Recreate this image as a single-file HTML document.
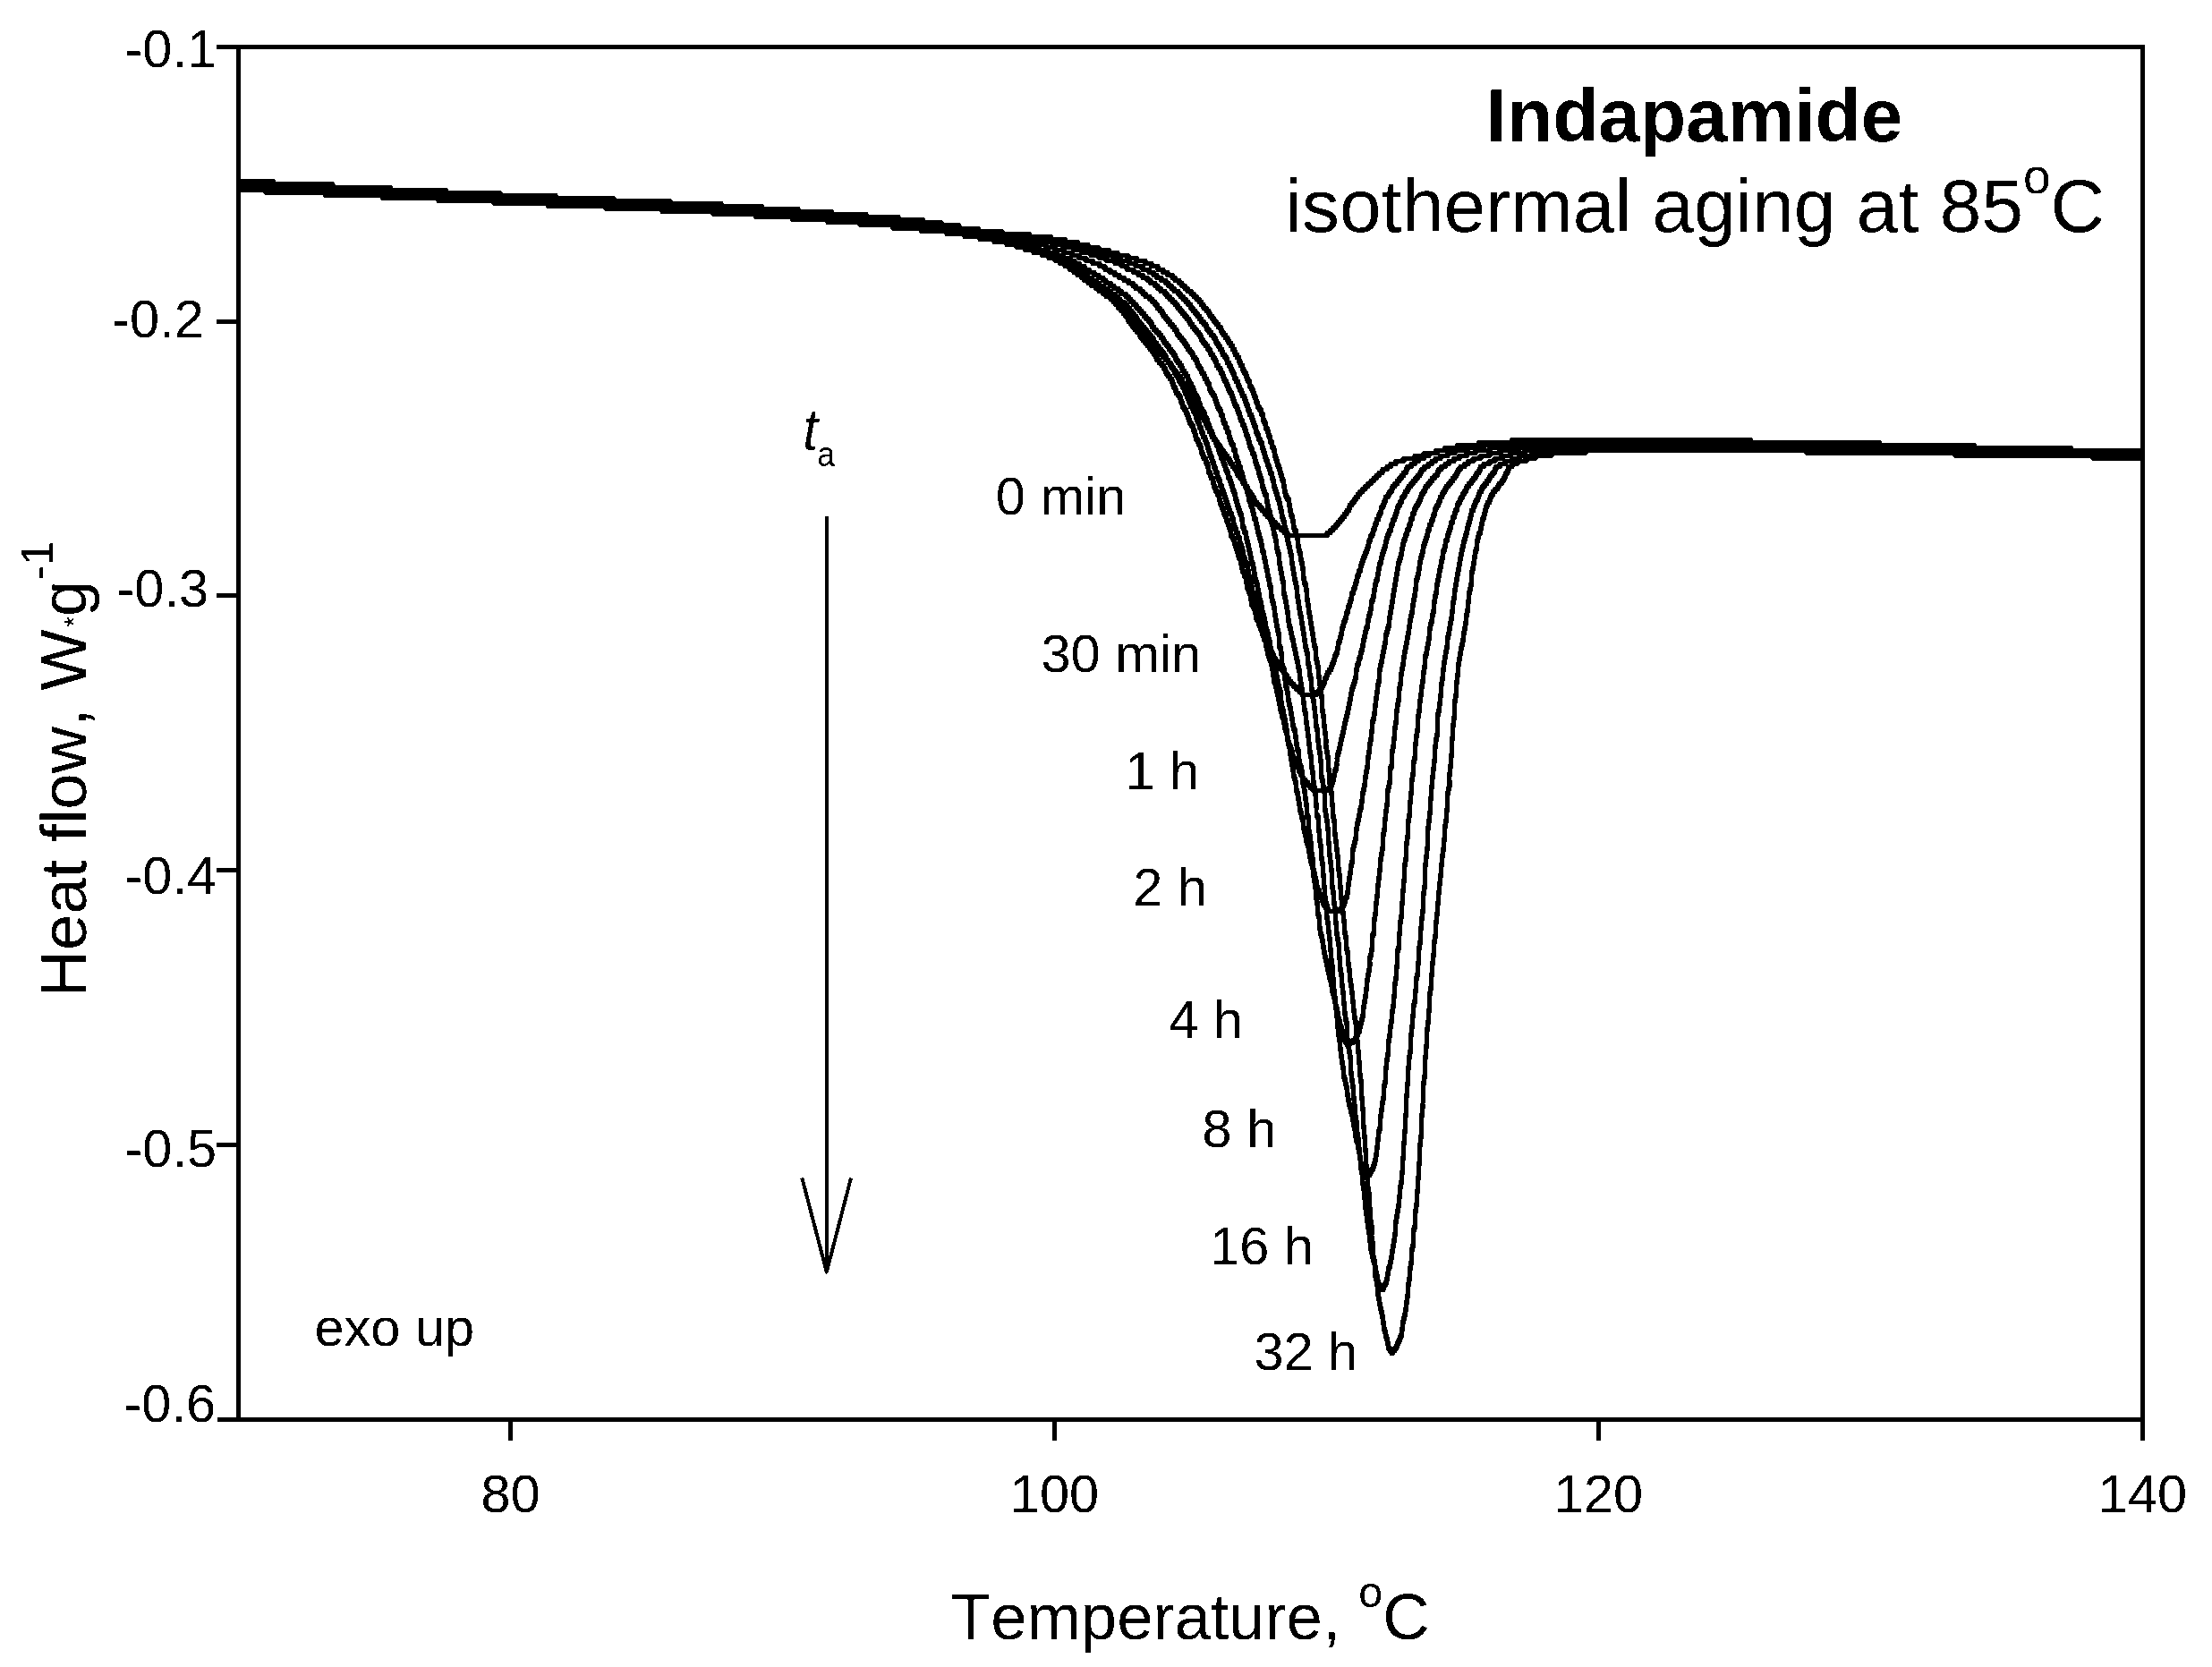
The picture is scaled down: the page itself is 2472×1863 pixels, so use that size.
<!DOCTYPE html>
<html lang="en"><head><meta charset="utf-8"><title>Indapamide isothermal aging at 85 C</title>
<style>
html,body{margin:0;padding:0;background:#fff;}
body{width:2472px;height:1863px;overflow:hidden;}
svg{display:block;}
text{font-family:"Liberation Sans",Arial,Helvetica,sans-serif;fill:#000;font-kerning:none;font-variant-ligatures:none;}
.ax{stroke:#000;stroke-width:5;fill:none;}
.cv{stroke:#000;stroke-width:5.0;fill:none;stroke-linejoin:round;stroke-linecap:butt;}
.ar{stroke:#000;stroke-width:4;fill:none;stroke-linejoin:round;}
</style></head><body>
<svg width="2472" height="1863" viewBox="0 0 2472 1863">
<defs><filter id="bw" x="0" y="0" width="2472" height="1863" filterUnits="userSpaceOnUse" color-interpolation-filters="sRGB"><feComponentTransfer><feFuncA type="discrete" tableValues="0 1"/></feComponentTransfer></filter></defs>
<rect width="2472" height="1863" fill="#fff"/>

<g fill="#000" stroke="none" shape-rendering="crispEdges">
<path d="M269 209.6L308.9 209.6L310.9 212.6L375 212.6L377 215.7L439.3 215.7L441.3 218.8L501.5 218.8L503.5 221.8L561.8 221.8L563.8 224.9L624.2 224.9L626.2 228L689 228L691.1 231L751.8 231L753.8 234.1L807.1 234.1L809.2 237.2L852.8 237.2L854.8 240.2L893.4 240.2L895.4 243.3L932.8 243.3L934.7 246.4L969.5 246.4L971.5 249.4L1005.5 249.4L1007.5 252.5L1035.1 252.5L1037.1 255.6L1059.5 255.6L1061.5 258.6L1079.4 258.6L1081.4 261.7L1096.8 261.7L1098.7 264.8L1112.6 264.8L1114.6 267.8L1126.5 267.8L1128.4 270.9L1138.1 270.9L1140 274L1147.5 274L1149.3 277L1156.9 277L1158.8 280.1L1166.5 280.1L1168.4 283.2L1174 283.2L1175.8 286.2L1181.3 286.2L1183.1 289.3L1186.6 289.3L1188.4 292.4L1191.9 292.4L1193.7 295.4L1197.2 295.4L1198.9 298.5L1202.3 298.5L1204 301.6L1205.7 301.6L1207.4 304.7L1210.8 304.7L1212.4 307.7L1214 307.7L1215.6 310.8L1219 310.8L1220.6 313.9L1222.3 313.9L1224 316.9L1227.4 316.9L1229.1 320L1230.8 320L1232.6 323.1L1236.1 323.1L1237.8 326.1L1239.5 326.1L1241.2 329.2L1244.3 329.2L1245.9 332.3L1247.4 332.3L1248.9 335.3L1250.4 335.3L1251.9 338.4L1253.4 338.4L1254.9 341.5L1256.4 341.5L1257.8 344.5L1259.2 344.5L1260.5 347.6L1261.9 347.6L1263.2 350.7L1264.6 350.7L1265.9 353.7L1267.2 353.7L1268.4 356.8L1269.6 356.8L1270.8 359.9L1272.1 359.9L1273.3 362.9L1274.6 362.9L1276 366L1277.4 366L1278.9 369.1L1280.3 369.1L1281.7 372.1L1283.1 372.1L1284.5 375.2L1285.8 375.2L1287.2 378.3L1288.5 378.3L1289.8 381.3L1291.2 381.3L1292.5 384.4L1293.8 384.4L1295.1 387.5L1296.4 387.5L1297.7 390.5L1299 390.5L1300.3 393.6L1301.7 393.6L1303.1 396.7L1304.5 396.7L1305.9 399.7L1307.3 399.7L1308.6 402.8L1309.9 402.8L1311.1 405.9L1312.4 408.9L1313.6 408.9L1314.9 412L1316.1 412L1317.3 415.1L1318.5 415.1L1319.7 418.1L1320.7 418.1L1321.8 421.2L1322.8 421.2L1323.9 424.3L1325 427.3L1326.2 427.3L1327.4 430.4L1328.5 430.4L1329.7 433.5L1330.8 433.5L1331.8 436.5L1332.8 439.6L1333.8 439.6L1334.7 442.7L1335.7 442.7L1336.7 445.7L1337.6 448.8L1338.6 448.8L1339.5 451.9L1340.4 451.9L1341.3 454.9L1342.2 454.9L1343.1 458L1344 461.1L1345 461.1L1346.2 464.1L1347.3 464.1L1348.3 467.2L1349.3 467.2L1350.2 470.3L1351 473.3L1351.9 473.3L1352.7 476.4L1353.6 476.4L1354.5 479.5L1355.5 479.5L1356.5 482.5L1357.5 485.6L1358.5 485.6L1359.5 488.7L1360.6 488.7L1361.7 491.7L1362.8 491.7L1364 494.8L1365.2 494.8L1366.4 497.9L1367.7 500.9L1368.9 500.9L1370.1 504L1371.2 504L1372.3 507.1L1373.4 507.1L1374.6 510.1L1375.8 510.1L1377.1 513.2L1378.3 516.3L1379.6 516.3L1380.7 519.3L1381.8 519.3L1382.9 522.4L1384 522.4L1385.1 525.5L1386.3 528.5L1387.5 528.5L1388.7 531.6L1389.9 531.6L1391.1 534.7L1392.2 537.7L1393.4 537.7L1394.5 540.8L1395.6 540.8L1396.8 543.9L1397.9 546.9L1399 546.9L1400.1 550L1401.2 550L1402.2 553.1L1403.3 553.1L1404.3 556.1L1405.5 559.2L1406.7 559.2L1408.1 562.3L1409.5 562.3L1410.9 565.3L1412.3 565.3L1413.7 568.4L1415.1 568.4L1416.5 571.5L1417.8 571.5L1419.4 574.5L1420.9 574.5L1422.4 577.6L1424 577.6L1425.5 580.7L1427 580.7L1428.5 583.7L1430 583.7L1431.6 586.8L1433.3 586.8L1434.9 589.9L1436.7 589.9L1438.5 592.9L1440.4 592.9L1442.3 596L1485 596L1485 601L1480 601L1437.3 601L1435.4 597.9L1433.5 597.9L1431.7 594.9L1429.9 594.9L1428.3 591.8L1426.6 591.8L1425 588.7L1423.5 588.7L1422 585.7L1420.5 585.7L1419 582.6L1417.4 582.6L1415.9 579.5L1414.4 579.5L1412.8 576.5L1411.5 576.5L1410.1 573.4L1408.7 573.4L1407.3 570.3L1405.9 570.3L1404.5 567.3L1403.1 567.3L1401.7 564.2L1400.5 564.2L1399.3 561.1L1398.3 558.1L1397.2 558.1L1396.2 555L1395.1 555L1394 551.9L1392.9 551.9L1391.8 548.9L1390.6 545.8L1389.5 545.8L1388.4 542.7L1387.2 542.7L1386.1 539.7L1384.9 536.6L1383.7 536.6L1382.5 533.5L1381.3 533.5L1380.1 530.5L1379 527.4L1377.9 527.4L1376.8 524.3L1375.7 524.3L1374.6 521.3L1373.3 521.3L1372.1 518.2L1370.8 515.1L1369.6 515.1L1368.4 512.1L1367.3 512.1L1366.2 509L1365.1 509L1363.9 505.9L1362.7 505.9L1361.4 502.9L1360.2 499.8L1359 499.8L1357.8 496.7L1356.7 496.7L1355.6 493.7L1354.5 493.7L1353.5 490.6L1352.5 490.6L1351.5 487.5L1350.5 484.5L1349.5 484.5L1348.6 481.4L1347.7 481.4L1346.9 478.3L1346 478.3L1345.2 475.3L1344.3 472.2L1343.3 472.2L1342.3 469.1L1341.2 469.1L1340 466.1L1339 466.1L1338.1 463L1337.2 459.9L1336.3 459.9L1335.4 456.9L1334.5 456.9L1333.6 453.8L1332.6 453.8L1331.7 450.7L1330.7 447.7L1329.7 447.7L1328.8 444.6L1327.8 444.6L1326.8 441.5L1325.8 438.5L1324.7 438.5L1323.5 435.4L1322.4 435.4L1321.2 432.3L1320 432.3L1318.9 429.3L1317.8 426.2L1316.8 426.2L1315.7 423.1L1314.7 423.1L1313.5 420.1L1312.3 420.1L1311.1 417L1309.9 417L1308.6 413.9L1307.4 413.9L1306.1 410.9L1304.9 407.8L1303.6 407.8L1302.3 404.7L1300.9 404.7L1299.5 401.7L1298.1 401.7L1296.7 398.6L1295.3 398.6L1294 395.5L1292.7 395.5L1291.4 392.5L1290.1 392.5L1288.8 389.4L1287.5 389.4L1286.2 386.3L1284.8 386.3L1283.5 383.3L1282.2 383.3L1280.8 380.2L1279.5 380.2L1278.1 377.1L1276.7 377.1L1275.3 374.1L1273.9 374.1L1272.4 371L1271 371L1269.6 367.9L1268.3 367.9L1267.1 364.9L1265.8 364.9L1264.6 361.8L1263.4 361.8L1262.2 358.7L1260.9 358.7L1259.6 355.7L1258.2 355.7L1256.9 352.6L1255.5 352.6L1254.2 349.5L1252.8 349.5L1251.4 346.5L1249.9 346.5L1248.4 343.4L1246.9 343.4L1245.4 340.3L1243.9 340.3L1242.4 337.3L1240.9 337.3L1239.3 334.2L1236.2 334.2L1234.5 331.1L1232.8 331.1L1231.1 328.1L1227.6 328.1L1225.8 325L1224.1 325L1222.4 321.9L1219 321.9L1217.3 318.9L1215.6 318.9L1214 315.8L1210.6 315.8L1209 312.7L1207.4 312.7L1205.8 309.7L1202.4 309.7L1200.7 306.6L1199 306.6L1197.3 303.5L1193.9 303.5L1192.2 300.4L1188.7 300.4L1186.9 297.4L1183.4 297.4L1181.6 294.3L1178.1 294.3L1176.3 291.2L1170.8 291.2L1169 288.2L1163.4 288.2L1161.5 285.1L1153.8 285.1L1151.9 282L1144.3 282L1142.5 279L1135 279L1133.1 275.9L1123.4 275.9L1121.5 272.8L1109.6 272.8L1107.6 269.8L1093.7 269.8L1091.8 266.7L1076.4 266.7L1074.4 263.6L1056.5 263.6L1054.5 260.6L1032.1 260.6L1030.1 257.5L1002.5 257.5L1000.5 254.4L966.5 254.4L964.5 251.4L929.7 251.4L927.8 248.3L890.4 248.3L888.4 245.2L849.8 245.2L847.8 242.2L804.2 242.2L802.1 239.1L748.8 239.1L746.8 236L686.1 236L684 233L621.2 233L619.2 229.9L558.8 229.9L556.8 226.8L498.5 226.8L496.5 223.8L436.3 223.8L434.3 220.7L372 220.7L370 217.6L305.9 217.6L303.9 214.6L264 214.6L264 209.6ZM1480 596L1481.7 592.9L1483.3 592.9L1484.9 589.9L1486.5 589.9L1488.1 586.8L1489.6 586.8L1491 583.7L1492.3 583.7L1493.6 580.7L1494.8 580.7L1496 577.6L1497.3 577.6L1498.4 574.5L1499.6 574.5L1500.8 571.5L1502 571.5L1503.1 568.4L1504.3 568.4L1505.4 565.3L1506.5 562.3L1507.7 562.3L1508.8 559.2L1509.9 559.2L1511.1 556.1L1512.2 556.1L1513.3 553.1L1514.4 553.1L1515.6 550L1516.7 550L1518 546.9L1519.4 546.9L1520.9 543.9L1522.5 543.9L1524.2 540.8L1525.8 540.8L1527.4 537.7L1528.9 537.7L1530.6 534.7L1532.1 534.7L1533.6 531.6L1535.1 531.6L1536.7 528.5L1538.4 528.5L1540 525.5L1541.7 525.5L1543.4 522.4L1546.9 522.4L1548.6 519.3L1550.4 519.3L1552.3 516.3L1556.1 516.3L1558 513.2L1564.6 513.2L1566.9 510.1L1577.5 510.1L1579.5 507.1L1588 507.1L1590.2 504L1602.5 504L1604.6 500.9L1617.1 500.9L1619.2 497.9L1633.7 497.9L1635.7 494.8L1653.9 494.8L1655.9 491.7L1686.6 491.7L1688.8 488.7L1952.5 488.7L1957.5 488.7L1957.5 493.7L1693.8 493.7L1691.6 496.7L1660.9 496.7L1658.9 499.8L1640.7 499.8L1638.7 502.9L1624.2 502.9L1622.1 505.9L1609.6 505.9L1607.5 509L1595.2 509L1593 512.1L1584.5 512.1L1582.5 515.1L1571.9 515.1L1569.6 518.2L1563 518.2L1561.1 521.3L1557.3 521.3L1555.4 524.3L1553.6 524.3L1551.9 527.4L1548.4 527.4L1546.7 530.5L1545 530.5L1543.4 533.5L1541.7 533.5L1540.1 536.6L1538.6 536.6L1537.1 539.7L1535.6 539.7L1533.9 542.7L1532.4 542.7L1530.8 545.8L1529.2 545.8L1527.5 548.9L1525.9 548.9L1524.4 551.9L1523 551.9L1521.7 555L1520.6 555L1519.4 558.1L1518.3 558.1L1517.2 561.1L1516.1 561.1L1514.9 564.2L1513.8 564.2L1512.7 567.3L1511.5 567.3L1510.4 570.3L1509.3 573.4L1508.1 573.4L1507 576.5L1505.8 576.5L1504.6 579.5L1503.4 579.5L1502.3 582.6L1501 582.6L1499.8 585.7L1498.6 585.7L1497.3 588.7L1496 588.7L1494.6 591.8L1493.1 591.8L1491.5 594.9L1489.9 594.9L1488.3 597.9L1486.7 597.9L1485 601L1480 601ZM1957.5 488.7L1959.5 491.7L2101.5 491.7L2103.5 494.8L2207.5 494.8L2209.5 497.9L2315.5 497.9L2317.5 500.9L2397 500.9L2397 505.9L2392 505.9L2312.5 505.9L2310.5 502.9L2204.5 502.9L2202.5 499.8L2098.5 499.8L2096.5 496.7L1954.5 496.7L1952.5 493.7L1952.5 488.7Z"/>
<path d="M269 209.6L298.9 209.6L300.9 212.6L365 212.6L367 215.7L429.2 215.7L431.2 218.8L491.4 218.8L493.4 221.8L553.8 221.8L555.8 224.9L614.1 224.9L616.2 228L678.9 228L680.9 231L741.7 231L743.7 234.1L799.2 234.1L801.1 237.2L846.6 237.2L848.7 240.2L887.4 240.2L889.4 243.3L927 243.3L928.9 246.4L963.4 246.4L965.4 249.4L999.6 249.4L1001.6 252.5L1031 252.5L1033 255.6L1059.4 255.6L1061.5 258.6L1083.3 258.6L1085.2 261.7L1102.5 261.7L1104.6 264.8L1119.1 264.8L1121.1 267.8L1131.2 267.8L1133.2 270.9L1143.1 270.9L1145 274L1152.6 274L1154.5 277L1160.6 277L1162.6 280.1L1168.6 280.1L1170.6 283.2L1176.4 283.2L1178.4 286.2L1182.1 286.2L1184 289.3L1189.4 289.3L1191.2 292.4L1193 292.4L1194.8 295.4L1198.2 295.4L1199.9 298.5L1201.6 298.5L1203.3 301.6L1206.8 301.6L1208.5 304.7L1210.2 304.7L1211.8 307.7L1213.4 307.7L1214.9 310.8L1218 310.8L1219.7 313.9L1221.3 313.9L1223.1 316.9L1226.6 316.9L1228.2 320L1229.9 320L1231.5 323.1L1234.7 323.1L1236.4 326.1L1238.1 326.1L1239.8 329.2L1243.1 329.2L1244.6 332.3L1246 332.3L1247.4 335.3L1248.7 335.3L1250.1 338.4L1251.5 338.4L1252.9 341.5L1254.4 341.5L1255.8 344.5L1257.1 344.5L1258.4 347.6L1259.6 347.6L1260.8 350.7L1261.9 350.7L1263.1 353.7L1264.3 356.8L1265.5 356.8L1266.7 359.9L1267.8 359.9L1269 362.9L1270.2 362.9L1271.4 366L1272.7 366L1274 369.1L1275.4 369.1L1276.7 372.1L1278 375.2L1279.2 375.2L1280.4 378.3L1281.6 378.3L1282.9 381.3L1284.2 381.3L1285.6 384.4L1287 384.4L1288.4 387.5L1289.7 387.5L1290.8 390.5L1291.8 390.5L1292.8 393.6L1293.7 393.6L1294.7 396.7L1295.9 399.7L1297.2 399.7L1298.6 402.8L1299.9 402.8L1301.3 405.9L1302.4 405.9L1303.4 408.9L1304.3 408.9L1305.2 412L1306.1 415.1L1307.2 415.1L1308.4 418.1L1309.6 418.1L1310.7 421.2L1311.7 421.2L1312.5 424.3L1313.2 427.3L1313.9 427.3L1314.5 430.4L1315.3 430.4L1316.3 433.5L1317.4 436.5L1318.6 436.5L1319.8 439.6L1320.8 439.6L1321.7 442.7L1322.3 445.7L1322.9 445.7L1323.6 448.8L1324.3 451.9L1325.2 451.9L1326.3 454.9L1327.3 454.9L1328.3 458L1329.1 461.1L1329.7 461.1L1330.3 464.1L1330.9 464.1L1331.6 467.2L1332.4 470.3L1333.4 470.3L1334.4 473.3L1335.4 473.3L1336.2 476.4L1336.9 479.5L1337.4 479.5L1337.8 482.5L1338.3 482.5L1338.9 485.6L1339.7 488.7L1340.7 488.7L1341.8 491.7L1342.8 494.8L1343.6 494.8L1344.2 497.9L1344.7 497.9L1345.1 500.9L1345.6 504L1346.3 504L1347.2 507.1L1348.3 510.1L1349.4 510.1L1350.4 513.2L1351.2 516.3L1351.7 516.3L1352.1 519.3L1352.5 519.3L1352.9 522.4L1353.6 525.5L1354.5 525.5L1355.5 528.5L1356.5 531.6L1357.4 531.6L1358.1 534.7L1358.6 537.7L1359 537.7L1359.5 540.8L1360.1 540.8L1360.8 543.9L1361.7 546.9L1362.6 546.9L1363.6 550L1364.3 550L1365 553.1L1365.5 556.1L1365.9 556.1L1366.4 559.2L1367 562.3L1367.7 562.3L1368.4 565.3L1369.2 565.3L1370 568.4L1370.7 571.5L1371.3 571.5L1371.9 574.5L1372.5 574.5L1373.2 577.6L1374 580.7L1374.8 580.7L1375.5 583.7L1376.2 586.8L1376.8 586.8L1377.2 589.9L1377.6 589.9L1378 592.9L1378.5 596L1379.2 596L1379.9 599.1L1380.8 599.1L1381.7 602.1L1382.5 605.2L1383.1 605.2L1383.6 608.3L1384 611.4L1384.5 611.4L1385 614.4L1385.6 614.4L1386.4 617.5L1387.3 620.6L1388.1 620.6L1388.8 623.6L1389.3 626.7L1389.6 626.7L1389.8 629.8L1390.1 629.8L1390.6 632.8L1391.3 635.9L1392.1 635.9L1393.1 639L1393.9 642L1394.6 642L1395.1 645.1L1395.4 648.2L1395.6 648.2L1396 651.2L1396.5 654.3L1397.2 654.3L1398 657.4L1398.8 660.4L1399.4 660.4L1399.9 663.5L1400.3 666.6L1400.6 666.6L1401 669.6L1401.5 672.7L1402.2 672.7L1403 675.8L1403.8 675.8L1404.6 678.8L1405.2 681.9L1405.7 681.9L1406.1 685L1406.5 688L1407 688L1407.7 691.1L1408.5 691.1L1409.3 694.2L1410.2 697.2L1410.9 697.2L1411.6 700.3L1412.2 700.3L1412.7 703.4L1413.2 706.4L1413.9 706.4L1414.8 709.5L1415.9 712.6L1417.1 712.6L1418.3 715.6L1419.3 715.6L1420.1 718.7L1420.8 721.8L1421.4 721.8L1422 724.8L1422.7 724.8L1423.6 727.9L1424.7 727.9L1425.8 731L1427 734L1428 734L1428.9 737.1L1429.7 737.1L1430.5 740.2L1431.4 740.2L1432.4 743.2L1433.6 743.2L1434.9 746.3L1436.4 746.3L1437.8 749.4L1439.1 752.4L1440.4 752.4L1441.4 755.5L1442.4 755.5L1443.5 758.6L1444.7 758.6L1445.9 761.6L1447.4 761.6L1448.9 764.7L1450.5 764.7L1452.1 767.8L1453.7 767.8L1455.2 770.8L1456.8 770.8L1458.5 773.9L1472.9 773.9L1472.9 778.9L1467.9 778.9L1453.5 778.9L1451.8 775.8L1450.2 775.8L1448.7 772.8L1447.1 772.8L1445.5 769.7L1443.9 769.7L1442.4 766.6L1440.9 766.6L1439.7 763.6L1438.5 763.6L1437.4 760.5L1436.4 760.5L1435.4 757.4L1434.1 757.4L1432.8 754.4L1431.4 751.3L1429.9 751.3L1428.6 748.2L1427.4 748.2L1426.4 745.2L1425.5 745.2L1424.7 742.1L1423.9 742.1L1423 739L1422 739L1420.8 736L1419.7 732.9L1418.6 732.9L1417.7 729.8L1417 729.8L1416.4 726.8L1415.8 726.8L1415.1 723.7L1414.3 720.6L1413.3 720.6L1412.1 717.6L1410.9 717.6L1409.8 714.5L1408.9 711.4L1408.2 711.4L1407.7 708.4L1407.2 705.3L1406.6 705.3L1405.9 702.2L1405.2 702.2L1404.3 699.2L1403.5 696.1L1402.7 696.1L1402 693L1401.5 693L1401.1 690L1400.7 686.9L1400.2 686.9L1399.6 683.8L1398.8 680.8L1398 680.8L1397.2 677.7L1396.5 677.7L1396 674.6L1395.6 671.6L1395.3 671.6L1394.9 668.5L1394.4 665.4L1393.8 665.4L1393 662.4L1392.2 659.3L1391.5 659.3L1391 656.2L1390.6 653.2L1390.4 653.2L1390.1 650.1L1389.6 647L1388.9 647L1388.1 644L1387.1 640.9L1386.3 640.9L1385.6 637.8L1385.1 634.8L1384.8 634.8L1384.6 631.7L1384.3 631.7L1383.8 628.6L1383.1 625.6L1382.3 625.6L1381.4 622.5L1380.6 619.4L1380 619.4L1379.5 616.4L1379 616.4L1378.6 613.3L1378.1 610.2L1377.5 610.2L1376.7 607.1L1375.8 604.1L1374.9 604.1L1374.2 601L1373.5 601L1373 597.9L1372.6 594.9L1372.2 594.9L1371.8 591.8L1371.2 591.8L1370.5 588.7L1369.8 585.7L1369 585.7L1368.2 582.6L1367.5 579.5L1366.9 579.5L1366.3 576.5L1365.7 576.5L1365 573.4L1364.2 570.3L1363.4 570.3L1362.7 567.3L1362 567.3L1361.4 564.2L1360.9 561.1L1360.5 561.1L1360 558.1L1359.3 555L1358.6 555L1357.6 551.9L1356.7 551.9L1355.8 548.9L1355.1 545.8L1354.5 545.8L1354 542.7L1353.6 542.7L1353.1 539.7L1352.4 536.6L1351.5 536.6L1350.5 533.5L1349.5 530.5L1348.6 530.5L1347.9 527.4L1347.5 524.3L1347.1 524.3L1346.7 521.3L1346.2 521.3L1345.4 518.2L1344.4 515.1L1343.3 515.1L1342.2 512.1L1341.3 509L1340.6 509L1340.1 505.9L1339.7 502.9L1339.2 502.9L1338.6 499.8L1337.8 499.8L1336.8 496.7L1335.7 493.7L1334.7 493.7L1333.9 490.6L1333.3 487.5L1332.8 487.5L1332.4 484.5L1331.9 484.5L1331.2 481.4L1330.4 478.3L1329.4 478.3L1328.4 475.3L1327.4 475.3L1326.6 472.2L1325.9 469.1L1325.3 469.1L1324.7 466.1L1324.1 466.1L1323.3 463L1322.3 459.9L1321.3 459.9L1320.2 456.9L1319.3 456.9L1318.6 453.8L1317.9 450.7L1317.3 450.7L1316.7 447.7L1315.8 444.6L1314.8 444.6L1313.6 441.5L1312.4 441.5L1311.3 438.5L1310.3 435.4L1309.5 435.4L1308.9 432.3L1308.2 432.3L1307.5 429.3L1306.7 426.2L1305.7 426.2L1304.6 423.1L1303.4 423.1L1302.2 420.1L1301.1 420.1L1300.2 417L1299.3 413.9L1298.4 413.9L1297.4 410.9L1296.3 410.9L1294.9 407.8L1293.6 407.8L1292.2 404.7L1290.9 404.7L1289.7 401.7L1288.7 398.6L1287.8 398.6L1286.8 395.5L1285.8 395.5L1284.7 392.5L1283.4 392.5L1282 389.4L1280.6 389.4L1279.2 386.3L1277.9 386.3L1276.6 383.3L1275.4 383.3L1274.2 380.2L1273 380.2L1271.7 377.1L1270.4 374.1L1269 374.1L1267.7 371L1266.4 371L1265.2 367.9L1264 367.9L1262.8 364.9L1261.7 364.9L1260.5 361.8L1259.3 361.8L1258.1 358.7L1256.9 355.7L1255.8 355.7L1254.6 352.6L1253.4 352.6L1252.1 349.5L1250.8 349.5L1249.4 346.5L1247.9 346.5L1246.5 343.4L1245.1 343.4L1243.7 340.3L1242.4 340.3L1241 337.3L1239.6 337.3L1238.1 334.2L1234.8 334.2L1233.1 331.1L1231.4 331.1L1229.7 328.1L1226.5 328.1L1224.9 325L1223.2 325L1221.6 321.9L1218.1 321.9L1216.3 318.9L1214.7 318.9L1213 315.8L1209.9 315.8L1208.4 312.7L1206.8 312.7L1205.2 309.7L1203.5 309.7L1201.8 306.6L1198.3 306.6L1196.6 303.5L1194.9 303.5L1193.2 300.4L1189.8 300.4L1188 297.4L1186.2 297.4L1184.4 294.3L1179 294.3L1177.1 291.2L1173.4 291.2L1171.4 288.2L1165.6 288.2L1163.6 285.1L1157.6 285.1L1155.6 282L1149.5 282L1147.6 279L1140 279L1138.1 275.9L1128.2 275.9L1126.2 272.8L1116.1 272.8L1114.1 269.8L1099.6 269.8L1097.5 266.7L1080.2 266.7L1078.3 263.6L1056.5 263.6L1054.4 260.6L1028 260.6L1026 257.5L996.6 257.5L994.6 254.4L960.4 254.4L958.4 251.4L923.9 251.4L922 248.3L884.4 248.3L882.4 245.2L843.7 245.2L841.6 242.2L796.1 242.2L794.2 239.1L738.7 239.1L736.7 236L675.9 236L673.9 233L611.2 233L609.1 229.9L550.8 229.9L548.8 226.8L488.4 226.8L486.4 223.8L426.2 223.8L424.2 220.7L362 220.7L360 217.6L295.9 217.6L293.9 214.6L264 214.6L264 209.6ZM1467.9 773.9L1469.6 770.8L1471.1 770.8L1472.5 767.8L1473.8 767.8L1475.1 764.7L1476.2 761.6L1477.1 761.6L1477.9 758.6L1478.6 755.5L1479.4 755.5L1480.4 752.4L1481.4 749.4L1482.4 749.4L1483.5 746.3L1484.5 746.3L1485.4 743.2L1486.2 740.2L1486.9 740.2L1487.6 737.1L1488.2 737.1L1488.8 734L1489.4 731L1490.1 731L1490.8 727.9L1491.3 727.9L1491.8 724.8L1492.3 721.8L1492.6 721.8L1493 718.7L1493.5 715.6L1494.1 715.6L1494.7 712.6L1495.4 709.5L1496 709.5L1496.5 706.4L1497 703.4L1497.4 700.3L1497.8 700.3L1498.2 697.2L1498.7 697.2L1499.3 694.2L1499.9 691.1L1500.5 691.1L1501.1 688L1501.6 688L1502.2 685L1502.7 681.9L1503.3 681.9L1503.9 678.8L1504.6 675.8L1505.2 675.8L1505.8 672.7L1506.3 669.6L1506.8 669.6L1507.2 666.6L1507.6 666.6L1508.1 663.5L1508.6 660.4L1509.3 660.4L1510.1 657.4L1510.9 654.3L1511.7 654.3L1512.4 651.2L1512.9 648.2L1513.4 648.2L1513.9 645.1L1514.5 642L1515.1 642L1515.8 639L1516.6 635.9L1517.3 635.9L1518 632.8L1518.6 629.8L1519.1 629.8L1519.5 626.7L1520 626.7L1520.6 623.6L1521.3 620.6L1522.1 620.6L1523 617.5L1523.9 614.4L1524.8 614.4L1525.5 611.4L1526.1 608.3L1526.6 608.3L1527.1 605.2L1527.6 602.1L1528.3 602.1L1529.1 599.1L1529.9 596L1530.8 596L1531.7 592.9L1532.4 589.9L1533.1 589.9L1533.7 586.8L1534.3 583.7L1535 583.7L1535.8 580.7L1536.6 577.6L1537.5 577.6L1538.4 574.5L1539.3 571.5L1540.1 571.5L1540.8 568.4L1541.5 565.3L1542.2 565.3L1542.8 562.3L1543.5 562.3L1544.2 559.2L1545 559.2L1545.8 556.1L1546.6 553.1L1548.3 553.1L1549.2 550L1550 550L1550.8 546.9L1552 546.9L1553.3 543.9L1554.5 540.8L1555.8 540.8L1557.2 537.7L1558.6 537.7L1559.7 534.7L1560.9 534.7L1562.1 531.6L1563.3 531.6L1564.5 528.5L1565.6 528.5L1566.9 525.5L1568.1 525.5L1569.5 522.4L1570.8 519.3L1573.5 519.3L1575.6 516.3L1577.6 516.3L1579.5 513.2L1581.6 513.2L1583.5 510.1L1587.5 510.1L1589.5 507.1L1593.4 507.1L1595.4 504L1601.5 504L1603.5 500.9L1611.5 500.9L1613.5 497.9L1625.5 497.9L1627.5 494.8L1649.5 494.8L1651.5 491.7L1739.5 491.7L1741.5 488.7L1809.5 488.7L1814.5 488.7L1814.5 493.7L1746.5 493.7L1744.5 496.7L1656.5 496.7L1654.5 499.8L1632.5 499.8L1630.5 502.9L1618.5 502.9L1616.5 505.9L1608.5 505.9L1606.5 509L1600.4 509L1598.4 512.1L1594.5 512.1L1592.5 515.1L1588.5 515.1L1586.6 518.2L1584.5 518.2L1582.6 521.3L1580.6 521.3L1578.5 524.3L1575.8 524.3L1574.5 527.4L1573.1 530.5L1571.9 530.5L1570.6 533.5L1569.5 533.5L1568.3 536.6L1567.1 536.6L1565.9 539.7L1564.7 539.7L1563.6 542.7L1562.2 542.7L1560.8 545.8L1559.5 545.8L1558.3 548.9L1557 551.9L1555.8 551.9L1555 555L1554.2 555L1553.3 558.1L1551.6 558.1L1550.8 561.1L1550 564.2L1549.2 564.2L1548.5 567.3L1547.8 567.3L1547.2 570.3L1546.5 570.3L1545.8 573.4L1545.1 576.5L1544.3 576.5L1543.4 579.5L1542.5 582.6L1541.6 582.6L1540.8 585.7L1540 588.7L1539.3 588.7L1538.7 591.8L1538.1 594.9L1537.4 594.9L1536.7 597.9L1535.8 601L1534.9 601L1534.1 604.1L1533.3 607.1L1532.6 607.1L1532.1 610.2L1531.6 613.3L1531.1 613.3L1530.5 616.4L1529.8 619.4L1528.9 619.4L1528 622.5L1527.1 625.6L1526.3 625.6L1525.6 628.6L1525 631.7L1524.5 631.7L1524.1 634.8L1523.6 634.8L1523 637.8L1522.3 640.9L1521.6 640.9L1520.8 644L1520.1 647L1519.5 647L1518.9 650.1L1518.4 653.2L1517.9 653.2L1517.4 656.2L1516.7 659.3L1515.9 659.3L1515.1 662.4L1514.3 665.4L1513.6 665.4L1513.1 668.5L1512.6 671.6L1512.2 671.6L1511.8 674.6L1511.3 674.6L1510.8 677.7L1510.2 680.8L1509.6 680.8L1508.9 683.8L1508.3 686.9L1507.7 686.9L1507.2 690L1506.6 693L1506.1 693L1505.5 696.1L1504.9 696.1L1504.3 699.2L1503.7 702.2L1503.2 702.2L1502.8 705.3L1502.4 705.3L1502 708.4L1501.5 711.4L1501 714.5L1500.4 714.5L1499.7 717.6L1499.1 720.6L1498.5 720.6L1498 723.7L1497.6 726.8L1497.3 726.8L1496.8 729.8L1496.3 732.9L1495.8 732.9L1495.1 736L1494.4 736L1493.8 739L1493.2 742.1L1492.6 742.1L1491.9 745.2L1491.2 745.2L1490.4 748.2L1489.5 751.3L1488.5 751.3L1487.4 754.4L1486.4 754.4L1485.4 757.4L1484.4 760.5L1483.6 760.5L1482.9 763.6L1482.1 766.6L1481.2 766.6L1480.1 769.7L1478.8 772.8L1477.5 772.8L1476.1 775.8L1474.6 775.8L1472.9 778.9L1467.9 778.9ZM1814.5 488.7L1816.5 491.7L2032.5 491.7L2034.5 494.8L2154.5 494.8L2156.5 497.9L2264.5 497.9L2266.5 500.9L2386.5 500.9L2388.6 504L2397 504L2397 509L2392 509L2383.6 509L2381.5 505.9L2261.5 505.9L2259.5 502.9L2151.5 502.9L2149.5 499.8L2029.5 499.8L2027.5 496.7L1811.5 496.7L1809.5 493.7L1809.5 488.7Z"/>
<path d="M269 206.5L304.9 206.5L306.9 209.6L371 209.6L373 212.6L435.3 212.6L437.3 215.7L497.4 215.7L499.5 218.8L557.8 218.8L559.8 221.8L620.2 221.8L622.2 224.9L685 224.9L687 228L747.8 228L749.8 231L805 231L807.1 234.1L850.7 234.1L852.8 237.2L891.4 237.2L893.4 240.2L930.9 240.2L932.8 243.3L969.5 243.3L971.5 246.4L1003.6 246.4L1005.6 249.4L1033 249.4L1035.1 252.5L1053.4 252.5L1055.4 255.6L1071.4 255.6L1073.4 258.6L1087.1 258.6L1089.1 261.7L1102.5 261.7L1104.5 264.8L1116.6 264.8L1118.6 267.8L1130.5 267.8L1132.4 270.9L1144 270.9L1145.9 274L1153.4 274L1155.2 277L1163.1 277L1165 280.1L1172.6 280.1L1174.5 283.2L1180.1 283.2L1181.9 286.2L1187.4 286.2L1189.2 289.3L1192.6 289.3L1194.4 292.4L1199.8 292.4L1201.6 295.4L1203.3 295.4L1204.9 298.5L1208 298.5L1209.7 301.6L1213.1 301.6L1214.9 304.7L1216.6 304.7L1218.3 307.7L1221.4 307.7L1222.9 310.8L1226.1 310.8L1227.8 313.9L1229.6 313.9L1231.3 316.9L1234.7 316.9L1236.3 320L1239.5 320L1241.2 323.1L1242.9 323.1L1244.6 326.1L1247.8 326.1L1249.3 329.2L1250.8 329.2L1252.2 332.3L1253.7 332.3L1255.2 335.3L1258.3 335.3L1260 338.4L1261.5 338.4L1262.9 341.5L1264.2 341.5L1265.4 344.5L1266.6 344.5L1267.7 347.6L1268.9 347.6L1270.2 350.7L1271.6 350.7L1272.9 353.7L1274.3 356.8L1275.6 356.8L1276.8 359.9L1278 359.9L1279.3 362.9L1280.5 362.9L1281.8 366L1283.1 366L1284.5 369.1L1285.8 369.1L1287 372.1L1288.2 372.1L1289.5 375.2L1290.7 375.2L1291.9 378.3L1293.2 381.3L1294.5 381.3L1295.7 384.4L1296.9 384.4L1298.2 387.5L1299.4 387.5L1300.6 390.5L1301.8 390.5L1303 393.6L1304.1 393.6L1305.3 396.7L1306.4 399.7L1307.5 399.7L1308.6 402.8L1309.7 402.8L1310.7 405.9L1311.8 405.9L1312.8 408.9L1313.8 408.9L1314.8 412L1315.8 415.1L1316.9 415.1L1317.9 418.1L1318.9 418.1L1320 421.2L1320.9 424.3L1321.9 424.3L1322.8 427.3L1323.7 427.3L1324.5 430.4L1325.4 430.4L1326.3 433.5L1327.3 436.5L1328.2 436.5L1329.1 439.6L1329.9 442.7L1330.6 442.7L1331.3 445.7L1331.9 445.7L1332.7 448.8L1333.6 451.9L1334.7 451.9L1335.8 454.9L1337 458L1338 458L1338.9 461.1L1339.5 464.1L1340.1 464.1L1340.6 467.2L1341.2 467.2L1341.8 470.3L1342.4 470.3L1343.1 473.3L1343.8 476.4L1344.5 476.4L1345.2 479.5L1345.9 479.5L1346.7 482.5L1347.5 485.6L1348.4 485.6L1349.3 488.7L1350.2 491.7L1350.9 491.7L1351.6 494.8L1352.1 497.9L1352.5 497.9L1353 500.9L1353.6 500.9L1354.4 504L1355.2 507.1L1356 507.1L1356.8 510.1L1357.5 513.2L1358.2 513.2L1358.8 516.3L1359.5 519.3L1360.2 519.3L1360.9 522.4L1361.7 525.5L1362.4 525.5L1363.1 528.5L1363.7 531.6L1364.3 531.6L1364.8 534.7L1365.4 534.7L1366 537.7L1366.8 540.8L1367.5 540.8L1368.2 543.9L1369 546.9L1369.6 546.9L1370.3 550L1370.9 550L1371.5 553.1L1372.2 556.1L1372.9 556.1L1373.5 559.2L1374.2 562.3L1374.8 562.3L1375.5 565.3L1376.2 568.4L1376.9 568.4L1377.7 571.5L1378.5 571.5L1379.2 574.5L1379.9 577.6L1380.5 577.6L1381 580.7L1381.4 583.7L1381.9 583.7L1382.4 586.8L1383.1 586.8L1383.8 589.9L1384.6 592.9L1385.4 592.9L1386.2 596L1386.8 599.1L1387.5 599.1L1388 602.1L1388.6 605.2L1389.2 605.2L1389.8 608.3L1390.3 608.3L1390.8 611.4L1391.3 614.4L1391.7 614.4L1392.1 617.5L1392.6 620.6L1393.2 620.6L1393.9 623.6L1394.7 626.7L1395.4 626.7L1396 629.8L1396.5 629.8L1396.9 632.8L1397.2 635.9L1397.5 635.9L1398 639L1398.5 642L1399.1 642L1399.8 645.1L1400.3 648.2L1400.7 648.2L1401.1 651.2L1401.3 654.3L1401.6 654.3L1402.1 657.4L1402.6 660.4L1403.3 660.4L1404 663.5L1404.6 666.6L1405.1 666.6L1405.5 669.6L1405.8 669.6L1406.1 672.7L1406.5 675.8L1406.9 675.8L1407.5 678.8L1408 681.9L1408.6 681.9L1409 685L1409.4 688L1409.7 688L1410 691.1L1410.3 691.1L1410.8 694.2L1411.3 697.2L1411.9 697.2L1412.6 700.3L1413.3 700.3L1413.9 703.4L1414.4 706.4L1414.8 706.4L1415.3 709.5L1415.8 712.6L1416.4 712.6L1417 715.6L1417.5 718.7L1418 718.7L1418.4 721.8L1418.8 724.8L1419.1 724.8L1419.5 727.9L1419.9 727.9L1420.6 731L1421.3 734L1422.1 734L1422.9 737.1L1423.5 740.2L1424 740.2L1424.4 743.2L1424.6 746.3L1424.9 746.3L1425.1 749.4L1425.3 752.4L1425.6 752.4L1426 755.5L1426.5 758.6L1427 758.6L1427.6 761.6L1428.1 764.7L1428.7 764.7L1429.2 767.8L1429.7 770.8L1430.1 770.8L1430.5 773.9L1430.9 777L1431.3 777L1431.7 780L1432 783.1L1432.4 783.1L1432.7 786.2L1433.1 789.2L1433.4 789.2L1433.9 792.3L1434.4 792.3L1435 795.4L1435.5 798.4L1436.2 798.4L1436.7 801.5L1437.2 804.6L1437.6 804.6L1438 807.6L1438.4 810.7L1438.9 810.7L1439.4 813.8L1440 816.8L1440.6 816.8L1441.1 819.9L1441.6 823L1442 823L1442.4 826L1442.9 829.1L1443.4 829.1L1444.1 832.2L1444.8 832.2L1445.5 835.2L1446.1 838.3L1446.8 838.3L1447.3 841.4L1447.7 844.4L1448.3 844.4L1448.9 847.5L1449.8 847.5L1450.8 850.6L1451.9 853.6L1453 853.6L1454 856.7L1454.8 859.8L1455.5 859.8L1456.2 862.8L1457 862.8L1458 865.9L1459.1 869L1460.5 869L1462 872L1463.4 872L1464.7 875.1L1466 875.1L1467.5 878.2L1469.2 878.2L1471 881.2L1486.6 881.2L1486.6 886.2L1481.6 886.2L1466 886.2L1464.2 883.2L1462.5 883.2L1461 880.1L1459.7 880.1L1458.4 877L1457 877L1455.5 874L1454.1 874L1453 870.9L1452 867.8L1451.2 867.8L1450.5 864.8L1449.8 864.8L1449 861.7L1448 858.6L1446.9 858.6L1445.8 855.6L1444.8 852.5L1443.9 852.5L1443.3 849.4L1442.7 849.4L1442.3 846.4L1441.8 843.3L1441.1 843.3L1440.5 840.2L1439.8 837.2L1439.1 837.2L1438.4 834.1L1437.9 834.1L1437.4 831L1437 828L1436.6 828L1436.1 824.9L1435.6 821.8L1435 821.8L1434.4 818.8L1433.9 815.7L1433.4 815.7L1433 812.6L1432.6 809.6L1432.2 809.6L1431.7 806.5L1431.2 803.4L1430.5 803.4L1430 800.4L1429.4 797.3L1428.9 797.3L1428.4 794.2L1428.1 794.2L1427.7 791.2L1427.4 788.1L1427 788.1L1426.7 785L1426.3 782L1425.9 782L1425.5 778.9L1425.1 775.8L1424.7 775.8L1424.2 772.8L1423.7 769.7L1423.1 769.7L1422.6 766.6L1422 763.6L1421.5 763.6L1421 760.5L1420.6 757.4L1420.3 757.4L1420.1 754.4L1419.9 751.3L1419.6 751.3L1419.4 748.2L1419 745.2L1418.5 745.2L1417.9 742.1L1417.1 739L1416.3 739L1415.6 736L1414.9 732.9L1414.5 732.9L1414.1 729.8L1413.8 729.8L1413.4 726.8L1413 723.7L1412.5 723.7L1412 720.6L1411.4 717.6L1410.8 717.6L1410.3 714.5L1409.8 711.4L1409.4 711.4L1408.9 708.4L1408.3 705.3L1407.6 705.3L1406.9 702.2L1406.3 702.2L1405.8 699.2L1405.3 696.1L1405 696.1L1404.7 693L1404.4 693L1404 690L1403.6 686.9L1403 686.9L1402.5 683.8L1401.9 680.8L1401.5 680.8L1401.1 677.7L1400.8 674.6L1400.5 674.6L1400.1 671.6L1399.6 671.6L1399 668.5L1398.3 665.4L1397.6 665.4L1397.1 662.4L1396.6 659.3L1396.3 659.3L1396.1 656.2L1395.7 653.2L1395.3 653.2L1394.8 650.1L1394.1 647L1393.5 647L1393 644L1392.5 640.9L1392.2 640.9L1391.9 637.8L1391.5 634.8L1391 634.8L1390.4 631.7L1389.7 631.7L1388.9 628.6L1388.2 625.6L1387.6 625.6L1387.1 622.5L1386.7 619.4L1386.3 619.4L1385.8 616.4L1385.3 613.3L1384.8 613.3L1384.2 610.2L1383.6 610.2L1383 607.1L1382.5 604.1L1381.8 604.1L1381.2 601L1380.4 597.9L1379.6 597.9L1378.8 594.9L1378.1 591.8L1377.4 591.8L1376.9 588.7L1376.4 588.7L1376 585.7L1375.5 582.6L1374.9 582.6L1374.2 579.5L1373.5 576.5L1372.7 576.5L1371.9 573.4L1371.2 573.4L1370.5 570.3L1369.8 567.3L1369.2 567.3L1368.5 564.2L1367.9 561.1L1367.2 561.1L1366.5 558.1L1365.9 555L1365.3 555L1364.6 551.9L1364 551.9L1363.2 548.9L1362.5 545.8L1361.8 545.8L1361 542.7L1360.4 539.7L1359.8 539.7L1359.3 536.6L1358.7 536.6L1358.1 533.5L1357.4 530.5L1356.7 530.5L1355.9 527.4L1355.2 524.3L1354.5 524.3L1353.8 521.3L1353.2 518.2L1352.5 518.2L1351.8 515.1L1351 512.1L1350.2 512.1L1349.4 509L1348.6 505.9L1348 505.9L1347.5 502.9L1347.1 502.9L1346.6 499.8L1345.9 496.7L1345.2 496.7L1344.3 493.7L1343.4 490.6L1342.5 490.6L1341.7 487.5L1340.9 484.5L1340.2 484.5L1339.5 481.4L1338.8 481.4L1338.1 478.3L1337.4 475.3L1336.8 475.3L1336.2 472.2L1335.6 472.2L1335.1 469.1L1334.5 469.1L1333.9 466.1L1333 463L1332 463L1330.8 459.9L1329.7 456.9L1328.6 456.9L1327.7 453.8L1326.9 450.7L1326.3 450.7L1325.6 447.7L1324.9 447.7L1324.1 444.6L1323.2 441.5L1322.3 441.5L1321.3 438.5L1320.4 435.4L1319.5 435.4L1318.7 432.3L1317.8 432.3L1316.9 429.3L1315.9 429.3L1315 426.2L1313.9 423.1L1312.9 423.1L1311.9 420.1L1310.8 420.1L1309.8 417L1308.8 413.9L1307.8 413.9L1306.8 410.9L1305.7 410.9L1304.7 407.8L1303.6 407.8L1302.5 404.7L1301.4 404.7L1300.3 401.7L1299.1 398.6L1298 398.6L1296.8 395.5L1295.6 395.5L1294.4 392.5L1293.2 392.5L1291.9 389.4L1290.7 389.4L1289.5 386.3L1288.2 386.3L1286.9 383.3L1285.7 380.2L1284.5 380.2L1283.2 377.1L1282 377.1L1280.8 374.1L1279.5 374.1L1278.1 371L1276.8 371L1275.5 367.9L1274.3 367.9L1273 364.9L1271.8 364.9L1270.6 361.8L1269.3 361.8L1267.9 358.7L1266.6 355.7L1265.2 355.7L1263.9 352.6L1262.7 352.6L1261.6 349.5L1260.4 349.5L1259.2 346.5L1257.9 346.5L1256.5 343.4L1255 343.4L1253.3 340.3L1250.2 340.3L1248.7 337.3L1247.2 337.3L1245.8 334.2L1244.3 334.2L1242.8 331.1L1239.6 331.1L1237.9 328.1L1236.2 328.1L1234.5 325L1231.3 325L1229.7 321.9L1226.3 321.9L1224.6 318.9L1222.8 318.9L1221.1 315.8L1217.9 315.8L1216.4 312.7L1213.3 312.7L1211.6 309.7L1209.9 309.7L1208.1 306.6L1204.7 306.6L1203 303.5L1199.9 303.5L1198.3 300.4L1196.6 300.4L1194.8 297.4L1189.4 297.4L1187.6 294.3L1184.2 294.3L1182.4 291.2L1176.9 291.2L1175.1 288.2L1169.5 288.2L1167.6 285.1L1160 285.1L1158.1 282L1150.2 282L1148.4 279L1140.9 279L1139 275.9L1127.4 275.9L1125.5 272.8L1113.6 272.8L1111.6 269.8L1099.5 269.8L1097.5 266.7L1084.1 266.7L1082.1 263.6L1068.4 263.6L1066.4 260.6L1050.4 260.6L1048.4 257.5L1030.1 257.5L1028 254.4L1000.6 254.4L998.6 251.4L966.5 251.4L964.5 248.3L927.8 248.3L925.9 245.2L888.4 245.2L886.4 242.2L847.8 242.2L845.7 239.1L802.1 239.1L800 236L744.8 236L742.8 233L682 233L680 229.9L617.2 229.9L615.2 226.8L554.8 226.8L552.8 223.8L494.5 223.8L492.4 220.7L432.3 220.7L430.3 217.6L368 217.6L366 214.6L301.9 214.6L299.9 211.5L264 211.5L264 206.5ZM1481.6 881.2L1482.7 878.2L1484 878.2L1485.4 875.1L1486.6 872L1487.5 869L1488 869L1488.3 865.9L1488.6 862.8L1489 862.8L1489.4 859.8L1490 856.7L1490.6 856.7L1491.1 853.6L1491.4 850.6L1491.5 850.6L1491.5 847.5L1491.6 844.4L1491.9 844.4L1492.4 841.4L1493.1 838.3L1493.7 838.3L1494.3 835.2L1494.8 832.2L1495.2 832.2L1495.5 829.1L1495.8 826L1496.2 826L1496.7 823L1497.3 819.9L1497.8 819.9L1498.4 816.8L1498.8 813.8L1499.2 813.8L1499.5 810.7L1499.8 807.6L1500.2 807.6L1500.7 804.6L1501.2 801.5L1501.8 801.5L1502.4 798.4L1502.9 795.4L1503.3 795.4L1503.8 792.3L1504.2 789.2L1504.7 789.2L1505.1 786.2L1505.6 783.1L1506 783.1L1506.4 780L1506.8 777L1507.1 777L1507.4 773.9L1507.7 770.8L1508.1 770.8L1508.6 767.8L1509.2 764.7L1509.9 764.7L1510.6 761.6L1511.3 758.6L1511.9 758.6L1512.4 755.5L1512.8 752.4L1513 752.4L1513.2 749.4L1513.4 746.3L1513.7 746.3L1514.1 743.2L1514.6 740.2L1515.2 740.2L1515.9 737.1L1516.5 734L1517.1 734L1517.6 731L1518 731L1518.4 727.9L1518.8 724.8L1519.3 724.8L1519.8 721.8L1520.3 718.7L1520.8 718.7L1521.2 715.6L1521.5 712.6L1521.8 712.6L1522.1 709.5L1522.5 709.5L1523.1 706.4L1523.7 703.4L1524.4 700.3L1525.1 700.3L1525.6 697.2L1526 694.2L1526.2 694.2L1526.5 691.1L1526.7 691.1L1527.1 688L1527.6 685L1528.1 685L1528.7 681.9L1529.1 681.9L1529.4 678.8L1529.7 675.8L1529.9 675.8L1530.2 672.7L1530.6 669.6L1531.1 669.6L1531.7 666.6L1532.3 663.5L1532.8 663.5L1533.1 660.4L1533.3 657.4L1533.5 657.4L1533.7 654.3L1534 651.2L1534.6 651.2L1535.3 648.2L1536.1 645.1L1536.7 645.1L1537.2 642L1537.5 639L1537.7 639L1537.9 635.9L1538.2 632.8L1538.6 632.8L1539.1 629.8L1539.8 626.7L1540.4 626.7L1540.9 623.6L1541.4 620.6L1541.9 620.6L1542.5 617.5L1543.1 614.4L1543.7 614.4L1544.5 611.4L1545.1 608.3L1545.7 608.3L1546.2 605.2L1546.6 602.1L1547 602.1L1547.5 599.1L1548.1 596L1548.9 596L1549.8 592.9L1550.7 589.9L1551.5 589.9L1552.2 586.8L1552.8 583.7L1553.4 583.7L1554.1 580.7L1554.8 577.6L1555.7 577.6L1556.5 574.5L1557.3 571.5L1558 571.5L1558.7 568.4L1559.3 565.3L1560 565.3L1560.7 562.3L1561.5 562.3L1562.3 559.2L1563.1 559.2L1563.9 556.1L1564.7 553.1L1566.2 553.1L1567 550L1567.8 550L1568.6 546.9L1569.8 546.9L1571.1 543.9L1572.3 540.8L1573.6 540.8L1574.9 537.7L1576.2 537.7L1577.4 534.7L1578.6 534.7L1579.9 531.6L1581.3 531.6L1582.7 528.5L1584 528.5L1585.4 525.5L1586.8 522.4L1588.2 522.4L1589.6 519.3L1592.6 519.3L1594.6 516.3L1596.6 516.3L1598.6 513.2L1600.6 513.2L1602.5 510.1L1606.4 510.1L1608.4 507.1L1614.4 507.1L1616.5 504L1622.5 504L1624.6 500.9L1636.5 500.9L1638.4 497.9L1654.5 497.9L1656.5 494.8L1694.5 494.8L1696.5 491.7L1914.5 491.7L1919.5 491.7L1919.5 496.7L1701.5 496.7L1699.5 499.8L1661.5 499.8L1659.5 502.9L1643.4 502.9L1641.5 505.9L1629.6 505.9L1627.5 509L1621.5 509L1619.4 512.1L1613.4 512.1L1611.4 515.1L1607.5 515.1L1605.6 518.2L1603.6 518.2L1601.6 521.3L1599.6 521.3L1597.6 524.3L1594.6 524.3L1593.2 527.4L1591.8 527.4L1590.4 530.5L1589 533.5L1587.7 533.5L1586.3 536.6L1584.9 536.6L1583.6 539.7L1582.4 539.7L1581.2 542.7L1579.9 542.7L1578.6 545.8L1577.3 545.8L1576.1 548.9L1574.8 551.9L1573.6 551.9L1572.8 555L1572 555L1571.2 558.1L1569.7 558.1L1568.9 561.1L1568.1 564.2L1567.3 564.2L1566.5 567.3L1565.7 567.3L1565 570.3L1564.3 570.3L1563.7 573.4L1563 576.5L1562.3 576.5L1561.5 579.5L1560.7 582.6L1559.8 582.6L1559.1 585.7L1558.4 588.7L1557.8 588.7L1557.2 591.8L1556.5 594.9L1555.7 594.9L1554.8 597.9L1553.9 601L1553.1 601L1552.5 604.1L1552 607.1L1551.6 607.1L1551.2 610.2L1550.7 613.3L1550.1 613.3L1549.5 616.4L1548.7 619.4L1548.1 619.4L1547.5 622.5L1546.9 625.6L1546.4 625.6L1545.9 628.6L1545.4 631.7L1544.8 631.7L1544.1 634.8L1543.6 637.8L1543.2 637.8L1542.9 640.9L1542.7 644L1542.5 644L1542.2 647L1541.7 650.1L1541.1 650.1L1540.3 653.2L1539.6 656.2L1539 656.2L1538.7 659.3L1538.5 662.4L1538.3 662.4L1538.1 665.4L1537.8 668.5L1537.3 668.5L1536.7 671.6L1536.1 674.6L1535.6 674.6L1535.2 677.7L1534.9 680.8L1534.7 680.8L1534.4 683.8L1534.1 686.9L1533.7 686.9L1533.1 690L1532.6 690L1532.1 693L1531.7 696.1L1531.5 696.1L1531.2 699.2L1531 699.2L1530.6 702.2L1530.1 705.3L1529.4 705.3L1528.7 708.4L1528.1 711.4L1527.5 714.5L1527.1 714.5L1526.8 717.6L1526.5 717.6L1526.2 720.6L1525.8 723.7L1525.3 723.7L1524.8 726.8L1524.3 729.8L1523.8 729.8L1523.4 732.9L1523 736L1522.6 736L1522.1 739L1521.5 739L1520.9 742.1L1520.2 745.2L1519.6 745.2L1519.1 748.2L1518.7 751.3L1518.4 751.3L1518.2 754.4L1518 757.4L1517.8 757.4L1517.4 760.5L1516.9 763.6L1516.3 763.6L1515.6 766.6L1514.9 769.7L1514.2 769.7L1513.6 772.8L1513.1 775.8L1512.7 775.8L1512.4 778.9L1512.1 782L1511.8 782L1511.4 785L1511 788.1L1510.6 788.1L1510.1 791.2L1509.7 794.2L1509.2 794.2L1508.8 797.3L1508.3 800.4L1507.9 800.4L1507.4 803.4L1506.8 806.5L1506.2 806.5L1505.7 809.6L1505.2 812.6L1504.8 812.6L1504.5 815.7L1504.2 818.8L1503.8 818.8L1503.4 821.8L1502.8 824.9L1502.3 824.9L1501.7 828L1501.2 831L1500.8 831L1500.5 834.1L1500.2 837.2L1499.8 837.2L1499.3 840.2L1498.7 843.3L1498.1 843.3L1497.4 846.4L1496.9 849.4L1496.6 849.4L1496.5 852.5L1496.5 855.6L1496.4 855.6L1496.1 858.6L1495.6 861.7L1495 861.7L1494.4 864.8L1494 867.8L1493.6 867.8L1493.3 870.9L1493 874L1492.5 874L1491.6 877L1490.4 880.1L1489 883.2L1487.7 883.2L1486.6 886.2L1481.6 886.2ZM1919.5 491.7L1921.5 494.8L2099.5 494.8L2101.5 497.9L2213.5 497.9L2215.5 500.9L2333.5 500.9L2335.5 504L2397.5 504L2397 504L2397 509L2392 509L2392.5 509L2330.5 509L2328.5 505.9L2210.5 505.9L2208.5 502.9L2096.5 502.9L2094.5 499.8L1916.5 499.8L1914.5 496.7L1914.5 491.7Z"/>
<path d="M269 206.5L294.9 206.5L296.9 209.6L361 209.6L363 212.6L425.2 212.6L427.2 215.7L487.4 215.7L489.4 218.8L549.7 218.8L551.8 221.8L610.1 221.8L612.1 224.9L672.8 224.9L674.8 228L737.7 228L739.7 231L797.2 231L799.2 234.1L844.5 234.1L846.6 237.2L885.4 237.2L887.4 240.2L925 240.2L927 243.3L961.3 243.3L963.4 246.4L997.6 246.4L999.6 249.4L1029.1 249.4L1031 252.5L1053.3 252.5L1055.4 255.6L1073.3 255.6L1075.3 258.6L1090.9 258.6L1092.9 261.7L1108.7 261.7L1110.7 264.8L1124.9 264.8L1126.9 267.8L1138.9 267.8L1140.9 270.9L1152.5 270.9L1154.4 274L1162.3 274L1164.3 277L1172.3 277L1174.3 280.1L1182 280.1L1184 283.2L1189.8 283.2L1191.7 286.2L1197.3 286.2L1199.1 289.3L1202.8 289.3L1204.6 292.4L1208.2 292.4L1209.9 295.4L1213.5 295.4L1215.2 298.5L1218.7 298.5L1220.5 301.6L1224.2 301.6L1226 304.7L1229.3 304.7L1230.9 307.7L1234.1 307.7L1235.8 310.8L1237.5 310.8L1239.3 313.9L1242.7 313.9L1244.5 316.9L1246.2 316.9L1248 320L1251.4 320L1253.1 323.1L1254.8 323.1L1256.5 326.1L1259.9 326.1L1261.5 329.2L1263 329.2L1264.4 332.3L1265.8 332.3L1267.3 335.3L1268.8 335.3L1270.4 338.4L1272 338.4L1273.4 341.5L1274.8 341.5L1276.1 344.5L1277.4 344.5L1278.8 347.6L1280.1 347.6L1281.5 350.7L1282.7 350.7L1284 353.7L1285.4 353.7L1286.7 356.8L1288 356.8L1289.3 359.9L1290.4 362.9L1291.5 362.9L1292.7 366L1294 366L1295.4 369.1L1296.9 369.1L1298.3 372.1L1299.5 372.1L1300.7 375.2L1301.8 375.2L1303 378.3L1304.3 381.3L1305.6 381.3L1306.9 384.4L1308.1 384.4L1309.4 387.5L1310.6 387.5L1311.8 390.5L1312.9 390.5L1314 393.6L1315 393.6L1316 396.7L1317 399.7L1318 399.7L1319.2 402.8L1320.4 402.8L1321.6 405.9L1322.7 405.9L1323.6 408.9L1324.5 412L1325.4 412L1326.3 415.1L1327.4 415.1L1328.5 418.1L1329.4 418.1L1330.3 421.2L1331.2 424.3L1332 424.3L1332.8 427.3L1333.7 427.3L1334.5 430.4L1335.4 430.4L1336.3 433.5L1337.1 436.5L1337.9 436.5L1338.8 439.6L1339.7 439.6L1340.6 442.7L1341.3 442.7L1342 445.7L1342.6 448.8L1343.2 448.8L1343.9 451.9L1344.8 454.9L1345.9 454.9L1347 458L1348 458L1348.9 461.1L1349.6 464.1L1350.3 464.1L1351 467.2L1351.7 467.2L1352.3 470.3L1353 473.3L1353.6 473.3L1354.3 476.4L1354.9 476.4L1355.7 479.5L1356.5 479.5L1357.3 482.5L1358.1 485.6L1358.8 485.6L1359.6 488.7L1360.4 488.7L1361.3 491.7L1362.3 494.8L1363.3 494.8L1364.1 497.9L1364.7 500.9L1365.2 500.9L1365.7 504L1366.3 504L1367 507.1L1367.8 510.1L1368.7 510.1L1369.5 513.2L1370.3 516.3L1371 516.3L1371.8 519.3L1372.5 522.4L1373.2 522.4L1373.9 525.5L1374.5 525.5L1375.1 528.5L1375.7 531.6L1376.5 531.6L1377.4 534.7L1378.1 537.7L1378.8 537.7L1379.4 540.8L1379.8 540.8L1380.3 543.9L1380.8 546.9L1381.4 546.9L1382.1 550L1382.7 550L1383.3 553.1L1383.7 556.1L1384.2 556.1L1384.7 559.2L1385.3 562.3L1386 562.3L1386.7 565.3L1387.3 568.4L1388 568.4L1388.6 571.5L1389.2 571.5L1389.7 574.5L1390.2 577.6L1390.6 577.6L1390.8 580.7L1391 583.7L1391.2 583.7L1391.6 586.8L1392.3 586.8L1393 589.9L1393.8 592.9L1394.4 592.9L1395 596L1395.4 599.1L1395.9 599.1L1396.3 602.1L1396.8 605.2L1397.3 605.2L1397.7 608.3L1398 608.3L1398.4 611.4L1398.8 614.4L1399.2 614.4L1399.7 617.5L1400.2 620.6L1400.7 620.6L1401.1 623.6L1401.6 626.7L1402.2 626.7L1402.8 629.8L1403.5 632.8L1404 632.8L1404.3 635.9L1404.5 639L1404.7 639L1405 642L1405.4 645.1L1406 645.1L1406.6 648.2L1407.2 651.2L1407.7 651.2L1408.2 654.3L1408.6 657.4L1409 657.4L1409.4 660.4L1409.7 663.5L1410 663.5L1410.3 666.6L1410.7 669.6L1411.2 669.6L1411.8 672.7L1412.4 675.8L1412.8 675.8L1413.1 678.8L1413.4 681.9L1413.7 681.9L1414.2 685L1414.7 685L1415.3 688L1415.8 691.1L1416.2 691.1L1416.5 694.2L1416.8 694.2L1417.1 697.2L1417.5 700.3L1418.1 700.3L1418.6 703.4L1419.1 706.4L1419.6 706.4L1420.1 709.5L1420.6 712.6L1421.1 712.6L1421.6 715.6L1422 718.7L1422.3 718.7L1422.5 721.8L1422.9 721.8L1423.3 724.8L1424 727.9L1424.7 727.9L1425.4 731L1426 734L1426.3 734L1426.6 737.1L1426.9 740.2L1427.2 740.2L1427.5 743.2L1427.8 743.2L1428.2 746.3L1428.5 746.3L1428.7 749.4L1429 752.4L1429.3 752.4L1429.7 755.5L1430.1 755.5L1430.5 758.6L1430.9 761.6L1431.2 761.6L1431.6 764.7L1432 764.7L1432.5 767.8L1433 770.8L1433.5 770.8L1433.8 773.9L1434 777L1434.1 777L1434.1 780L1434.3 783.1L1434.7 783.1L1435.2 786.2L1435.6 789.2L1436.1 789.2L1436.5 792.3L1436.8 795.4L1437.2 795.4L1437.6 798.4L1438.1 801.5L1438.4 801.5L1438.8 804.6L1439.1 807.6L1439.5 807.6L1439.9 810.7L1440.2 813.8L1440.5 813.8L1440.7 816.8L1440.8 819.9L1440.9 819.9L1441.3 823L1441.8 826L1442.4 829.1L1443 829.1L1443.5 832.2L1443.8 835.2L1444 835.2L1444.3 838.3L1444.7 841.4L1445 841.4L1445.4 844.4L1445.7 847.5L1446 847.5L1446.4 850.6L1446.7 853.6L1447.1 853.6L1447.4 856.7L1447.7 859.8L1447.9 859.8L1448.2 862.8L1448.6 865.9L1449.1 865.9L1449.6 869L1450.1 872L1450.5 872L1450.8 875.1L1451 875.1L1451.2 878.2L1451.5 881.2L1451.9 881.2L1452.3 884.3L1452.8 884.3L1453.2 887.4L1453.6 890.4L1453.9 890.4L1454.2 893.5L1454.6 896.6L1454.9 896.6L1455.2 899.6L1455.5 902.7L1455.9 905.8L1456.4 905.8L1457 908.8L1457.7 911.9L1458.3 911.9L1458.7 915L1458.9 918.1L1459.1 918.1L1459.3 921.1L1459.6 924.2L1460.1 924.2L1460.5 927.3L1461 927.3L1461.4 930.3L1461.7 933.4L1462 933.4L1462.5 936.5L1463 939.5L1463.5 939.5L1464 942.6L1464.5 942.6L1464.9 945.7L1465.3 948.7L1465.7 948.7L1466.1 951.8L1466.5 954.9L1466.8 954.9L1467 957.9L1467.3 957.9L1467.6 961L1468 961L1468.7 964.1L1469.5 967.1L1470.3 970.2L1471 970.2L1471.4 973.3L1471.8 976.3L1472.1 976.3L1472.5 979.4L1472.9 982.5L1473.4 982.5L1473.9 985.5L1474.4 988.6L1474.9 988.6L1475.5 991.7L1476.2 991.7L1476.9 994.7L1477.6 997.8L1478.3 997.8L1478.9 1000.9L1479.5 1000.9L1480.5 1003.9L1481.7 1007L1482.9 1010.1L1484 1010.1L1485 1013.1L1486.2 1013.1L1487.6 1016.2L1499.6 1016.2L1499.6 1021.2L1494.6 1021.2L1482.6 1021.2L1481.2 1018.1L1480 1018.1L1479 1015.1L1477.9 1015.1L1476.7 1012L1475.5 1008.9L1474.5 1005.9L1473.9 1005.9L1473.3 1002.8L1472.6 1002.8L1471.9 999.7L1471.2 996.7L1470.5 996.7L1469.9 993.6L1469.4 993.6L1468.9 990.5L1468.4 987.5L1467.9 987.5L1467.5 984.4L1467.1 981.3L1466.8 981.3L1466.4 978.3L1466 975.2L1465.3 975.2L1464.5 972.1L1463.7 969.1L1463 966L1462.6 966L1462.3 962.9L1462 962.9L1461.8 959.9L1461.5 959.9L1461.1 956.8L1460.7 953.7L1460.3 953.7L1459.9 950.7L1459.5 947.6L1459 947.6L1458.5 944.5L1458 944.5L1457.5 941.5L1457 938.4L1456.7 938.4L1456.4 935.3L1456 932.3L1455.5 932.3L1455.1 929.2L1454.6 929.2L1454.3 926.1L1454.1 923.1L1453.9 923.1L1453.7 920L1453.3 916.9L1452.7 916.9L1452 913.8L1451.4 910.8L1450.9 910.8L1450.5 907.7L1450.2 904.6L1449.9 901.6L1449.6 901.6L1449.2 898.5L1448.9 895.4L1448.6 895.4L1448.2 892.4L1447.8 889.3L1447.3 889.3L1446.9 886.2L1446.5 886.2L1446.2 883.2L1446 880.1L1445.8 880.1L1445.5 877L1445.1 877L1444.6 874L1444.1 870.9L1443.6 870.9L1443.2 867.8L1442.9 864.8L1442.7 864.8L1442.4 861.7L1442.1 858.6L1441.7 858.6L1441.4 855.6L1441 852.5L1440.7 852.5L1440.4 849.4L1440 846.4L1439.7 846.4L1439.3 843.3L1439 840.2L1438.8 840.2L1438.5 837.2L1438 834.1L1437.4 834.1L1436.8 831L1436.3 828L1435.9 824.9L1435.8 824.9L1435.7 821.8L1435.5 818.8L1435.2 818.8L1434.9 815.7L1434.5 812.6L1434.1 812.6L1433.8 809.6L1433.4 806.5L1433.1 806.5L1432.6 803.4L1432.2 800.4L1431.8 800.4L1431.5 797.3L1431.1 794.2L1430.6 794.2L1430.2 791.2L1429.7 788.1L1429.3 788.1L1429.1 785L1429.1 782L1429 782L1428.8 778.9L1428.5 775.8L1428 775.8L1427.5 772.8L1427 769.7L1426.6 769.7L1426.2 766.6L1425.9 766.6L1425.5 763.6L1425.1 760.5L1424.7 760.5L1424.3 757.4L1424 757.4L1423.7 754.4L1423.5 751.3L1423.2 751.3L1422.8 748.2L1422.5 748.2L1422.2 745.2L1421.9 745.2L1421.6 742.1L1421.3 739L1421 739L1420.4 736L1419.7 732.9L1419 732.9L1418.3 729.8L1417.9 726.8L1417.5 726.8L1417.3 723.7L1417 723.7L1416.6 720.6L1416.1 717.6L1415.6 717.6L1415.1 714.5L1414.6 711.4L1414.1 711.4L1413.6 708.4L1413.1 705.3L1412.5 705.3L1412.1 702.2L1411.8 699.2L1411.5 699.2L1411.2 696.1L1410.8 696.1L1410.3 693L1409.7 690L1409.2 690L1408.7 686.9L1408.4 686.9L1408.1 683.8L1407.8 680.8L1407.4 680.8L1406.8 677.7L1406.2 674.6L1405.7 674.6L1405.3 671.6L1405 668.5L1404.7 668.5L1404.4 665.4L1404 662.4L1403.6 662.4L1403.2 659.3L1402.7 656.2L1402.2 656.2L1401.6 653.2L1401 650.1L1400.4 650.1L1400 647L1399.7 644L1399.5 644L1399.3 640.9L1399 637.8L1398.5 637.8L1397.8 634.8L1397.2 631.7L1396.6 631.7L1396.1 628.6L1395.7 625.6L1395.2 625.6L1394.7 622.5L1394.2 619.4L1393.8 619.4L1393.4 616.4L1393 613.3L1392.7 613.3L1392.3 610.2L1391.8 610.2L1391.3 607.1L1390.9 604.1L1390.4 604.1L1390 601L1389.4 597.9L1388.8 597.9L1388 594.9L1387.3 591.8L1386.6 591.8L1386.2 588.7L1386 588.7L1385.8 585.7L1385.6 582.6L1385.2 582.6L1384.7 579.5L1384.2 576.5L1383.6 576.5L1383 573.4L1382.3 573.4L1381.7 570.3L1381 567.3L1380.3 567.3L1379.7 564.2L1379.2 561.1L1378.7 561.1L1378.3 558.1L1377.7 555L1377.1 555L1376.4 551.9L1375.8 551.9L1375.3 548.9L1374.8 545.8L1374.4 545.8L1373.8 542.7L1373.1 542.7L1372.4 539.7L1371.5 536.6L1370.7 536.6L1370.1 533.5L1369.5 530.5L1368.9 530.5L1368.2 527.4L1367.5 527.4L1366.8 524.3L1366 521.3L1365.3 521.3L1364.5 518.2L1363.7 515.1L1362.8 515.1L1362 512.1L1361.3 509L1360.7 509L1360.2 505.9L1359.7 505.9L1359.1 502.9L1358.3 499.8L1357.3 499.8L1356.3 496.7L1355.4 493.7L1354.6 493.7L1353.8 490.6L1353.1 490.6L1352.3 487.5L1351.5 484.5L1350.7 484.5L1349.9 481.4L1349.3 481.4L1348.6 478.3L1348 478.3L1347.3 475.3L1346.7 472.2L1346 472.2L1345.3 469.1L1344.6 469.1L1343.9 466.1L1343 463L1342 463L1340.9 459.9L1339.8 459.9L1338.9 456.9L1338.2 453.8L1337.6 453.8L1337 450.7L1336.3 447.7L1335.6 447.7L1334.7 444.6L1333.8 444.6L1332.9 441.5L1332.1 441.5L1331.3 438.5L1330.4 435.4L1329.5 435.4L1328.7 432.3L1327.8 432.3L1327 429.3L1326.2 429.3L1325.3 426.2L1324.4 423.1L1323.5 423.1L1322.4 420.1L1321.3 420.1L1320.4 417L1319.5 417L1318.6 413.9L1317.7 410.9L1316.6 410.9L1315.4 407.8L1314.2 407.8L1313 404.7L1312 404.7L1311 401.7L1310 398.6L1309 398.6L1307.9 395.5L1306.8 395.5L1305.6 392.5L1304.4 392.5L1303.1 389.4L1301.9 389.4L1300.6 386.3L1299.3 386.3L1298 383.3L1296.8 380.2L1295.7 380.2L1294.5 377.1L1293.3 377.1L1291.9 374.1L1290.4 374.1L1289 371L1287.7 371L1286.5 367.9L1285.4 367.9L1284.3 364.9L1283 361.8L1281.7 361.8L1280.4 358.7L1279 358.7L1277.7 355.7L1276.5 355.7L1275.1 352.6L1273.8 352.6L1272.4 349.5L1271.1 349.5L1269.8 346.5L1268.4 346.5L1267 343.4L1265.4 343.4L1263.8 340.3L1262.3 340.3L1260.8 337.3L1259.4 337.3L1258 334.2L1256.5 334.2L1254.9 331.1L1251.5 331.1L1249.8 328.1L1248.1 328.1L1246.4 325L1243 325L1241.2 321.9L1239.5 321.9L1237.7 318.9L1234.3 318.9L1232.5 315.8L1230.8 315.8L1229.1 312.7L1225.9 312.7L1224.3 309.7L1221 309.7L1219.2 306.6L1215.5 306.6L1213.7 303.5L1210.2 303.5L1208.5 300.4L1204.9 300.4L1203.2 297.4L1199.6 297.4L1197.8 294.3L1194.1 294.3L1192.3 291.2L1186.7 291.2L1184.8 288.2L1179 288.2L1177 285.1L1169.3 285.1L1167.3 282L1159.3 282L1157.3 279L1149.4 279L1147.5 275.9L1135.9 275.9L1133.9 272.8L1121.9 272.8L1119.9 269.8L1105.7 269.8L1103.7 266.7L1087.9 266.7L1085.9 263.6L1070.3 263.6L1068.3 260.6L1050.4 260.6L1048.3 257.5L1026 257.5L1024.1 254.4L994.6 254.4L992.6 251.4L958.4 251.4L956.3 248.3L922 248.3L920 245.2L882.4 245.2L880.4 242.2L841.6 242.2L839.5 239.1L794.2 239.1L792.2 236L734.7 236L732.7 233L669.8 233L667.8 229.9L607.1 229.9L605.1 226.8L546.8 226.8L544.7 223.8L484.4 223.8L482.4 220.7L422.2 220.7L420.2 217.6L358 217.6L356 214.6L291.9 214.6L289.9 211.5L264 211.5L264 206.5ZM1494.6 1016.2L1495.8 1013.1L1497 1013.1L1498.1 1010.1L1499.1 1010.1L1499.9 1007L1500.7 1003.9L1501.5 1000.9L1502.3 1000.9L1502.9 997.8L1503.5 994.7L1503.9 994.7L1504.2 991.7L1504.3 991.7L1504.3 988.6L1504.5 985.5L1504.8 985.5L1505.2 982.5L1505.5 979.4L1505.8 979.4L1506 976.3L1506.2 973.3L1506.5 973.3L1506.9 970.2L1507.3 967.1L1507.7 964.1L1508 964.1L1508.3 961L1508.5 961L1508.7 957.9L1508.9 954.9L1509.1 954.9L1509.2 951.8L1509.3 948.7L1509.4 948.7L1509.7 945.7L1510.2 942.6L1510.8 942.6L1511.5 939.5L1512 936.5L1512.4 936.5L1512.6 933.4L1512.7 930.3L1512.9 930.3L1513.1 927.3L1513.4 924.2L1513.7 924.2L1514 921.1L1514.3 918.1L1514.6 918.1L1515 915L1515.4 915L1515.9 911.9L1516.3 908.8L1516.7 908.8L1517.1 905.8L1517.5 902.7L1518 902.7L1518.5 899.6L1519 896.6L1519.3 896.6L1519.5 893.5L1519.6 890.4L1519.8 890.4L1520.1 887.4L1520.5 884.3L1520.9 884.3L1521.4 881.2L1521.8 878.2L1522.1 878.2L1522.3 875.1L1522.5 875.1L1522.7 872L1523 869L1523.2 869L1523.5 865.9L1523.8 862.8L1524.1 862.8L1524.5 859.8L1525 856.7L1525.4 856.7L1525.6 853.6L1525.7 850.6L1525.8 850.6L1525.9 847.5L1526.1 844.4L1526.5 844.4L1526.9 841.4L1527.3 838.3L1527.6 838.3L1527.8 835.2L1527.9 832.2L1528.2 832.2L1528.5 829.1L1528.9 826L1529.3 826L1529.6 823L1529.8 819.9L1530.1 819.9L1530.3 816.8L1530.6 813.8L1530.8 813.8L1530.9 810.7L1531 807.6L1531.2 807.6L1531.4 804.6L1531.9 801.5L1532.4 801.5L1532.9 798.4L1533.3 795.4L1533.5 795.4L1533.6 792.3L1533.7 789.2L1533.9 789.2L1534.1 786.2L1534.5 786.2L1534.8 783.1L1535.1 780L1535.4 780L1535.6 777L1535.9 773.9L1536.2 770.8L1536.5 770.8L1536.8 767.8L1537.1 764.7L1537.4 764.7L1537.7 761.6L1538.2 758.6L1538.6 758.6L1539 755.5L1539.2 752.4L1539.2 752.4L1539.3 749.4L1539.4 746.3L1539.7 746.3L1540.1 743.2L1540.6 740.2L1541.1 740.2L1541.5 737.1L1541.8 734L1542.1 734L1542.5 731L1542.9 731L1543.3 727.9L1543.7 724.8L1544 724.8L1544.4 721.8L1544.7 718.7L1545.1 718.7L1545.5 715.6L1545.8 712.6L1546.1 712.6L1546.3 709.5L1546.6 706.4L1547 706.4L1547.6 703.4L1548.3 700.3L1548.9 700.3L1549.5 697.2L1549.7 694.2L1549.9 694.2L1550 691.1L1550.2 691.1L1550.5 688L1550.8 685L1551.2 685L1551.5 681.9L1551.8 681.9L1552.1 678.8L1552.5 675.8L1552.8 675.8L1553.2 672.7L1553.4 669.6L1553.7 669.6L1553.9 666.6L1554.1 663.5L1554.5 663.5L1555 660.4L1555.5 657.4L1555.9 657.4L1556.2 654.3L1556.3 651.2L1556.5 651.2L1556.8 648.2L1557.3 645.1L1557.8 645.1L1558.2 642L1558.5 639L1558.8 639L1559 635.9L1559.3 632.8L1559.6 632.8L1560.1 629.8L1560.5 626.7L1561 626.7L1561.5 623.6L1562.1 620.6L1562.8 620.6L1563.4 617.5L1563.9 614.4L1564.3 614.4L1564.5 611.4L1564.7 608.3L1565.1 608.3L1565.6 605.2L1566.3 602.1L1567 602.1L1567.8 599.1L1568.5 596L1569.1 596L1569.8 592.9L1570.6 589.9L1571.4 589.9L1572.2 586.8L1572.8 583.7L1573.4 583.7L1574 580.7L1574.7 577.6L1575.4 577.6L1576 574.5L1576.6 571.5L1577.3 571.5L1578 568.4L1578.9 565.3L1579.9 565.3L1580.9 562.3L1581.9 562.3L1582.7 559.2L1583.3 559.2L1583.9 556.1L1584.4 556.1L1585 553.1L1585.7 553.1L1586.4 550L1587.2 550L1588 546.9L1589.2 546.9L1590.3 543.9L1591.5 540.8L1592.7 540.8L1594 537.7L1595.3 537.7L1596.5 534.7L1597.6 534.7L1598.8 531.6L1600.1 531.6L1601.6 528.5L1603 528.5L1604.5 525.5L1605.9 522.4L1607.3 522.4L1608.6 519.3L1611.4 519.3L1613.5 516.3L1615.6 516.3L1617.6 513.2L1621.4 513.2L1623.4 510.1L1627.4 510.1L1629.4 507.1L1635.5 507.1L1637.6 504L1645.5 504L1647.4 500.9L1661.5 500.9L1663.5 497.9L1687.5 497.9L1689.5 494.8L2027.5 494.8L2032.5 494.8L2032.5 499.8L1694.5 499.8L1692.5 502.9L1668.5 502.9L1666.5 505.9L1652.4 505.9L1650.5 509L1642.6 509L1640.5 512.1L1634.4 512.1L1632.4 515.1L1628.4 515.1L1626.4 518.2L1622.6 518.2L1620.6 521.3L1618.5 521.3L1616.4 524.3L1613.6 524.3L1612.3 527.4L1610.9 527.4L1609.5 530.5L1608 533.5L1606.6 533.5L1605.1 536.6L1603.8 536.6L1602.6 539.7L1601.5 539.7L1600.3 542.7L1599 542.7L1597.7 545.8L1596.5 545.8L1595.3 548.9L1594.2 551.9L1593 551.9L1592.2 555L1591.4 555L1590.7 558.1L1590 558.1L1589.4 561.1L1588.9 561.1L1588.3 564.2L1587.7 564.2L1586.9 567.3L1585.9 567.3L1584.9 570.3L1583.9 570.3L1583 573.4L1582.3 576.5L1581.6 576.5L1581 579.5L1580.4 582.6L1579.7 582.6L1579 585.7L1578.4 588.7L1577.8 588.7L1577.2 591.8L1576.4 594.9L1575.6 594.9L1574.8 597.9L1574.1 601L1573.5 601L1572.8 604.1L1572 607.1L1571.3 607.1L1570.6 610.2L1570.1 613.3L1569.7 613.3L1569.5 616.4L1569.3 619.4L1568.9 619.4L1568.4 622.5L1567.8 625.6L1567.1 625.6L1566.5 628.6L1566 631.7L1565.5 631.7L1565.1 634.8L1564.6 637.8L1564.3 637.8L1564 640.9L1563.8 644L1563.5 644L1563.2 647L1562.8 650.1L1562.3 650.1L1561.8 653.2L1561.5 656.2L1561.3 656.2L1561.2 659.3L1560.9 662.4L1560.5 662.4L1560 665.4L1559.5 668.5L1559.1 668.5L1558.9 671.6L1558.7 674.6L1558.4 674.6L1558.2 677.7L1557.8 680.8L1557.5 680.8L1557.1 683.8L1556.8 686.9L1556.5 686.9L1556.2 690L1555.8 690L1555.5 693L1555.2 696.1L1555 696.1L1554.9 699.2L1554.7 699.2L1554.5 702.2L1553.9 705.3L1553.3 705.3L1552.6 708.4L1552 711.4L1551.6 711.4L1551.3 714.5L1551.1 717.6L1550.8 717.6L1550.5 720.6L1550.1 723.7L1549.7 723.7L1549.4 726.8L1549 729.8L1548.7 729.8L1548.3 732.9L1547.9 736L1547.5 736L1547.1 739L1546.8 739L1546.5 742.1L1546.1 745.2L1545.6 745.2L1545.1 748.2L1544.7 751.3L1544.4 751.3L1544.3 754.4L1544.2 757.4L1544.2 757.4L1544 760.5L1543.6 763.6L1543.2 763.6L1542.7 766.6L1542.4 769.7L1542.1 769.7L1541.8 772.8L1541.5 775.8L1541.2 775.8L1540.9 778.9L1540.6 782L1540.4 785L1540.1 785L1539.8 788.1L1539.5 791.2L1539.1 791.2L1538.9 794.2L1538.7 794.2L1538.6 797.3L1538.5 800.4L1538.3 800.4L1537.9 803.4L1537.4 806.5L1536.9 806.5L1536.4 809.6L1536.2 812.6L1536 812.6L1535.9 815.7L1535.8 818.8L1535.6 818.8L1535.3 821.8L1535.1 824.9L1534.8 824.9L1534.6 828L1534.3 831L1533.9 831L1533.5 834.1L1533.2 837.2L1532.9 837.2L1532.8 840.2L1532.6 843.3L1532.3 843.3L1531.9 846.4L1531.5 849.4L1531.1 849.4L1530.9 852.5L1530.8 855.6L1530.7 855.6L1530.6 858.6L1530.4 861.7L1530 861.7L1529.5 864.8L1529.1 867.8L1528.8 867.8L1528.5 870.9L1528.2 874L1528 874L1527.7 877L1527.5 880.1L1527.3 880.1L1527.1 883.2L1526.8 883.2L1526.4 886.2L1525.9 889.3L1525.5 889.3L1525.1 892.4L1524.8 895.4L1524.6 895.4L1524.5 898.5L1524.3 901.6L1524 901.6L1523.5 904.6L1523 907.7L1522.5 907.7L1522.1 910.8L1521.7 913.8L1521.3 913.8L1520.9 916.9L1520.4 920L1520 920L1519.6 923.1L1519.3 923.1L1519 926.1L1518.7 929.2L1518.4 929.2L1518.1 932.3L1517.9 935.3L1517.7 935.3L1517.6 938.4L1517.4 941.5L1517 941.5L1516.5 944.5L1515.8 947.6L1515.2 947.6L1514.7 950.7L1514.4 953.7L1514.3 953.7L1514.2 956.8L1514.1 959.9L1513.9 959.9L1513.7 962.9L1513.5 966L1513.3 966L1513 969.1L1512.7 969.1L1512.3 972.1L1511.9 975.2L1511.5 978.3L1511.2 978.3L1511 981.3L1510.8 984.4L1510.5 984.4L1510.2 987.5L1509.8 990.5L1509.5 990.5L1509.3 993.6L1509.3 996.7L1509.2 996.7L1508.9 999.7L1508.5 999.7L1507.9 1002.8L1507.3 1005.9L1506.5 1005.9L1505.7 1008.9L1504.9 1012L1504.1 1015.1L1503.1 1015.1L1502 1018.1L1500.8 1018.1L1499.6 1021.2L1494.6 1021.2ZM2032.5 494.8L2034.5 497.9L2164.5 497.9L2166.5 500.9L2284.5 500.9L2286.5 504L2397 504L2397 509L2392 509L2281.5 509L2279.5 505.9L2161.5 505.9L2159.5 502.9L2029.5 502.9L2027.5 499.8L2027.5 494.8Z"/>
<path d="M269 203.4L300.9 203.4L302.9 206.5L367 206.5L369 209.6L431.2 209.6L433.2 212.6L495.4 212.6L497.4 215.7L555.8 215.7L557.8 218.8L616.2 218.8L618.2 221.8L680.9 221.8L682.9 224.9L745.7 224.9L747.8 228L803.1 228L805 231L848.7 231L850.7 234.1L889.4 234.1L891.4 237.2L928.9 237.2L930.9 240.2L967.5 240.2L969.5 243.3L1003.6 243.3L1005.6 246.4L1031 246.4L1033 249.4L1053.3 249.4L1055.3 252.5L1069.2 252.5L1071.2 255.6L1086.9 255.6L1088.8 258.6L1102.5 258.6L1104.5 261.7L1122.7 261.7L1124.7 264.8L1140.7 264.8L1142.6 267.8L1156.3 267.8L1158.3 270.9L1170.1 270.9L1172.2 274L1180.2 274L1182.2 277L1190.2 277L1192.2 280.1L1200 280.1L1201.9 283.2L1207.6 283.2L1209.5 286.2L1215.3 286.2L1217.3 289.3L1223 289.3L1224.9 292.4L1230.6 292.4L1232.5 295.4L1236.3 295.4L1238.2 298.5L1241.9 298.5L1243.7 301.6L1247.2 301.6L1248.9 304.7L1252.4 304.7L1254.2 307.7L1257.8 307.7L1259.5 310.8L1262.9 310.8L1264.4 313.9L1267.6 313.9L1269.3 316.9L1271 316.9L1272.8 320L1276.2 320L1277.8 323.1L1279.2 323.1L1280.6 326.1L1281.9 326.1L1283.3 329.2L1286.4 329.2L1288 332.3L1289.6 332.3L1291.2 335.3L1292.7 335.3L1294 338.4L1295.3 338.4L1296.5 341.5L1297.7 341.5L1299 344.5L1300.3 344.5L1301.7 347.6L1303.1 350.7L1304.4 350.7L1305.7 353.7L1307 353.7L1308.2 356.8L1309.4 356.8L1310.6 359.9L1311.9 359.9L1313.1 362.9L1314.3 362.9L1315.5 366L1316.7 366L1317.8 369.1L1319 372.1L1320.2 372.1L1321.5 375.2L1322.8 375.2L1324.1 378.3L1325.3 378.3L1326.4 381.3L1327.4 381.3L1328.4 384.4L1329.4 384.4L1330.4 387.5L1331.5 387.5L1332.6 390.5L1333.9 390.5L1335.2 393.6L1336.4 396.7L1337.5 396.7L1338.6 399.7L1339.5 399.7L1340.4 402.8L1341.3 405.9L1342.3 405.9L1343.2 408.9L1344.2 408.9L1345.3 412L1346.4 415.1L1347.5 415.1L1348.7 418.1L1349.6 421.2L1350.5 421.2L1351.4 424.3L1352.1 424.3L1352.8 427.3L1353.5 427.3L1354.2 430.4L1354.9 433.5L1355.8 433.5L1356.7 436.5L1357.7 436.5L1358.6 439.6L1359.6 439.6L1360.4 442.7L1361.2 445.7L1361.8 445.7L1362.5 448.8L1363.1 451.9L1363.9 451.9L1364.8 454.9L1365.8 454.9L1366.7 458L1367.6 461.1L1368.4 461.1L1368.9 464.1L1369.5 467.2L1370 467.2L1370.6 470.3L1371.2 470.3L1372 473.3L1372.8 476.4L1373.6 476.4L1374.4 479.5L1375.1 479.5L1375.8 482.5L1376.3 485.6L1376.9 485.6L1377.5 488.7L1378.1 491.7L1378.8 491.7L1379.6 494.8L1380.4 494.8L1381.1 497.9L1381.8 500.9L1382.4 500.9L1383 504L1383.5 507.1L1384.1 507.1L1384.7 510.1L1385.4 513.2L1386.1 513.2L1386.8 516.3L1387.6 519.3L1388.4 519.3L1389.1 522.4L1389.7 525.5L1390.2 525.5L1390.7 528.5L1391.2 528.5L1391.6 531.6L1392.1 534.7L1392.7 534.7L1393.4 537.7L1394.1 540.8L1394.9 540.8L1395.6 543.9L1396.3 546.9L1396.8 546.9L1397.2 550L1397.6 550L1398.1 553.1L1398.6 556.1L1399.2 556.1L1399.8 559.2L1400.5 562.3L1401.2 562.3L1401.7 565.3L1402.2 568.4L1402.6 568.4L1403 571.5L1403.5 571.5L1404.1 574.5L1404.7 577.6L1405.4 577.6L1406 580.7L1406.6 583.7L1407.1 583.7L1407.5 586.8L1407.8 586.8L1408.2 589.9L1408.6 592.9L1409.1 592.9L1409.7 596L1410.4 599.1L1411 599.1L1411.5 602.1L1411.9 605.2L1412.3 605.2L1412.6 608.3L1412.9 608.3L1413.3 611.4L1413.8 614.4L1414.4 614.4L1415 617.5L1415.5 620.6L1416 620.6L1416.4 623.6L1416.7 626.7L1417.1 626.7L1417.4 629.8L1417.8 632.8L1418.2 632.8L1418.6 635.9L1419 639L1419.3 639L1419.7 642L1420.1 645.1L1420.6 645.1L1421.1 648.2L1421.6 651.2L1422.1 651.2L1422.6 654.3L1422.9 657.4L1423.1 657.4L1423.3 660.4L1423.5 663.5L1423.8 663.5L1424.1 666.6L1424.6 669.6L1425.2 669.6L1425.7 672.7L1426.1 675.8L1426.4 675.8L1426.7 678.8L1426.9 681.9L1427.2 681.9L1427.5 685L1427.9 685L1428.2 688L1428.5 691.1L1428.8 691.1L1429.1 694.2L1429.3 694.2L1429.5 697.2L1429.9 700.3L1430.3 700.3L1430.7 703.4L1431.2 706.4L1431.5 706.4L1431.8 709.5L1431.9 712.6L1432 712.6L1432 715.6L1432.1 718.7L1432.4 718.7L1432.8 721.8L1433.4 721.8L1434 724.8L1434.5 727.9L1434.9 727.9L1435 731L1435 736L1430 736L1429.9 732.9L1429.5 732.9L1429 729.8L1428.4 726.8L1427.8 726.8L1427.4 723.7L1427.1 723.7L1427 720.6L1427 717.6L1426.9 717.6L1426.8 714.5L1426.5 711.4L1426.2 711.4L1425.7 708.4L1425.3 705.3L1424.9 705.3L1424.5 702.2L1424.3 699.2L1424.1 699.2L1423.8 696.1L1423.5 696.1L1423.2 693L1422.9 690L1422.5 690L1422.2 686.9L1421.9 686.9L1421.7 683.8L1421.4 680.8L1421.1 680.8L1420.7 677.7L1420.2 674.6L1419.6 674.6L1419.1 671.6L1418.8 668.5L1418.5 668.5L1418.3 665.4L1418.1 662.4L1417.9 662.4L1417.6 659.3L1417.1 656.2L1416.6 656.2L1416.1 653.2L1415.6 650.1L1415.1 650.1L1414.7 647L1414.3 644L1414 644L1413.6 640.9L1413.2 637.8L1412.8 637.8L1412.4 634.8L1412.1 631.7L1411.7 631.7L1411.4 628.6L1411 625.6L1410.5 625.6L1410 622.5L1409.4 619.4L1408.8 619.4L1408.3 616.4L1407.9 613.3L1407.6 613.3L1407.3 610.2L1406.9 610.2L1406.5 607.1L1406 604.1L1405.4 604.1L1404.7 601L1404.1 597.9L1403.6 597.9L1403.2 594.9L1402.8 591.8L1402.5 591.8L1402.1 588.7L1401.6 588.7L1401 585.7L1400.4 582.6L1399.7 582.6L1399.1 579.5L1398.5 576.5L1398 576.5L1397.6 573.4L1397.2 573.4L1396.7 570.3L1396.2 567.3L1395.5 567.3L1394.8 564.2L1394.2 561.1L1393.6 561.1L1393.1 558.1L1392.6 555L1392.2 555L1391.8 551.9L1391.3 551.9L1390.6 548.9L1389.9 545.8L1389.1 545.8L1388.4 542.7L1387.7 539.7L1387.1 539.7L1386.6 536.6L1386.2 533.5L1385.7 533.5L1385.2 530.5L1384.7 530.5L1384.1 527.4L1383.4 524.3L1382.6 524.3L1381.8 521.3L1381.1 518.2L1380.4 518.2L1379.7 515.1L1379.1 512.1L1378.5 512.1L1378 509L1377.4 505.9L1376.8 505.9L1376.1 502.9L1375.4 499.8L1374.6 499.8L1373.8 496.7L1373.1 496.7L1372.5 493.7L1371.9 490.6L1371.3 490.6L1370.8 487.5L1370.1 484.5L1369.4 484.5L1368.6 481.4L1367.8 481.4L1367 478.3L1366.2 475.3L1365.6 475.3L1365 472.2L1364.5 472.2L1363.9 469.1L1363.4 466.1L1362.6 466.1L1361.7 463L1360.8 459.9L1359.8 459.9L1358.9 456.9L1358.1 456.9L1357.5 453.8L1356.8 450.7L1356.2 450.7L1355.4 447.7L1354.6 444.6L1353.6 444.6L1352.7 441.5L1351.7 441.5L1350.8 438.5L1349.9 438.5L1349.2 435.4L1348.5 432.3L1347.8 432.3L1347.1 429.3L1346.4 429.3L1345.5 426.2L1344.6 426.2L1343.7 423.1L1342.5 420.1L1341.4 420.1L1340.3 417L1339.2 413.9L1338.2 413.9L1337.3 410.9L1336.3 410.9L1335.4 407.8L1334.5 404.7L1333.6 404.7L1332.5 401.7L1331.4 401.7L1330.2 398.6L1328.9 395.5L1327.6 395.5L1326.5 392.5L1325.4 392.5L1324.4 389.4L1323.4 389.4L1322.4 386.3L1321.4 386.3L1320.3 383.3L1319.1 383.3L1317.8 380.2L1316.5 380.2L1315.2 377.1L1314 377.1L1312.8 374.1L1311.7 371L1310.5 371L1309.3 367.9L1308.1 367.9L1306.9 364.9L1305.6 364.9L1304.4 361.8L1303.2 361.8L1302 358.7L1300.7 358.7L1299.4 355.7L1298.1 355.7L1296.7 352.6L1295.3 349.5L1294 349.5L1292.7 346.5L1291.5 346.5L1290.3 343.4L1289 343.4L1287.7 340.3L1286.2 340.3L1284.6 337.3L1283 337.3L1281.4 334.2L1278.3 334.2L1276.9 331.1L1275.6 331.1L1274.2 328.1L1272.8 328.1L1271.2 325L1267.8 325L1266 321.9L1264.3 321.9L1262.6 318.9L1259.4 318.9L1257.9 315.8L1254.5 315.8L1252.8 312.7L1249.2 312.7L1247.4 309.7L1243.9 309.7L1242.2 306.6L1238.7 306.6L1236.9 303.5L1233.2 303.5L1231.3 300.4L1227.5 300.4L1225.6 297.4L1219.9 297.4L1218 294.3L1212.3 294.3L1210.3 291.2L1204.5 291.2L1202.6 288.2L1196.9 288.2L1195 285.1L1187.2 285.1L1185.2 282L1177.2 282L1175.2 279L1167.2 279L1165.1 275.9L1153.3 275.9L1151.3 272.8L1137.6 272.8L1135.7 269.8L1119.7 269.8L1117.7 266.7L1099.5 266.7L1097.5 263.6L1083.8 263.6L1081.9 260.6L1066.2 260.6L1064.2 257.5L1050.3 257.5L1048.3 254.4L1028 254.4L1026 251.4L1000.6 251.4L998.6 248.3L964.5 248.3L962.5 245.2L925.9 245.2L923.9 242.2L886.4 242.2L884.4 239.1L845.7 239.1L843.7 236L800 236L798.1 233L742.8 233L740.7 229.9L677.9 229.9L675.9 226.8L613.2 226.8L611.2 223.8L552.8 223.8L550.8 220.7L492.4 220.7L490.4 217.6L428.2 217.6L426.2 214.6L364 214.6L362 211.5L297.9 211.5L295.9 208.4L264 208.4L264 203.4ZM1435 731L1435 736L1435 739L1434.8 739L1429.8 739L1429.8 734L1430 734L1430 731ZM1434.8 734L1434.8 737.1L1435 740.2L1435.3 740.2L1435.8 743.2L1436.4 743.2L1437.1 746.3L1437.6 746.3L1438 749.4L1438.3 752.4L1438.4 752.4L1438.4 755.5L1438.5 755.5L1438.5 758.6L1438.8 758.6L1439.1 761.6L1439.6 764.7L1440.1 764.7L1440.6 767.8L1441.1 767.8L1441.4 770.8L1441.7 773.9L1441.9 773.9L1442.1 777L1442.4 780L1442.8 780L1443.2 783.1L1443.7 786.2L1444.1 786.2L1444.5 789.2L1444.9 789.2L1445.2 792.3L1445.5 795.4L1445.9 795.4L1446.3 798.4L1446.6 801.5L1446.9 801.5L1447.2 804.6L1447.5 807.6L1447.9 807.6L1448.3 810.7L1448.9 813.8L1449.4 813.8L1449.9 816.8L1450.4 819.9L1450.7 823L1450.9 823L1451 826L1451.2 829.1L1451.5 829.1L1452 832.2L1452.6 835.2L1453.2 835.2L1453.8 838.3L1454.1 841.4L1454.4 841.4L1454.4 844.4L1454.5 847.5L1454.7 847.5L1455.1 850.6L1455.6 853.6L1456.3 853.6L1456.9 856.7L1457.4 859.8L1457.7 859.8L1457.8 862.8L1457.9 865.9L1458 865.9L1458.2 869L1458.5 872L1458.9 872L1459.4 875.1L1459.8 878.2L1460.1 878.2L1460.4 881.2L1460.7 884.3L1461 884.3L1461.3 887.4L1461.6 890.4L1462 890.4L1462.3 893.5L1462.5 896.6L1462.6 896.6L1462.6 899.6L1462.6 902.7L1462.8 902.7L1463.1 905.8L1463.5 908.8L1464.1 908.8L1464.6 911.9L1465 915L1465.2 915L1465.3 918.1L1465.3 923.1L1460.3 923.1L1460.2 920L1460 920L1459.6 916.9L1459.1 913.8L1458.5 913.8L1458.1 910.8L1457.8 907.7L1457.6 907.7L1457.6 904.6L1457.6 901.6L1457.5 901.6L1457.3 898.5L1457 895.4L1456.6 895.4L1456.3 892.4L1456 889.3L1455.7 889.3L1455.4 886.2L1455.1 883.2L1454.8 883.2L1454.4 880.1L1453.9 877L1453.5 877L1453.2 874L1453 870.9L1452.9 870.9L1452.8 867.8L1452.7 864.8L1452.4 864.8L1451.9 861.7L1451.3 858.6L1450.6 858.6L1450.1 855.6L1449.7 852.5L1449.5 852.5L1449.4 849.4L1449.4 846.4L1449.1 846.4L1448.8 843.3L1448.2 840.2L1447.6 840.2L1447 837.2L1446.5 834.1L1446.2 834.1L1446 831L1445.9 828L1445.7 828L1445.4 824.9L1444.9 821.8L1444.4 818.8L1443.9 818.8L1443.3 815.7L1442.9 812.6L1442.5 812.6L1442.2 809.6L1441.9 806.5L1441.6 806.5L1441.3 803.4L1440.9 800.4L1440.5 800.4L1440.2 797.3L1439.9 794.2L1439.5 794.2L1439.1 791.2L1438.7 791.2L1438.2 788.1L1437.8 785L1437.4 785L1437.1 782L1436.9 778.9L1436.7 778.9L1436.4 775.8L1436.1 772.8L1435.6 772.8L1435.1 769.7L1434.6 769.7L1434.1 766.6L1433.8 763.6L1433.5 763.6L1433.5 760.5L1433.4 760.5L1433.4 757.4L1433.3 757.4L1433 754.4L1432.6 751.3L1432.1 751.3L1431.4 748.2L1430.8 748.2L1430.3 745.2L1430 745.2L1429.8 742.1L1429.8 739L1429.8 734ZM1465.3 918.1L1465.3 923.1L1465.2 926.1L1465.2 926.1L1460.2 926.1L1460.2 921.1L1460.2 921.1L1460.3 918.1ZM1465.2 921.1L1465.2 924.2L1465.4 927.3L1465.7 927.3L1466.2 930.3L1466.7 933.4L1467.1 933.4L1467.3 936.5L1467.5 939.5L1467.5 939.5L1467.5 944.5L1462.5 944.5L1462.5 944.5L1462.3 941.5L1462.1 938.4L1461.7 938.4L1461.2 935.3L1460.7 932.3L1460.4 932.3L1460.2 929.2L1460.2 926.1L1460.2 921.1ZM1467.5 939.5L1467.5 944.5L1467.5 947.6L1462.5 947.6L1462.5 942.6L1462.5 939.5ZM1467.5 942.6L1467.5 945.7L1467.6 945.7L1467.9 948.7L1468.2 951.8L1468.5 951.8L1468.9 954.9L1469.2 957.9L1469.5 957.9L1469.8 961L1469.9 964.1L1470 964.1L1470 967.1L1470.1 970.2L1470.1 970.2L1470.3 973.3L1470.5 976.3L1470.8 976.3L1471.2 979.4L1471.6 982.5L1472 982.5L1472.3 985.5L1472.4 988.6L1472.5 988.6L1472.5 991.7L1472.6 994.7L1472.7 994.7L1472.9 997.8L1473.3 1000.9L1473.7 1000.9L1474 1003.9L1474.3 1007L1474.5 1007L1474.6 1010.1L1474.7 1010.1L1474.8 1013.1L1474.9 1016.2L1475.2 1016.2L1475.6 1019.3L1476 1022.3L1476.5 1022.3L1476.8 1025.4L1477.1 1025.4L1477.3 1028.5L1477.3 1031.5L1477.4 1031.5L1477.5 1034.6L1477.7 1034.6L1477.9 1037.7L1478.4 1040.7L1478.9 1040.7L1479.5 1043.8L1480 1046.9L1480.3 1046.9L1480.6 1049.9L1480.9 1053L1481.1 1056.1L1481.5 1056.1L1481.8 1059.1L1482.3 1062.2L1482.8 1062.2L1483.3 1065.3L1483.7 1068.3L1484.2 1068.3L1484.6 1071.4L1485 1074.5L1485.3 1074.5L1485.7 1077.5L1486 1077.5L1486.4 1080.6L1486.9 1083.7L1487.3 1083.7L1487.8 1086.7L1488.3 1089.8L1488.9 1089.8L1489.4 1092.9L1489.8 1092.9L1490.2 1095.9L1490.6 1099L1490.9 1099L1491.2 1102.1L1491.5 1105.1L1491.9 1105.1L1492.4 1108.2L1492.9 1108.2L1493.4 1111.3L1493.9 1114.3L1494.3 1117.4L1494.8 1117.4L1495.2 1120.5L1495.7 1123.5L1496.3 1123.5L1496.8 1126.6L1497.3 1129.7L1497.7 1129.7L1498.1 1132.7L1498.4 1135.8L1498.7 1135.8L1499.1 1138.9L1499.5 1138.9L1500.1 1141.9L1500.7 1145L1501.4 1145L1502 1148.1L1502.8 1151.1L1503.3 1151.1L1503.8 1154.2L1504.2 1157.3L1504.6 1157.3L1505.3 1160.3L1506 1160.3L1506.9 1163.4L1508 1163.4L1509.1 1166.5L1509.1 1171.5L1504.1 1171.5L1503 1168.4L1501.9 1168.4L1501 1165.3L1500.3 1165.3L1499.6 1162.3L1499.2 1162.3L1498.8 1159.2L1498.3 1156.1L1497.8 1156.1L1497 1153.1L1496.4 1150L1495.7 1150L1495.1 1146.9L1494.5 1143.9L1494.1 1143.9L1493.7 1140.8L1493.4 1140.8L1493.1 1137.7L1492.7 1134.7L1492.3 1134.7L1491.8 1131.6L1491.3 1128.5L1490.7 1128.5L1490.2 1125.5L1489.8 1122.4L1489.3 1122.4L1488.9 1119.3L1488.4 1116.3L1487.9 1113.2L1487.4 1113.2L1486.9 1110.1L1486.5 1110.1L1486.2 1107.1L1485.9 1104L1485.6 1104L1485.2 1100.9L1484.8 1097.9L1484.4 1097.9L1483.9 1094.8L1483.3 1094.8L1482.8 1091.7L1482.3 1088.7L1481.9 1088.7L1481.4 1085.6L1481 1082.5L1480.7 1082.5L1480.3 1079.5L1480 1079.5L1479.6 1076.4L1479.2 1073.3L1478.7 1073.3L1478.3 1070.3L1477.8 1067.2L1477.3 1067.2L1476.8 1064.1L1476.5 1061.1L1476.1 1061.1L1475.9 1058L1475.6 1054.9L1475.3 1051.9L1475 1051.9L1474.5 1048.8L1473.9 1045.7L1473.4 1045.7L1472.9 1042.7L1472.7 1039.6L1472.5 1039.6L1472.4 1036.5L1472.3 1036.5L1472.3 1033.5L1472.1 1030.4L1471.8 1030.4L1471.5 1027.3L1471 1027.3L1470.6 1024.3L1470.2 1021.2L1469.9 1021.2L1469.8 1018.1L1469.7 1015.1L1469.6 1015.1L1469.5 1012L1469.3 1012L1469 1008.9L1468.7 1005.9L1468.3 1005.9L1467.9 1002.8L1467.7 999.7L1467.6 999.7L1467.5 996.7L1467.5 993.6L1467.4 993.6L1467.3 990.5L1467 987.5L1466.6 987.5L1466.2 984.4L1465.8 981.3L1465.5 981.3L1465.3 978.3L1465.1 975.2L1465.1 975.2L1465 972.1L1465 969.1L1464.9 969.1L1464.8 966L1464.5 962.9L1464.2 962.9L1463.9 959.9L1463.5 956.8L1463.2 956.8L1462.9 953.7L1462.6 950.7L1462.5 950.7L1462.5 947.6L1462.5 942.6ZM1504.1 1166.5L1505.6 1163.4L1508.5 1163.4L1509.9 1160.3L1511.3 1160.3L1512.6 1157.3L1513.7 1154.2L1514.8 1154.2L1515.5 1151.1L1516.3 1151.1L1516.9 1148.1L1517.5 1145L1517.9 1145L1518.4 1141.9L1518.8 1138.9L1519.2 1138.9L1519.7 1135.8L1520.1 1132.7L1520.5 1132.7L1520.8 1129.7L1521.1 1126.6L1521.3 1126.6L1521.5 1123.5L1521.8 1120.5L1522.1 1120.5L1522.5 1117.4L1522.9 1114.3L1523.3 1111.3L1523.6 1111.3L1523.9 1108.2L1524.2 1105.1L1524.4 1105.1L1524.6 1102.1L1524.8 1099L1525 1099L1525.3 1095.9L1525.5 1092.9L1525.8 1092.9L1526.1 1089.8L1526.4 1086.7L1526.8 1086.7L1527.3 1083.7L1527.8 1080.6L1528.2 1080.6L1528.4 1077.5L1528.5 1074.5L1528.5 1074.5L1533.5 1074.5L1533.5 1079.5L1533.5 1079.5L1533.4 1082.5L1533.2 1085.6L1532.8 1085.6L1532.3 1088.7L1531.8 1091.7L1531.4 1091.7L1531.1 1094.8L1530.8 1097.9L1530.5 1097.9L1530.3 1100.9L1530 1104L1529.8 1104L1529.6 1107.1L1529.4 1110.1L1529.2 1110.1L1528.9 1113.2L1528.6 1116.3L1528.3 1116.3L1527.9 1119.3L1527.5 1122.4L1527.1 1125.5L1526.8 1125.5L1526.5 1128.5L1526.3 1131.6L1526.1 1131.6L1525.8 1134.7L1525.5 1137.7L1525.1 1137.7L1524.7 1140.8L1524.2 1143.9L1523.8 1143.9L1523.4 1146.9L1522.9 1150L1522.5 1150L1521.9 1153.1L1521.3 1156.1L1520.5 1156.1L1519.8 1159.2L1518.7 1159.2L1517.6 1162.3L1516.3 1165.3L1514.9 1165.3L1513.5 1168.4L1510.6 1168.4L1509.1 1171.5L1504.1 1171.5ZM1533.5 1079.5L1528.5 1079.5L1528.4 1076.4L1528.4 1071.4L1533.4 1071.4L1533.5 1074.5ZM1528.4 1071.4L1528.5 1068.3L1528.7 1068.3L1529 1065.3L1529.5 1065.3L1530 1062.2L1530.4 1059.1L1530.7 1059.1L1530.9 1056.1L1535.9 1056.1L1535.9 1061.1L1535.7 1064.1L1535.4 1064.1L1535 1067.2L1534.5 1070.3L1534 1070.3L1533.7 1073.3L1533.5 1073.3L1533.4 1076.4L1528.4 1076.4ZM1535.9 1061.1L1530.9 1061.1L1530.8 1058L1530.7 1058L1530.6 1054.9L1530.6 1049.9L1535.6 1049.9L1535.7 1053L1535.8 1053L1535.9 1056.1ZM1530.6 1049.9L1530.6 1046.9L1530.9 1046.9L1531.4 1043.8L1532 1040.7L1532.5 1040.7L1532.9 1037.7L1533 1034.6L1533 1034.6L1538 1034.6L1538 1039.6L1538 1039.6L1537.9 1042.7L1537.5 1045.7L1537 1045.7L1536.4 1048.8L1535.9 1051.9L1535.6 1051.9L1535.6 1054.9L1530.6 1054.9ZM1538 1039.6L1533 1039.6L1532.9 1036.5L1532.8 1036.5L1532.8 1033.5L1532.8 1033.5L1532.8 1028.5L1537.8 1028.5L1537.8 1028.5L1537.8 1031.5L1537.9 1031.5L1538 1034.6ZM1532.8 1028.5L1533.1 1025.4L1533.4 1025.4L1533.8 1022.3L1534.2 1019.3L1534.6 1019.3L1534.8 1016.2L1535 1016.2L1535 1013.1L1535.1 1010.1L1535.1 1010.1L1535.3 1007L1535.6 1007L1535.9 1003.9L1536.2 1000.9L1536.4 1000.9L1536.6 997.8L1536.8 994.7L1536.9 994.7L1537 991.7L1537.2 988.6L1537.4 988.6L1537.7 985.5L1538 982.5L1538.2 982.5L1538.5 979.4L1538.7 976.3L1538.9 976.3L1539.1 973.3L1539.4 970.2L1539.7 970.2L1539.9 967.1L1540.1 964.1L1540.2 964.1L1540.3 961L1540.3 957.9L1540.5 957.9L1540.7 954.9L1541.2 951.8L1541.6 951.8L1542.1 948.7L1542.5 945.7L1542.6 942.6L1542.7 942.6L1547.7 942.6L1547.7 947.6L1547.6 947.6L1547.5 950.7L1547.1 953.7L1546.6 956.8L1546.2 956.8L1545.7 959.9L1545.5 962.9L1545.3 962.9L1545.3 966L1545.2 969.1L1545.1 969.1L1544.9 972.1L1544.7 975.2L1544.4 975.2L1544.1 978.3L1543.9 981.3L1543.7 981.3L1543.5 984.4L1543.2 987.5L1543 987.5L1542.7 990.5L1542.4 993.6L1542.2 993.6L1542 996.7L1541.9 999.7L1541.8 999.7L1541.6 1002.8L1541.4 1005.9L1541.2 1005.9L1540.9 1008.9L1540.6 1012L1540.3 1012L1540.1 1015.1L1540.1 1015.1L1540 1018.1L1540 1021.2L1539.8 1021.2L1539.6 1024.3L1539.2 1024.3L1538.8 1027.3L1538.4 1030.4L1538.1 1030.4L1537.8 1033.5L1532.8 1033.5ZM1547.7 947.6L1542.7 947.6L1542.7 944.5L1542.7 939.5L1547.7 939.5L1547.7 942.6ZM1542.7 939.5L1542.7 936.5L1542.8 936.5L1543.1 933.4L1543.5 930.3L1543.9 930.3L1544.3 927.3L1544.6 924.2L1544.7 924.2L1544.8 921.1L1544.9 918.1L1545.1 915L1545.3 915L1545.6 911.9L1546 908.8L1546.2 908.8L1546.4 905.8L1546.6 902.7L1546.7 902.7L1547 899.6L1547.3 896.6L1547.6 896.6L1548 893.5L1548.3 890.4L1548.4 890.4L1548.4 887.4L1553.4 887.4L1553.4 892.4L1553.4 895.4L1553.3 895.4L1553 898.5L1552.6 901.6L1552.3 901.6L1552 904.6L1551.7 907.7L1551.6 907.7L1551.4 910.8L1551.2 913.8L1551 913.8L1550.6 916.9L1550.3 920L1550.1 920L1549.9 923.1L1549.8 926.1L1549.7 929.2L1549.6 929.2L1549.3 932.3L1548.9 935.3L1548.5 935.3L1548.1 938.4L1547.8 941.5L1547.7 941.5L1547.7 944.5L1542.7 944.5ZM1553.4 892.4L1548.4 892.4L1548.4 889.3L1548.4 889.3L1548.4 884.3L1553.4 884.3L1553.4 884.3L1553.4 887.4ZM1548.4 884.3L1548.5 881.2L1548.8 878.2L1549.3 878.2L1549.9 875.1L1550.5 872L1550.9 872L1551.1 869L1556.1 869L1556.1 874L1555.9 877L1555.5 877L1554.9 880.1L1554.3 883.2L1553.8 883.2L1553.5 886.2L1553.4 889.3L1548.4 889.3ZM1556.1 874L1551.1 874L1551 870.9L1550.8 870.9L1550.6 867.8L1550.6 864.8L1550.8 864.8L1550.8 859.8L1555.8 859.8L1555.6 859.8L1555.6 862.8L1555.8 865.9L1556 865.9L1556.1 869ZM1550.8 859.8L1551.3 856.7L1551.9 853.6L1552.5 853.6L1553 850.6L1553.2 847.5L1553.3 847.5L1558.3 847.5L1558.3 852.5L1558.2 852.5L1558 855.6L1557.5 858.6L1556.9 858.6L1556.3 861.7L1555.8 864.8L1550.8 864.8ZM1558.3 852.5L1553.3 852.5L1553.3 849.4L1553.2 846.4L1553.2 841.4L1558.2 841.4L1558.3 844.4L1558.3 847.5ZM1553.2 841.4L1553.2 838.3L1553.4 838.3L1553.7 835.2L1554.1 832.2L1554.5 832.2L1554.9 829.1L1555.1 826L1555.4 826L1555.5 823L1555.6 819.9L1555.8 819.9L1555.9 816.8L1556.1 813.8L1556.3 810.7L1556.6 810.7L1556.9 807.6L1557.3 804.6L1557.6 804.6L1558 801.5L1558.2 798.4L1558.3 798.4L1558.4 795.4L1558.5 792.3L1558.5 792.3L1558.7 789.2L1559 786.2L1559.4 786.2L1559.8 783.1L1560.2 780L1560.5 780L1560.7 777L1560.8 773.9L1560.9 773.9L1561 770.8L1561.2 770.8L1561.4 767.8L1561.8 764.7L1562.2 764.7L1562.6 761.6L1562.9 761.6L1563.1 758.6L1563.2 755.5L1563.3 755.5L1563.3 752.4L1563.4 752.4L1563.6 749.4L1563.9 746.3L1564.3 746.3L1564.7 743.2L1565.1 743.2L1565.5 740.2L1565.8 740.2L1566.1 737.1L1566.3 734L1566.4 734L1566.6 731L1566.9 727.9L1567.2 727.9L1567.6 724.8L1568 721.8L1568.4 721.8L1568.7 718.7L1569.1 718.7L1569.5 715.6L1569.8 712.6L1570.2 712.6L1570.6 709.5L1571 706.4L1571.4 706.4L1571.7 703.4L1572 700.3L1572.3 700.3L1572.6 697.2L1572.9 694.2L1573.2 694.2L1573.5 691.1L1573.9 691.1L1574.3 688L1574.7 685L1575 685L1575.3 681.9L1575.5 681.9L1575.8 678.8L1576 675.8L1576.3 675.8L1576.6 672.7L1576.9 669.6L1577.3 669.6L1577.7 666.6L1578.1 663.5L1578.4 663.5L1578.8 660.4L1579.1 657.4L1579.4 657.4L1579.6 654.3L1579.8 651.2L1580 651.2L1580.2 648.2L1580.6 645.1L1581.1 645.1L1581.6 642L1582.2 639L1582.8 639L1583.2 635.9L1583.5 632.8L1583.8 632.8L1583.9 629.8L1584.1 626.7L1584.4 626.7L1584.8 623.6L1585.3 620.6L1585.9 620.6L1586.6 617.5L1587.2 614.4L1587.7 614.4L1588.2 611.4L1588.5 608.3L1588.9 608.3L1589.4 605.2L1590 602.1L1590.7 602.1L1591.4 599.1L1592.1 596L1592.7 596L1593.2 592.9L1593.7 589.9L1594.3 589.9L1594.9 586.8L1595.6 583.7L1596.5 583.7L1597.3 580.7L1598.1 577.6L1598.8 577.6L1599.4 574.5L1600 571.5L1600.6 571.5L1601.3 568.4L1602 565.3L1602.8 565.3L1603.6 562.3L1604.4 562.3L1605.2 559.2L1606 559.2L1606.7 556.1L1607.3 553.1L1608.7 553.1L1609.4 550L1610.1 550L1610.8 546.9L1611.9 546.9L1613.1 543.9L1614.4 540.8L1615.6 540.8L1617 537.7L1618.4 537.7L1619.6 534.7L1620.7 534.7L1621.8 531.6L1622.9 531.6L1623.9 528.5L1625 528.5L1626.2 525.5L1627.6 522.4L1629 522.4L1630.5 519.3L1633.3 519.3L1635.2 516.3L1637.1 516.3L1639.1 513.2L1642.9 513.2L1645 510.1L1651.1 510.1L1653.1 507.1L1661 507.1L1663 504L1673.1 504L1675.1 500.9L1693.1 500.9L1695.1 497.9L1741.1 497.9L1743.1 494.8L1895.1 494.8L1900.1 494.8L1900.1 499.8L1748.1 499.8L1746.1 502.9L1700.1 502.9L1698.1 505.9L1680.1 505.9L1678.1 509L1668 509L1666 512.1L1658.1 512.1L1656.1 515.1L1650 515.1L1647.9 518.2L1644.1 518.2L1642.1 521.3L1640.2 521.3L1638.3 524.3L1635.5 524.3L1634 527.4L1632.6 527.4L1631.2 530.5L1630 533.5L1628.9 533.5L1627.9 536.6L1626.8 536.6L1625.7 539.7L1624.6 539.7L1623.4 542.7L1622 542.7L1620.6 545.8L1619.4 545.8L1618.1 548.9L1616.9 551.9L1615.8 551.9L1615.1 555L1614.4 555L1613.7 558.1L1612.3 558.1L1611.7 561.1L1611 564.2L1610.2 564.2L1609.4 567.3L1608.6 567.3L1607.8 570.3L1607 570.3L1606.3 573.4L1605.6 576.5L1605 576.5L1604.4 579.5L1603.8 582.6L1603.1 582.6L1602.3 585.7L1601.5 588.7L1600.6 588.7L1599.9 591.8L1599.3 594.9L1598.7 594.9L1598.2 597.9L1597.7 601L1597.1 601L1596.4 604.1L1595.7 607.1L1595 607.1L1594.4 610.2L1593.9 613.3L1593.5 613.3L1593.2 616.4L1592.7 619.4L1592.2 619.4L1591.6 622.5L1590.9 625.6L1590.3 625.6L1589.8 628.6L1589.4 631.7L1589.1 631.7L1588.9 634.8L1588.8 637.8L1588.5 637.8L1588.2 640.9L1587.8 644L1587.2 644L1586.6 647L1586.1 650.1L1585.6 650.1L1585.2 653.2L1585 656.2L1584.8 656.2L1584.6 659.3L1584.4 662.4L1584.1 662.4L1583.8 665.4L1583.4 668.5L1583.1 668.5L1582.7 671.6L1582.3 674.6L1581.9 674.6L1581.6 677.7L1581.3 680.8L1581 680.8L1580.8 683.8L1580.5 686.9L1580.3 686.9L1580 690L1579.7 690L1579.3 693L1578.9 696.1L1578.5 696.1L1578.2 699.2L1577.9 699.2L1577.6 702.2L1577.3 705.3L1577 705.3L1576.7 708.4L1576.4 711.4L1576 711.4L1575.6 714.5L1575.2 717.6L1574.8 717.6L1574.5 720.6L1574.1 723.7L1573.7 723.7L1573.4 726.8L1573 726.8L1572.6 729.8L1572.2 732.9L1571.9 732.9L1571.6 736L1571.4 739L1571.3 739L1571.1 742.1L1570.8 745.2L1570.5 745.2L1570.1 748.2L1569.7 748.2L1569.3 751.3L1568.9 751.3L1568.6 754.4L1568.4 757.4L1568.3 757.4L1568.3 760.5L1568.2 760.5L1568.1 763.6L1567.9 766.6L1567.6 766.6L1567.2 769.7L1566.8 769.7L1566.4 772.8L1566.2 775.8L1566 775.8L1565.9 778.9L1565.8 778.9L1565.7 782L1565.5 785L1565.2 785L1564.8 788.1L1564.4 791.2L1564 791.2L1563.7 794.2L1563.5 797.3L1563.5 797.3L1563.4 800.4L1563.3 803.4L1563.2 803.4L1563 806.5L1562.6 809.6L1562.3 809.6L1561.9 812.6L1561.6 815.7L1561.3 815.7L1561.1 818.8L1560.9 821.8L1560.8 824.9L1560.6 824.9L1560.5 828L1560.4 831L1560.1 831L1559.9 834.1L1559.5 837.2L1559.1 837.2L1558.7 840.2L1558.4 843.3L1558.2 843.3L1558.2 846.4L1553.2 846.4ZM1900.1 494.8L1902.1 497.9L2108.1 497.9L2110.1 500.9L2234.1 500.9L2236.1 504L2372.1 504L2374.1 507.1L2397 507.1L2397 512.1L2392 512.1L2369.1 512.1L2367.1 509L2231.1 509L2229.1 505.9L2105.1 505.9L2103.1 502.9L1897.1 502.9L1895.1 499.8L1895.1 494.8Z"/>
<path d="M269 203.4L289 203.4L291 206.5L354.9 206.5L357 209.6L421.2 209.6L423.2 212.6L483.4 212.6L485.4 215.7L545.7 215.7L547.7 218.8L606.1 218.8L608.1 221.8L668.7 221.8L670.7 224.9L733.7 224.9L735.7 228L793.3 228L795.3 231L840.4 231L842.5 234.1L883.4 234.1L885.4 237.2L921.1 237.2L923.1 240.2L959.3 240.2L961.3 243.3L995.6 243.3L997.6 246.4L1027.1 246.4L1029.1 249.4L1053.2 249.4L1055.2 252.5L1075 252.5L1076.9 255.6L1096.6 255.6L1098.6 258.6L1120.6 258.6L1122.6 261.7L1142.6 261.7L1144.6 264.8L1162.3 264.8L1164.2 267.8L1178 267.8L1180 270.9L1189.8 270.9L1191.8 274L1201.6 274L1203.5 277L1211.2 277L1213.1 280.1L1220.7 280.1L1222.6 283.2L1230.2 283.2L1232.1 286.2L1238.1 286.2L1240.1 289.3L1247.8 289.3L1249.7 292.4L1255.4 292.4L1257.2 295.4L1260.9 295.4L1262.8 298.5L1268.3 298.5L1270.1 301.6L1273.6 301.6L1275.3 304.7L1278.7 304.7L1280.4 307.7L1283.9 307.7L1285.7 310.8L1287.4 310.8L1289.1 313.9L1292.3 313.9L1294 316.9L1295.6 316.9L1297.3 320L1298.9 320L1300.5 323.1L1303.4 323.1L1304.8 326.1L1306.3 326.1L1307.8 329.2L1309.3 329.2L1310.8 332.3L1312.4 332.3L1313.8 335.3L1315.2 335.3L1316.6 338.4L1317.9 338.4L1319.3 341.5L1320.6 341.5L1321.9 344.5L1323.1 344.5L1324.3 347.6L1325.4 347.6L1326.6 350.7L1327.9 350.7L1329.2 353.7L1330.5 353.7L1331.9 356.8L1333.2 359.9L1334.4 359.9L1335.6 362.9L1336.7 362.9L1338 366L1339.2 366L1340.5 369.1L1341.6 369.1L1342.8 372.1L1343.9 372.1L1344.9 375.2L1345.9 378.3L1347 378.3L1348.1 381.3L1349.3 381.3L1350.5 384.4L1351.7 384.4L1352.8 387.5L1354 387.5L1355.1 390.5L1356.2 393.6L1357.3 393.6L1358.3 396.7L1359.2 396.7L1360.1 399.7L1360.9 399.7L1361.6 402.8L1362.5 405.9L1363.5 405.9L1364.5 408.9L1365.6 408.9L1366.7 412L1367.8 415.1L1368.7 415.1L1369.6 418.1L1370.3 421.2L1371 421.2L1371.8 424.3L1372.6 424.3L1373.4 427.3L1374.2 427.3L1375 430.4L1375.8 433.5L1376.6 433.5L1377.6 436.5L1378.5 436.5L1379.4 439.6L1380.2 442.7L1380.9 442.7L1381.5 445.7L1382.2 448.8L1382.9 448.8L1383.7 451.9L1384.6 451.9L1385.5 454.9L1386.4 458L1387.1 458L1387.8 461.1L1388.4 464.1L1388.9 464.1L1389.5 467.2L1390.2 467.2L1391 470.3L1391.8 473.3L1392.6 473.3L1393.3 476.4L1394 476.4L1394.6 479.5L1395.3 482.5L1395.9 482.5L1396.6 485.6L1397.2 485.6L1397.7 488.7L1398.2 491.7L1398.7 491.7L1399.3 494.8L1400 497.9L1400.8 497.9L1401.7 500.9L1402.6 504L1403.4 504L1404 507.1L1404.4 507.1L1404.8 510.1L1405.2 513.2L1405.8 513.2L1406.5 516.3L1407.4 519.3L1408.2 519.3L1408.8 522.4L1409.4 525.5L1409.9 525.5L1410.4 528.5L1410.8 531.6L1411.4 531.6L1411.9 534.7L1412.5 534.7L1412.9 537.7L1413.4 540.8L1413.8 540.8L1414.4 543.9L1415 546.9L1415.8 546.9L1416.6 550L1417.3 550L1417.9 553.1L1418.2 556.1L1418.4 556.1L1418.6 559.2L1418.9 562.3L1419.4 562.3L1420 565.3L1420.7 568.4L1421.3 568.4L1421.7 571.5L1422.1 574.5L1422.4 574.5L1422.8 577.6L1423.2 580.7L1423.8 580.7L1424.4 583.7L1425 586.8L1425.4 586.8L1425.8 589.9L1426.1 589.9L1426.4 592.9L1426.8 596L1427.3 596L1427.8 599.1L1428.2 602.1L1428.5 602.1L1428.7 605.2L1428.9 608.3L1429.2 608.3L1429.7 611.4L1430.4 614.4L1431.1 614.4L1431.7 617.5L1432.1 620.6L1432.3 620.6L1432.4 623.6L1432.4 626.7L1432.6 626.7L1432.9 629.8L1433.3 632.8L1433.8 632.8L1434.3 635.9L1434.7 639L1435 639L1435.3 642L1435.7 645.1L1436.1 645.1L1436.5 648.2L1436.8 651.2L1437.1 651.2L1437.1 654.3L1437.2 657.4L1437.2 657.4L1437.4 660.4L1437.8 663.5L1438.3 663.5L1438.9 666.6L1439.3 669.6L1439.7 669.6L1440 672.7L1440.2 675.8L1440.5 675.8L1440.8 678.8L1441.2 681.9L1441.6 681.9L1442 685L1442.2 685L1442.3 688L1442.4 691.1L1442.5 691.1L1442.7 694.2L1443.1 694.2L1443.6 697.2L1444.2 700.3L1444.8 700.3L1445.2 703.4L1445.7 706.4L1446.1 706.4L1446.5 709.5L1447 712.6L1447.5 712.6L1448.1 715.6L1448.5 718.7L1448.8 718.7L1449.1 721.8L1449.4 721.8L1449.7 724.8L1450.1 727.9L1450.6 727.9L1451.1 731L1451.7 734L1452.1 734L1452.5 737.1L1452.8 740.2L1453 740.2L1453.3 743.2L1453.7 743.2L1454 746.3L1454.4 746.3L1454.7 749.4L1455 752.4L1455.2 752.4L1455.3 755.5L1455.5 755.5L1455.7 758.6L1456 761.6L1456.4 761.6L1456.8 764.7L1457.2 764.7L1457.5 767.8L1457.8 770.8L1458.1 770.8L1458.3 773.9L1458.5 773.9L1458.7 777L1459 780L1459.2 780L1459.5 783.1L1459.7 786.2L1460 786.2L1460.3 789.2L1460.7 792.3L1461.1 792.3L1461.5 795.4L1461.9 798.4L1462.2 798.4L1462.3 801.5L1462.4 804.6L1462.5 804.6L1462.7 807.6L1463 810.7L1463.4 810.7L1463.7 813.8L1464.1 816.8L1464.3 819.9L1464.6 819.9L1464.8 823L1465.1 826L1465.3 826L1465.5 829.1L1465.8 832.2L1466 832.2L1466.2 835.2L1466.5 838.3L1466.9 838.3L1467.3 841.4L1467.7 844.4L1468 847.5L1468.2 847.5L1468.3 850.6L1468.3 853.6L1468.4 853.6L1468.6 856.7L1468.9 859.8L1469.3 859.8L1469.7 862.8L1470 865.9L1470.2 865.9L1470.3 869L1470.5 872L1470.7 872L1471 875.1L1471.4 878.2L1471.7 878.2L1472 881.2L1472.2 884.3L1472.4 884.3L1472.7 887.4L1472.9 890.4L1473.2 890.4L1473.4 893.5L1473.5 896.6L1473.5 896.6L1473.5 901.6L1468.5 901.6L1468.5 901.6L1468.4 898.5L1468.2 895.4L1467.9 895.4L1467.7 892.4L1467.4 889.3L1467.2 889.3L1467 886.2L1466.7 883.2L1466.4 883.2L1466 880.1L1465.7 877L1465.5 877L1465.3 874L1465.2 870.9L1465 870.9L1464.7 867.8L1464.3 864.8L1463.9 864.8L1463.6 861.7L1463.4 858.6L1463.3 858.6L1463.3 855.6L1463.2 852.5L1463 852.5L1462.7 849.4L1462.3 846.4L1461.9 843.3L1461.5 843.3L1461.2 840.2L1461 837.2L1460.8 837.2L1460.5 834.1L1460.3 831L1460.1 831L1459.8 828L1459.6 824.9L1459.3 824.9L1459.1 821.8L1458.7 818.8L1458.4 815.7L1458 815.7L1457.7 812.6L1457.5 809.6L1457.4 809.6L1457.3 806.5L1457.2 803.4L1456.9 803.4L1456.5 800.4L1456.1 797.3L1455.7 797.3L1455.3 794.2L1455 791.2L1454.7 791.2L1454.5 788.1L1454.2 785L1454 785L1453.7 782L1453.5 778.9L1453.3 778.9L1453.1 775.8L1452.8 775.8L1452.5 772.8L1452.2 769.7L1451.8 769.7L1451.4 766.6L1451 766.6L1450.7 763.6L1450.5 760.5L1450.3 760.5L1450.2 757.4L1450 757.4L1449.7 754.4L1449.4 751.3L1449 751.3L1448.7 748.2L1448.3 748.2L1448 745.2L1447.8 745.2L1447.5 742.1L1447.1 739L1446.7 739L1446.1 736L1445.6 732.9L1445.1 732.9L1444.7 729.8L1444.4 726.8L1444.1 726.8L1443.8 723.7L1443.5 723.7L1443.1 720.6L1442.5 717.6L1442 717.6L1441.5 714.5L1441.1 711.4L1440.7 711.4L1440.2 708.4L1439.8 705.3L1439.2 705.3L1438.6 702.2L1438.1 699.2L1437.7 699.2L1437.5 696.1L1437.4 696.1L1437.3 693L1437.2 690L1437 690L1436.6 686.9L1436.2 686.9L1435.8 683.8L1435.5 680.8L1435.2 680.8L1435 677.7L1434.7 674.6L1434.3 674.6L1433.9 671.6L1433.3 668.5L1432.8 668.5L1432.4 665.4L1432.2 662.4L1432.2 662.4L1432.1 659.3L1432.1 656.2L1431.8 656.2L1431.5 653.2L1431.1 650.1L1430.7 650.1L1430.3 647L1430 644L1429.7 644L1429.3 640.9L1428.8 637.8L1428.3 637.8L1427.9 634.8L1427.6 631.7L1427.4 631.7L1427.4 628.6L1427.3 625.6L1427.1 625.6L1426.7 622.5L1426.1 619.4L1425.4 619.4L1424.7 616.4L1424.2 613.3L1423.9 613.3L1423.7 610.2L1423.5 607.1L1423.2 607.1L1422.8 604.1L1422.3 601L1421.8 601L1421.4 597.9L1421.1 594.9L1420.8 594.9L1420.4 591.8L1420 591.8L1419.4 588.7L1418.8 585.7L1418.2 585.7L1417.8 582.6L1417.4 579.5L1417.1 579.5L1416.7 576.5L1416.3 573.4L1415.7 573.4L1415 570.3L1414.4 567.3L1413.9 567.3L1413.6 564.2L1413.4 561.1L1413.2 561.1L1412.9 558.1L1412.3 555L1411.6 555L1410.8 551.9L1410 551.9L1409.4 548.9L1408.8 545.8L1408.4 545.8L1407.9 542.7L1407.5 539.7L1406.9 539.7L1406.4 536.6L1405.8 536.6L1405.4 533.5L1404.9 530.5L1404.4 530.5L1403.8 527.4L1403.2 524.3L1402.4 524.3L1401.5 521.3L1400.8 518.2L1400.2 518.2L1399.8 515.1L1399.4 512.1L1399 512.1L1398.4 509L1397.6 509L1396.7 505.9L1395.8 502.9L1395 502.9L1394.3 499.8L1393.7 496.7L1393.2 496.7L1392.7 493.7L1392.2 490.6L1391.6 490.6L1390.9 487.5L1390.3 487.5L1389.6 484.5L1389 481.4L1388.3 481.4L1387.6 478.3L1386.8 478.3L1386 475.3L1385.2 472.2L1384.5 472.2L1383.9 469.1L1383.4 469.1L1382.8 466.1L1382.1 463L1381.4 463L1380.5 459.9L1379.6 456.9L1378.7 456.9L1377.9 453.8L1377.2 453.8L1376.5 450.7L1375.9 447.7L1375.2 447.7L1374.4 444.6L1373.5 441.5L1372.6 441.5L1371.6 438.5L1370.8 438.5L1370 435.4L1369.2 432.3L1368.4 432.3L1367.6 429.3L1366.8 429.3L1366 426.2L1365.3 426.2L1364.6 423.1L1363.7 420.1L1362.8 420.1L1361.7 417L1360.6 413.9L1359.5 413.9L1358.5 410.9L1357.5 410.9L1356.6 407.8L1355.9 404.7L1355.1 404.7L1354.2 401.7L1353.3 401.7L1352.3 398.6L1351.2 398.6L1350.1 395.5L1349 392.5L1347.8 392.5L1346.7 389.4L1345.5 389.4L1344.3 386.3L1343.1 386.3L1342 383.3L1340.9 383.3L1339.9 380.2L1338.9 377.1L1337.8 377.1L1336.6 374.1L1335.5 374.1L1334.2 371L1333 371L1331.7 367.9L1330.6 367.9L1329.4 364.9L1328.2 364.9L1326.9 361.8L1325.5 358.7L1324.2 358.7L1322.9 355.7L1321.6 355.7L1320.4 352.6L1319.3 352.6L1318.1 349.5L1316.9 349.5L1315.6 346.5L1314.3 346.5L1312.9 343.4L1311.6 343.4L1310.2 340.3L1308.8 340.3L1307.4 337.3L1305.8 337.3L1304.3 334.2L1302.8 334.2L1301.3 331.1L1299.8 331.1L1298.4 328.1L1295.5 328.1L1293.9 325L1292.3 325L1290.6 321.9L1289 321.9L1287.3 318.9L1284.1 318.9L1282.4 315.8L1280.7 315.8L1278.9 312.7L1275.4 312.7L1273.7 309.7L1270.3 309.7L1268.6 306.6L1265.1 306.6L1263.3 303.5L1257.8 303.5L1255.9 300.4L1252.2 300.4L1250.4 297.4L1244.7 297.4L1242.8 294.3L1235.1 294.3L1233.1 291.2L1227.1 291.2L1225.2 288.2L1217.6 288.2L1215.7 285.1L1208.1 285.1L1206.2 282L1198.5 282L1196.6 279L1186.8 279L1184.8 275.9L1175 275.9L1173 272.8L1159.2 272.8L1157.3 269.8L1139.6 269.8L1137.6 266.7L1117.6 266.7L1115.6 263.6L1093.6 263.6L1091.6 260.6L1071.9 260.6L1070 257.5L1050.2 257.5L1048.2 254.4L1024.1 254.4L1022.1 251.4L992.6 251.4L990.6 248.3L956.3 248.3L954.3 245.2L918.1 245.2L916.1 242.2L880.4 242.2L878.4 239.1L837.5 239.1L835.4 236L790.3 236L788.3 233L730.7 233L728.7 229.9L665.7 229.9L663.7 226.8L603.1 226.8L601.1 223.8L542.7 223.8L540.7 220.7L480.4 220.7L478.4 217.6L418.2 217.6L416.2 214.6L352 214.6L349.9 211.5L286 211.5L284 208.4L264 208.4L264 203.4ZM1468.5 901.6L1473.5 901.6L1473.5 904.6L1473.4 907.7L1473.6 907.7L1473.6 902.7L1468.6 902.7L1468.4 902.7L1468.5 899.6L1468.5 896.6ZM1473.6 902.7L1473.9 905.8L1474.4 908.8L1475 908.8L1475.6 911.9L1476 915L1476.2 915L1476.2 918.1L1476.2 918.1L1476.2 923.1L1471.2 923.1L1471.2 923.1L1471.2 920L1471 920L1470.6 916.9L1470 913.8L1469.4 913.8L1468.9 910.8L1468.6 907.7L1468.6 902.7ZM1476.2 918.1L1476.2 923.1L1476.2 926.1L1471.2 926.1L1471.2 921.1L1471.2 918.1ZM1476.2 921.1L1476.2 924.2L1476.4 924.2L1476.6 927.3L1476.8 930.3L1477 930.3L1477.1 933.4L1477.3 936.5L1477.6 936.5L1478 939.5L1478.3 942.6L1478.7 942.6L1478.9 945.7L1479 948.7L1479 948.7L1479 953.7L1474 953.7L1474 953.7L1473.9 950.7L1473.7 947.6L1473.3 947.6L1473 944.5L1472.6 941.5L1472.3 941.5L1472.1 938.4L1472 935.3L1471.8 935.3L1471.6 932.3L1471.4 929.2L1471.2 929.2L1471.2 926.1L1471.2 921.1ZM1479 948.7L1479 953.7L1479 956.8L1474 956.8L1474 951.8L1474 948.7ZM1479 951.8L1479 954.9L1479.2 954.9L1479.6 957.9L1480 961L1480.3 961L1480.6 964.1L1480.6 964.1L1480.6 969.1L1475.6 969.1L1475.6 969.1L1475.3 966L1475 966L1474.6 962.9L1474.2 959.9L1474 959.9L1474 956.8L1474 951.8ZM1475.6 969.1L1480.6 969.1L1480.6 972.1L1480.6 975.2L1480.7 975.2L1480.7 970.2L1475.7 970.2L1475.6 970.2L1475.6 967.1L1475.6 964.1ZM1480.7 970.2L1481 973.3L1481.4 976.3L1481.8 976.3L1482.2 979.4L1482.4 982.5L1482.4 982.5L1482.4 987.5L1477.4 987.5L1477.4 987.5L1477.2 984.4L1476.8 981.3L1476.4 981.3L1476 978.3L1475.7 975.2L1475.7 970.2ZM1482.4 982.5L1482.4 987.5L1482.4 990.5L1477.4 990.5L1477.4 985.5L1477.4 982.5ZM1482.4 985.5L1482.4 988.6L1482.5 988.6L1482.7 991.7L1482.9 994.7L1483.2 994.7L1483.3 997.8L1483.5 1000.9L1483.7 1000.9L1483.9 1003.9L1484.3 1007L1484.8 1007L1485.2 1010.1L1485.5 1010.1L1485.6 1013.1L1485.6 1018.1L1480.6 1018.1L1480.5 1015.1L1480.2 1015.1L1479.8 1012L1479.3 1012L1478.9 1008.9L1478.7 1005.9L1478.5 1005.9L1478.3 1002.8L1478.2 999.7L1477.9 999.7L1477.7 996.7L1477.5 993.6L1477.4 993.6L1477.4 990.5L1477.4 985.5ZM1485.6 1013.1L1485.6 1018.1L1485.5 1021.2L1485.4 1021.2L1485.2 1024.3L1485.2 1027.3L1485.4 1027.3L1480.4 1027.3L1480.4 1022.3L1480.2 1022.3L1480.2 1019.3L1480.4 1016.2L1480.5 1016.2L1480.6 1013.1ZM1485.4 1022.3L1485.8 1025.4L1486.2 1028.5L1486.6 1028.5L1486.9 1031.5L1487.1 1034.6L1487.3 1034.6L1487.4 1037.7L1487.7 1040.7L1488 1040.7L1488.3 1043.8L1488.5 1046.9L1488.7 1046.9L1488.7 1049.9L1488.7 1054.9L1483.7 1054.9L1483.7 1051.9L1483.5 1051.9L1483.3 1048.8L1483 1045.7L1482.7 1045.7L1482.4 1042.7L1482.3 1039.6L1482.1 1039.6L1481.9 1036.5L1481.6 1033.5L1481.2 1033.5L1480.8 1030.4L1480.4 1027.3L1480.4 1022.3ZM1483.7 1049.9L1483.7 1053L1483.7 1053L1488.7 1053L1488.7 1058L1488.7 1058L1488.7 1054.9L1483.7 1054.9ZM1488.7 1053L1488.9 1056.1L1489.2 1059.1L1489.5 1059.1L1489.8 1062.2L1490 1065.3L1490.1 1065.3L1490.2 1068.3L1490.3 1071.4L1490.5 1071.4L1490.8 1074.5L1491.2 1077.5L1491.6 1077.5L1491.8 1080.6L1491.9 1083.7L1491.9 1083.7L1491.9 1086.7L1492 1089.8L1492.3 1089.8L1492.6 1092.9L1492.9 1095.9L1493.2 1095.9L1493.3 1099L1493.3 1102.1L1493.4 1102.1L1493.5 1105.1L1493.8 1108.2L1494.1 1108.2L1494.4 1111.3L1494.6 1114.3L1494.8 1114.3L1494.9 1117.4L1495 1120.5L1495.2 1120.5L1495.5 1123.5L1495.8 1126.6L1496.1 1126.6L1496.4 1129.7L1496.5 1132.7L1496.6 1132.7L1496.6 1135.8L1496.8 1138.9L1497 1138.9L1497.2 1141.9L1497.5 1145L1497.8 1145L1498 1148.1L1498.1 1151.1L1498.2 1151.1L1498.4 1154.2L1498.7 1154.2L1499 1157.3L1499.4 1160.3L1499.7 1160.3L1499.9 1163.4L1500.1 1166.5L1500.2 1166.5L1500.3 1169.5L1500.5 1169.5L1500.7 1172.6L1501 1175.7L1501.3 1175.7L1501.6 1178.7L1501.9 1178.7L1502.2 1181.8L1502.4 1184.9L1502.7 1184.9L1502.9 1187.9L1503.2 1191L1503.5 1191L1503.7 1194.1L1503.9 1197.1L1504.2 1197.1L1504.4 1200.2L1504.8 1203.3L1505.3 1203.3L1505.9 1206.3L1506.5 1209.4L1507.1 1209.4L1507.5 1212.5L1507.8 1215.5L1508.1 1215.5L1508.3 1218.6L1508.6 1221.7L1508.9 1221.7L1509.2 1224.8L1509.6 1227.8L1510 1227.8L1510.4 1230.9L1510.8 1234L1511.3 1234L1511.8 1237L1512.3 1240.1L1512.8 1240.1L1513.3 1243.2L1513.6 1243.2L1514 1246.2L1514.3 1249.3L1514.7 1249.3L1515.2 1252.4L1515.6 1255.4L1516 1255.4L1516.4 1258.5L1516.6 1258.5L1516.9 1261.6L1517 1264.6L1517.3 1264.6L1517.6 1267.7L1518.2 1270.8L1518.8 1273.8L1519.4 1273.8L1520 1276.9L1520.5 1280L1520.9 1280L1521.2 1283L1521.6 1286.1L1521.9 1286.1L1522.1 1289.2L1522.4 1289.2L1522.6 1292.2L1522.9 1295.3L1523.2 1295.3L1523.6 1298.4L1524.3 1298.4L1525 1301.4L1525.8 1304.5L1526.4 1307.6L1526.8 1307.6L1527.3 1310.6L1527.9 1310.6L1529 1313.7L1529 1318.7L1524 1318.7L1522.9 1315.6L1522.3 1315.6L1521.8 1312.6L1521.4 1312.6L1520.8 1309.5L1520 1306.4L1519.3 1303.4L1518.6 1303.4L1518.2 1300.3L1517.9 1300.3L1517.6 1297.2L1517.4 1294.2L1517.1 1294.2L1516.9 1291.1L1516.6 1291.1L1516.2 1288L1515.9 1285L1515.5 1285L1515 1281.9L1514.4 1278.8L1513.8 1278.8L1513.2 1275.8L1512.6 1272.7L1512.3 1269.6L1512 1269.6L1511.9 1266.6L1511.6 1263.5L1511.4 1263.5L1511 1260.4L1510.6 1260.4L1510.2 1257.4L1509.7 1254.3L1509.3 1254.3L1509 1251.2L1508.6 1248.2L1508.3 1248.2L1507.8 1245.1L1507.3 1245.1L1506.8 1242L1506.3 1239L1505.8 1239L1505.4 1235.9L1505 1232.8L1504.6 1232.8L1504.2 1229.8L1503.9 1226.7L1503.6 1226.7L1503.3 1223.6L1503.1 1220.5L1502.8 1220.5L1502.5 1217.5L1502.1 1214.4L1501.5 1214.4L1500.9 1211.3L1500.3 1208.3L1499.8 1208.3L1499.4 1205.2L1499.2 1202.1L1498.9 1202.1L1498.7 1199.1L1498.5 1196L1498.2 1196L1497.9 1192.9L1497.7 1189.9L1497.4 1189.9L1497.2 1186.8L1496.9 1183.7L1496.6 1183.7L1496.3 1180.7L1496 1180.7L1495.7 1177.6L1495.5 1174.5L1495.3 1174.5L1495.2 1171.5L1495.1 1171.5L1494.9 1168.4L1494.7 1165.3L1494.4 1165.3L1494 1162.3L1493.7 1159.2L1493.4 1159.2L1493.2 1156.1L1493.1 1156.1L1493 1153.1L1492.8 1150L1492.5 1150L1492.2 1146.9L1492 1143.9L1491.8 1143.9L1491.6 1140.8L1491.6 1137.7L1491.5 1137.7L1491.4 1134.7L1491.1 1131.6L1490.8 1131.6L1490.5 1128.5L1490.2 1125.5L1490 1125.5L1489.9 1122.4L1489.8 1119.3L1489.6 1119.3L1489.4 1116.3L1489.1 1113.2L1488.8 1113.2L1488.5 1110.1L1488.4 1107.1L1488.3 1107.1L1488.3 1104L1488.2 1100.9L1487.9 1100.9L1487.6 1097.9L1487.3 1094.8L1487 1094.8L1486.9 1091.7L1486.9 1088.7L1486.9 1088.7L1486.8 1085.6L1486.6 1082.5L1486.2 1082.5L1485.8 1079.5L1485.5 1076.4L1485.3 1076.4L1485.2 1073.3L1485.1 1070.3L1485 1070.3L1484.8 1067.2L1484.5 1064.1L1484.2 1064.1L1483.9 1061.1L1483.7 1058L1483.7 1053ZM1524 1313.7L1525.4 1310.6L1527.9 1310.6L1529.1 1307.6L1530.3 1304.5L1531.5 1304.5L1532.4 1301.4L1533.1 1298.4L1533.5 1298.4L1533.9 1295.3L1534.3 1295.3L1534.7 1292.2L1535.1 1292.2L1535.4 1289.2L1535.7 1286.1L1535.8 1286.1L1536 1283L1536.2 1280L1536.5 1280L1536.9 1276.9L1537.2 1273.8L1537.4 1270.8L1537.5 1270.8L1537.6 1267.7L1537.7 1264.6L1538 1264.6L1538.5 1261.6L1539.1 1258.5L1539.7 1258.5L1540.1 1255.4L1540.3 1252.4L1540.4 1252.4L1545.4 1252.4L1545.4 1257.4L1545.3 1257.4L1545.1 1260.4L1544.7 1263.5L1544.1 1263.5L1543.5 1266.6L1543 1269.6L1542.7 1269.6L1542.6 1272.7L1542.5 1275.8L1542.4 1275.8L1542.2 1278.8L1541.9 1281.9L1541.5 1285L1541.2 1285L1541 1288L1540.8 1291.1L1540.7 1291.1L1540.4 1294.2L1540.1 1297.2L1539.7 1297.2L1539.3 1300.3L1538.9 1300.3L1538.5 1303.4L1538.1 1303.4L1537.4 1306.4L1536.5 1309.5L1535.3 1309.5L1534.1 1312.6L1532.9 1315.6L1530.4 1315.6L1529 1318.7L1524 1318.7ZM1540.4 1252.4L1540.4 1257.4L1540.3 1254.3L1540.3 1251.2L1540.4 1251.2L1545.4 1251.2L1545.4 1246.2L1545.3 1246.2L1545.3 1249.3L1545.4 1252.4ZM1540.4 1246.2L1540.7 1243.2L1541 1240.1L1541.4 1240.1L1541.6 1237L1541.9 1234L1542.1 1234L1542.4 1230.9L1542.7 1227.8L1543.1 1227.8L1543.5 1224.8L1543.7 1221.7L1543.8 1221.7L1543.8 1218.6L1543.9 1215.5L1544 1215.5L1544.3 1212.5L1544.7 1209.4L1545.2 1209.4L1545.6 1206.3L1545.8 1203.3L1545.8 1203.3L1550.8 1203.3L1550.8 1208.3L1550.8 1208.3L1550.6 1211.3L1550.2 1214.4L1549.7 1214.4L1549.3 1217.5L1549 1220.5L1548.9 1220.5L1548.8 1223.6L1548.8 1226.7L1548.7 1226.7L1548.5 1229.8L1548.1 1232.8L1547.7 1232.8L1547.4 1235.9L1547.1 1239L1546.9 1239L1546.6 1242L1546.4 1245.1L1546 1245.1L1545.7 1248.2L1545.4 1251.2L1540.4 1251.2ZM1550.8 1208.3L1545.8 1208.3L1545.7 1205.2L1545.6 1202.1L1545.7 1202.1L1545.7 1197.1L1550.7 1197.1L1550.6 1197.1L1550.7 1200.2L1550.8 1203.3ZM1545.7 1197.1L1545.9 1194.1L1546.3 1191L1546.7 1191L1547 1187.9L1547.2 1184.9L1547.3 1184.9L1547.5 1181.8L1547.6 1178.7L1547.9 1178.7L1548.3 1175.7L1548.6 1175.7L1548.8 1172.6L1548.9 1169.5L1548.9 1169.5L1548.9 1166.5L1549 1163.4L1549.2 1163.4L1549.6 1160.3L1550 1157.3L1550.3 1157.3L1550.6 1154.2L1550.7 1151.1L1550.8 1151.1L1550.9 1148.1L1551.2 1145L1551.6 1145L1552 1141.9L1552.4 1138.9L1552.7 1138.9L1552.8 1135.8L1552.9 1132.7L1552.9 1132.7L1553.1 1129.7L1553.3 1129.7L1553.7 1126.6L1554.1 1123.5L1554.4 1123.5L1554.6 1120.5L1554.8 1117.4L1554.9 1117.4L1555.1 1114.3L1555.4 1111.3L1555.7 1111.3L1555.9 1108.2L1556.1 1105.1L1556.2 1105.1L1556.3 1102.1L1556.3 1099L1556.4 1099L1556.6 1095.9L1556.9 1092.9L1557.2 1092.9L1557.6 1089.8L1557.9 1089.8L1558.1 1086.7L1558.2 1083.7L1558.3 1083.7L1558.4 1080.6L1558.5 1077.5L1558.7 1077.5L1558.9 1074.5L1559 1071.4L1559 1071.4L1564 1071.4L1564 1076.4L1564 1076.4L1563.9 1079.5L1563.7 1082.5L1563.5 1082.5L1563.4 1085.6L1563.3 1088.7L1563.2 1088.7L1563.1 1091.7L1562.9 1094.8L1562.6 1094.8L1562.2 1097.9L1561.9 1097.9L1561.6 1100.9L1561.4 1104L1561.3 1104L1561.3 1107.1L1561.2 1110.1L1561.1 1110.1L1560.9 1113.2L1560.7 1116.3L1560.4 1116.3L1560.1 1119.3L1559.9 1122.4L1559.8 1122.4L1559.6 1125.5L1559.4 1128.5L1559.1 1128.5L1558.7 1131.6L1558.3 1134.7L1558.1 1134.7L1557.9 1137.7L1557.9 1137.7L1557.8 1140.8L1557.7 1143.9L1557.4 1143.9L1557 1146.9L1556.6 1150L1556.2 1150L1555.9 1153.1L1555.8 1156.1L1555.7 1156.1L1555.6 1159.2L1555.3 1162.3L1555 1162.3L1554.6 1165.3L1554.2 1168.4L1554 1168.4L1553.9 1171.5L1553.9 1174.5L1553.9 1174.5L1553.8 1177.6L1553.6 1180.7L1553.3 1180.7L1552.9 1183.7L1552.6 1183.7L1552.5 1186.8L1552.3 1189.9L1552.2 1189.9L1552 1192.9L1551.7 1196L1551.3 1196L1550.9 1199.1L1550.7 1202.1L1545.7 1202.1ZM1559 1071.4L1559 1076.4L1559 1073.3L1559 1070.3L1559.1 1070.3L1564.1 1070.3L1564.1 1065.3L1564 1065.3L1564 1068.3L1564 1071.4ZM1559.1 1065.3L1559.3 1062.2L1559.7 1059.1L1560.1 1059.1L1560.6 1056.1L1560.9 1053L1561.1 1053L1561.3 1049.9L1561.3 1046.9L1561.4 1046.9L1561.4 1043.8L1561.5 1040.7L1561.6 1040.7L1561.6 1037.7L1561.7 1034.6L1561.8 1034.6L1562 1031.5L1562.2 1031.5L1562.5 1028.5L1562.9 1025.4L1563.2 1025.4L1563.4 1022.3L1563.6 1022.3L1563.6 1019.3L1563.7 1016.2L1563.8 1016.2L1563.9 1013.1L1564.1 1010.1L1564.3 1010.1L1564.5 1007L1564.6 1007L1564.7 1003.9L1564.8 1000.9L1564.8 1000.9L1564.9 997.8L1565.1 994.7L1565.3 994.7L1565.6 991.7L1565.8 988.6L1566 988.6L1566.1 985.5L1566.3 982.5L1566.5 982.5L1566.7 979.4L1566.9 976.3L1567 976.3L1567 973.3L1567 970.2L1567 970.2L1567.2 967.1L1567.4 964.1L1567.8 964.1L1568.2 961L1568.5 957.9L1568.8 957.9L1568.9 954.9L1573.9 954.9L1573.9 959.9L1573.8 962.9L1573.5 962.9L1573.2 966L1572.8 969.1L1572.4 969.1L1572.2 972.1L1572 975.2L1572 975.2L1572 978.3L1572 981.3L1571.9 981.3L1571.7 984.4L1571.5 987.5L1571.3 987.5L1571.1 990.5L1571 993.6L1570.8 993.6L1570.6 996.7L1570.3 999.7L1570.1 999.7L1569.9 1002.8L1569.8 1005.9L1569.8 1005.9L1569.7 1008.9L1569.6 1012L1569.5 1012L1569.3 1015.1L1569.1 1015.1L1568.9 1018.1L1568.8 1021.2L1568.7 1021.2L1568.6 1024.3L1568.6 1027.3L1568.4 1027.3L1568.2 1030.4L1567.9 1030.4L1567.5 1033.5L1567.2 1036.5L1567 1036.5L1566.8 1039.6L1566.7 1039.6L1566.6 1042.7L1566.6 1045.7L1566.5 1045.7L1566.4 1048.8L1566.4 1051.9L1566.3 1051.9L1566.3 1054.9L1566.1 1058L1565.9 1058L1565.6 1061.1L1565.1 1064.1L1564.7 1064.1L1564.3 1067.2L1564.1 1070.3L1559.1 1070.3ZM1573.9 959.9L1568.9 959.9L1568.9 956.8L1568.8 956.8L1568.8 953.7L1568.8 948.7L1573.8 948.7L1573.8 951.8L1573.9 951.8L1573.9 954.9ZM1568.8 948.7L1568.9 945.7L1569 945.7L1569.2 942.6L1569.4 939.5L1569.6 939.5L1569.9 936.5L1570.2 933.4L1570.5 933.4L1570.8 930.3L1571.1 927.3L1571.2 927.3L1571.2 924.2L1576.2 924.2L1576.2 929.2L1576.2 932.3L1576.1 932.3L1575.8 935.3L1575.5 938.4L1575.2 938.4L1574.9 941.5L1574.6 944.5L1574.4 944.5L1574.2 947.6L1574 950.7L1573.9 950.7L1573.8 953.7L1568.8 953.7ZM1576.2 929.2L1571.2 929.2L1571.1 926.1L1571.1 926.1L1571.1 921.1L1576.1 921.1L1576.1 921.1L1576.2 924.2ZM1571.1 921.1L1571.2 918.1L1571.4 915L1571.8 915L1572.2 911.9L1572.5 908.8L1572.6 908.8L1572.7 905.8L1577.7 905.8L1577.7 910.8L1577.6 913.8L1577.5 913.8L1577.2 916.9L1576.8 920L1576.4 920L1576.2 923.1L1576.1 926.1L1571.1 926.1ZM1577.7 910.8L1572.7 910.8L1572.7 907.7L1572.7 907.7L1572.7 902.7L1577.7 902.7L1577.7 902.7L1577.7 905.8ZM1572.7 902.7L1572.8 899.6L1573 896.6L1573.3 896.6L1573.6 893.5L1573.9 890.4L1574.2 890.4L1574.4 887.4L1574.5 884.3L1574.7 884.3L1575 881.2L1575.2 878.2L1575.3 878.2L1575.4 875.1L1575.4 872L1575.4 872L1575.5 869L1575.8 865.9L1576.1 865.9L1576.6 862.8L1576.9 859.8L1577.1 859.8L1577.2 856.7L1582.2 856.7L1582.2 861.7L1582.1 864.8L1581.9 864.8L1581.6 867.8L1581.1 870.9L1580.8 870.9L1580.5 874L1580.4 877L1580.4 877L1580.4 880.1L1580.3 883.2L1580.2 883.2L1580 886.2L1579.7 889.3L1579.5 889.3L1579.4 892.4L1579.2 895.4L1578.9 895.4L1578.6 898.5L1578.3 901.6L1578 901.6L1577.8 904.6L1577.7 907.7L1572.7 907.7ZM1582.2 861.7L1577.2 861.7L1577.2 858.6L1577.2 858.6L1577.2 853.6L1582.2 853.6L1582.2 853.6L1582.2 856.7ZM1577.2 853.6L1577.3 850.6L1577.7 847.5L1578.2 847.5L1578.6 844.4L1579 841.4L1579.1 838.3L1579.2 838.3L1584.2 838.3L1584.2 843.3L1584.1 843.3L1584 846.4L1583.6 849.4L1583.2 852.5L1582.7 852.5L1582.3 855.6L1582.2 858.6L1577.2 858.6ZM1584.2 843.3L1579.2 843.3L1579.1 840.2L1579.1 835.2L1584.1 835.2L1584.2 838.3ZM1579.1 835.2L1579.2 832.2L1579.3 832.2L1579.5 829.1L1579.7 826L1579.9 826L1580.1 823L1580.3 819.9L1580.5 819.9L1581 816.8L1581.5 813.8L1581.9 810.7L1582.2 810.7L1582.3 807.6L1587.3 807.6L1587.3 812.6L1587.2 815.7L1586.9 815.7L1586.5 818.8L1586 821.8L1585.5 824.9L1585.3 824.9L1585.1 828L1584.9 831L1584.7 831L1584.5 834.1L1584.3 837.2L1584.2 837.2L1584.1 840.2L1579.1 840.2ZM1587.3 812.6L1582.3 812.6L1582.3 809.6L1582.1 809.6L1582.1 806.5L1582.1 801.5L1587.1 801.5L1587.1 804.6L1587.3 804.6L1587.3 807.6ZM1582.1 801.5L1582.2 798.4L1582.6 798.4L1583 795.4L1583.5 792.3L1583.8 792.3L1584 789.2L1584.1 786.2L1584.2 786.2L1584.3 783.1L1584.6 780L1585 780L1585.3 777L1585.5 773.9L1585.6 773.9L1585.7 770.8L1585.8 770.8L1585.9 767.8L1586.2 764.7L1586.5 764.7L1586.9 761.6L1587.3 761.6L1587.5 758.6L1587.7 755.5L1587.8 755.5L1588 752.4L1588.1 752.4L1588.4 749.4L1588.8 746.3L1589.1 746.3L1589.4 743.2L1589.6 743.2L1589.7 740.2L1589.7 740.2L1594.7 740.2L1594.7 745.2L1594.7 745.2L1594.6 748.2L1594.4 748.2L1594.1 751.3L1593.8 751.3L1593.4 754.4L1593.1 757.4L1593 757.4L1592.8 760.5L1592.7 760.5L1592.5 763.6L1592.3 766.6L1591.9 766.6L1591.5 769.7L1591.2 769.7L1590.9 772.8L1590.8 775.8L1590.7 775.8L1590.6 778.9L1590.5 778.9L1590.3 782L1590 785L1589.6 785L1589.3 788.1L1589.2 791.2L1589.1 791.2L1589 794.2L1588.8 797.3L1588.5 797.3L1588 800.4L1587.6 803.4L1587.2 803.4L1587.1 806.5L1582.1 806.5ZM1594.7 745.2L1589.7 745.2L1589.7 742.1L1589.7 737.1L1594.7 737.1L1594.7 740.2ZM1589.7 737.1L1589.8 734L1590.1 734L1590.5 731L1591.1 727.9L1591.7 727.9L1592.2 724.8L1592.5 721.8L1592.8 721.8L1593 718.7L1593.3 718.7L1593.7 715.6L1594 712.6L1594.4 712.6L1594.6 709.5L1594.8 706.4L1594.9 706.4L1595 703.4L1595.2 700.3L1595.6 700.3L1596.2 697.2L1596.7 694.2L1597.2 694.2L1597.7 691.1L1598 691.1L1598.2 688L1598.4 685L1598.7 685L1599 681.9L1599.4 681.9L1599.7 678.8L1600 675.8L1600.1 675.8L1600.2 672.7L1600.4 669.6L1600.6 669.6L1601 666.6L1601.5 663.5L1602 663.5L1602.5 660.4L1602.8 657.4L1603.1 657.4L1603.3 654.3L1603.5 651.2L1603.8 651.2L1604.2 648.2L1604.6 645.1L1605 645.1L1605.4 642L1605.7 639L1606 639L1606.4 635.9L1606.8 632.8L1607.3 632.8L1607.7 629.8L1608.1 626.7L1608.4 626.7L1608.7 623.6L1609.1 620.6L1609.5 620.6L1610 617.5L1610.5 614.4L1611.1 614.4L1611.7 611.4L1612.2 608.3L1612.6 608.3L1613 605.2L1613.5 602.1L1614.2 602.1L1614.9 599.1L1615.6 596L1616.3 592.9L1616.9 592.9L1617.5 589.9L1618.1 586.8L1618.6 586.8L1619.2 583.7L1619.9 580.7L1620.5 580.7L1621.1 577.6L1621.8 574.5L1622.6 574.5L1623.4 571.5L1624.3 568.4L1625.1 568.4L1625.9 565.3L1626.5 562.3L1627.1 562.3L1627.7 559.2L1628.4 559.2L1629.1 556.1L1629.8 556.1L1630.7 553.1L1631.5 553.1L1632.4 550L1633.2 550L1633.9 546.9L1635.1 546.9L1636.2 543.9L1637.4 540.8L1638.6 540.8L1639.8 537.7L1641.1 537.7L1642.2 534.7L1643.3 534.7L1644.6 531.6L1645.9 531.6L1647.3 528.5L1648.7 525.5L1650.1 525.5L1651.3 522.4L1652.4 519.3L1654.7 519.3L1656.6 516.3L1660.7 516.3L1662.8 513.2L1666.8 513.2L1668.8 510.1L1674.8 510.1L1676.8 507.1L1684.8 507.1L1686.8 504L1700.8 504L1702.8 500.9L1728.8 500.9L1730.8 497.9L2030.8 497.9L2035.8 497.9L2035.8 502.9L1735.8 502.9L1733.8 505.9L1707.8 505.9L1705.8 509L1691.8 509L1689.8 512.1L1681.8 512.1L1679.8 515.1L1673.8 515.1L1671.8 518.2L1667.8 518.2L1665.7 521.3L1661.6 521.3L1659.7 524.3L1657.4 524.3L1656.3 527.4L1655.1 530.5L1653.7 530.5L1652.3 533.5L1650.9 536.6L1649.6 536.6L1648.3 539.7L1647.2 539.7L1646.1 542.7L1644.8 542.7L1643.6 545.8L1642.4 545.8L1641.2 548.9L1640.1 551.9L1638.9 551.9L1638.2 555L1637.4 555L1636.5 558.1L1635.7 558.1L1634.8 561.1L1634.1 561.1L1633.4 564.2L1632.7 564.2L1632.1 567.3L1631.5 567.3L1630.9 570.3L1630.1 573.4L1629.3 573.4L1628.4 576.5L1627.6 579.5L1626.8 579.5L1626.1 582.6L1625.5 585.7L1624.9 585.7L1624.2 588.7L1623.6 591.8L1623.1 591.8L1622.5 594.9L1621.9 597.9L1621.3 597.9L1620.6 601L1619.9 604.1L1619.2 607.1L1618.5 607.1L1618 610.2L1617.6 613.3L1617.2 613.3L1616.7 616.4L1616.1 619.4L1615.5 619.4L1615 622.5L1614.5 625.6L1614.1 625.6L1613.7 628.6L1613.4 631.7L1613.1 631.7L1612.7 634.8L1612.3 637.8L1611.8 637.8L1611.4 640.9L1611 644L1610.7 644L1610.4 647L1610 650.1L1609.6 650.1L1609.2 653.2L1608.8 656.2L1608.5 656.2L1608.3 659.3L1608.1 662.4L1607.8 662.4L1607.5 665.4L1607 668.5L1606.5 668.5L1606 671.6L1605.6 674.6L1605.4 674.6L1605.2 677.7L1605.1 680.8L1605 680.8L1604.7 683.8L1604.4 686.9L1604 686.9L1603.7 690L1603.4 690L1603.2 693L1603 696.1L1602.7 696.1L1602.2 699.2L1601.7 699.2L1601.2 702.2L1600.6 705.3L1600.2 705.3L1600 708.4L1599.9 711.4L1599.8 711.4L1599.6 714.5L1599.4 717.6L1599 717.6L1598.7 720.6L1598.3 723.7L1598 723.7L1597.8 726.8L1597.5 726.8L1597.2 729.8L1596.7 732.9L1596.1 732.9L1595.5 736L1595.1 739L1594.8 739L1594.7 742.1L1589.7 742.1ZM2035.8 497.9L2037.8 500.9L2181.8 500.9L2183.8 504L2315.8 504L2317.8 507.1L2397 507.1L2397 512.1L2392 512.1L2312.8 512.1L2310.8 509L2178.8 509L2176.8 505.9L2032.8 505.9L2030.8 502.9L2030.8 497.9Z"/>
<path d="M269 200.4L306.9 200.4L308.9 203.4L373 203.4L375 206.5L437.3 206.5L439.3 209.6L499.5 209.6L501.5 212.6L559.8 212.6L561.8 215.7L622.2 215.7L624.2 218.8L687 218.8L689 221.8L749.8 221.8L751.8 224.9L807.1 224.9L809.2 228L852.8 228L854.8 231L893.4 231L895.4 234.1L930.9 234.1L932.8 237.2L969.5 237.2L971.5 240.2L1005.6 240.2L1007.5 243.3L1033 243.3L1035.1 246.4L1053.2 246.4L1055.2 249.4L1071 249.4L1072.9 252.5L1086.7 252.5L1088.7 255.6L1106.6 255.6L1108.6 258.6L1133.2 258.6L1135.3 261.7L1157.7 261.7L1159.8 264.8L1177.8 264.8L1179.8 267.8L1191.7 267.8L1193.7 270.9L1203.6 270.9L1205.5 274L1215.2 274L1217.1 277L1224.9 277L1226.8 280.1L1236.4 280.1L1238.4 283.2L1246.1 283.2L1248.1 286.2L1254 286.2L1256 289.3L1263.8 289.3L1265.7 292.4L1271.2 292.4L1273 295.4L1278.4 295.4L1280.2 298.5L1285.5 298.5L1287.3 301.6L1290.9 301.6L1292.6 304.7L1294.3 304.7L1296 307.7L1299.4 307.7L1301.1 310.8L1304.3 310.8L1305.9 313.9L1307.4 313.9L1309 316.9L1310.7 316.9L1312.4 320L1314 320L1315.5 323.1L1318.3 323.1L1319.8 326.1L1321.2 326.1L1322.7 329.2L1324.2 329.2L1325.6 332.3L1327 332.3L1328.3 335.3L1329.7 335.3L1331.1 338.4L1332.5 338.4L1333.8 341.5L1335.1 341.5L1336.3 344.5L1337.5 344.5L1338.7 347.6L1339.9 347.6L1341.1 350.7L1342.3 350.7L1343.4 353.7L1344.5 353.7L1345.6 356.8L1346.9 356.8L1348.2 359.9L1349.5 359.9L1350.7 362.9L1352 366L1353.1 366L1354.3 369.1L1355.5 369.1L1356.7 372.1L1358 372.1L1359.2 375.2L1360.3 375.2L1361.3 378.3L1362.3 381.3L1363.2 381.3L1364.3 384.4L1365.4 384.4L1366.5 387.5L1367.6 387.5L1368.5 390.5L1369.5 393.6L1370.5 393.6L1371.6 396.7L1372.6 396.7L1373.6 399.7L1374.6 402.8L1375.5 402.8L1376.4 405.9L1377.3 405.9L1378.3 408.9L1379.2 412L1380.1 412L1380.8 415.1L1381.4 415.1L1382.2 418.1L1382.9 421.2L1383.8 421.2L1384.7 424.3L1385.5 424.3L1386.3 427.3L1387 430.4L1387.7 430.4L1388.6 433.5L1389.5 433.5L1390.5 436.5L1391.5 439.6L1392.3 439.6L1393 442.7L1393.7 442.7L1394.4 445.7L1395.1 448.8L1395.9 448.8L1396.6 451.9L1397.3 454.9L1398 454.9L1398.8 458L1399.6 461.1L1400.5 461.1L1401.3 464.1L1402 464.1L1402.6 467.2L1403.1 470.3L1403.7 470.3L1404.4 473.3L1405.2 473.3L1405.9 476.4L1406.5 479.5L1407.1 479.5L1407.7 482.5L1408.2 482.5L1408.9 485.6L1409.8 488.7L1410.7 488.7L1411.5 491.7L1412.3 491.7L1412.9 494.8L1413.4 497.9L1413.9 497.9L1414.5 500.9L1415.1 504L1415.7 504L1416.3 507.1L1416.8 510.1L1417.3 510.1L1417.9 513.2L1418.6 513.2L1419.4 516.3L1420.2 519.3L1420.9 519.3L1421.6 522.4L1422.3 525.5L1423 525.5L1423.8 528.5L1424.4 531.6L1424.9 531.6L1425.3 534.7L1425.6 534.7L1425.9 537.7L1426.4 540.8L1426.9 540.8L1427.5 543.9L1428.1 546.9L1428.7 546.9L1429.1 550L1429.6 550L1430.2 553.1L1430.9 556.1L1431.6 556.1L1432.3 559.2L1432.8 562.3L1433.2 562.3L1433.6 565.3L1434 568.4L1434.4 568.4L1435 571.5L1435.5 574.5L1436 574.5L1436.5 577.6L1436.9 580.7L1437.4 580.7L1437.9 583.7L1438.4 586.8L1438.8 586.8L1439.2 589.9L1439.5 589.9L1439.8 592.9L1440.2 596L1440.7 596L1441.2 599.1L1441.7 602.1L1442.1 602.1L1442.5 605.2L1442.9 608.3L1443.4 608.3L1444 611.4L1444.6 614.4L1445.2 614.4L1445.5 617.5L1445.7 620.6L1445.9 620.6L1446.1 623.6L1446.3 626.7L1446.7 626.7L1447 629.8L1447.3 632.8L1447.6 632.8L1447.8 635.9L1448.2 639L1448.6 639L1449.1 642L1449.6 645.1L1450 645.1L1450.4 648.2L1450.8 651.2L1451.1 651.2L1451.5 654.3L1451.9 657.4L1452.1 657.4L1452.3 660.4L1452.4 663.5L1452.6 663.5L1452.9 666.6L1453.3 669.6L1453.7 669.6L1454 672.7L1454.2 675.8L1454.4 675.8L1454.6 678.8L1454.9 681.9L1455.4 681.9L1455.9 685L1456.3 685L1456.7 688L1456.9 691.1L1457.1 691.1L1457.4 694.2L1457.7 694.2L1458 697.2L1458.4 700.3L1458.7 700.3L1459 703.4L1459.2 706.4L1459.5 706.4L1459.8 709.5L1460.1 712.6L1460.5 712.6L1460.8 715.6L1461.1 718.7L1461.4 718.7L1461.8 721.8L1462.2 721.8L1462.7 724.8L1463.1 727.9L1463.5 727.9L1463.6 731L1463.8 734L1464 734L1464.3 737.1L1464.7 740.2L1465 740.2L1465.3 743.2L1465.5 743.2L1465.6 746.3L1465.8 746.3L1466 749.4L1466.3 752.4L1466.7 752.4L1467.1 755.5L1467.5 755.5L1467.7 758.6L1467.9 761.6L1468 761.6L1468.1 764.7L1468.3 764.7L1468.5 767.8L1468.8 770.8L1469 770.8L1469.1 773.9L1469.4 773.9L1469.6 777L1470 780L1470.4 780L1470.8 783.1L1471.1 786.2L1471.3 786.2L1471.5 789.2L1471.7 792.3L1472 792.3L1472.3 795.4L1472.6 798.4L1472.8 798.4L1472.9 801.5L1472.9 804.6L1473 804.6L1473.3 807.6L1473.8 810.7L1474.2 810.7L1474.6 813.8L1474.8 816.8L1474.9 819.9L1475.1 819.9L1475.3 823L1475.6 826L1475.9 826L1476.1 829.1L1476.2 832.2L1476.4 832.2L1476.7 835.2L1477 838.3L1477.4 838.3L1477.7 841.4L1478 844.4L1478.2 847.5L1478.5 847.5L1478.7 850.6L1479 853.6L1479.2 853.6L1479.2 856.7L1479.2 861.7L1474.2 861.7L1474.2 858.6L1474 858.6L1473.7 855.6L1473.5 852.5L1473.2 852.5L1473 849.4L1472.7 846.4L1472.4 843.3L1472 843.3L1471.7 840.2L1471.4 837.2L1471.2 837.2L1471.1 834.1L1470.9 831L1470.6 831L1470.3 828L1470.1 824.9L1469.9 824.9L1469.8 821.8L1469.6 818.8L1469.2 815.7L1468.8 815.7L1468.3 812.6L1468 809.6L1467.9 809.6L1467.9 806.5L1467.8 803.4L1467.6 803.4L1467.3 800.4L1467 797.3L1466.7 797.3L1466.5 794.2L1466.3 791.2L1466.1 791.2L1465.8 788.1L1465.4 785L1465 785L1464.6 782L1464.4 778.9L1464.1 778.9L1464 775.8L1463.8 775.8L1463.5 772.8L1463.3 769.7L1463.1 769.7L1463 766.6L1462.9 766.6L1462.7 763.6L1462.5 760.5L1462.1 760.5L1461.7 757.4L1461.3 757.4L1461 754.4L1460.8 751.3L1460.6 751.3L1460.5 748.2L1460.3 748.2L1460 745.2L1459.7 745.2L1459.3 742.1L1459 739L1458.8 739L1458.6 736L1458.5 732.9L1458.1 732.9L1457.7 729.8L1457.2 726.8L1456.8 726.8L1456.4 723.7L1456.1 723.7L1455.8 720.6L1455.5 717.6L1455.1 717.6L1454.8 714.5L1454.5 711.4L1454.2 711.4L1454 708.4L1453.7 705.3L1453.4 705.3L1453 702.2L1452.7 699.2L1452.4 699.2L1452.1 696.1L1451.9 696.1L1451.7 693L1451.3 690L1450.9 690L1450.4 686.9L1449.9 686.9L1449.6 683.8L1449.4 680.8L1449.2 680.8L1449 677.7L1448.7 674.6L1448.3 674.6L1447.9 671.6L1447.6 668.5L1447.4 668.5L1447.3 665.4L1447.1 662.4L1446.9 662.4L1446.5 659.3L1446.1 656.2L1445.8 656.2L1445.4 653.2L1445 650.1L1444.6 650.1L1444.1 647L1443.6 644L1443.2 644L1442.8 640.9L1442.6 637.8L1442.3 637.8L1442 634.8L1441.7 631.7L1441.3 631.7L1441.1 628.6L1440.9 625.6L1440.7 625.6L1440.5 622.5L1440.2 619.4L1439.6 619.4L1439 616.4L1438.4 613.3L1437.9 613.3L1437.5 610.2L1437.1 607.1L1436.7 607.1L1436.2 604.1L1435.7 601L1435.2 601L1434.8 597.9L1434.5 594.9L1434.2 594.9L1433.8 591.8L1433.4 591.8L1432.9 588.7L1432.4 585.7L1431.9 585.7L1431.5 582.6L1431 579.5L1430.5 579.5L1430 576.5L1429.4 573.4L1429 573.4L1428.6 570.3L1428.2 567.3L1427.8 567.3L1427.3 564.2L1426.6 561.1L1425.9 561.1L1425.2 558.1L1424.6 555L1424.1 555L1423.7 551.9L1423.1 551.9L1422.5 548.9L1421.9 545.8L1421.4 545.8L1420.9 542.7L1420.6 539.7L1420.3 539.7L1419.9 536.6L1419.4 536.6L1418.8 533.5L1418 530.5L1417.3 530.5L1416.6 527.4L1415.9 524.3L1415.2 524.3L1414.4 521.3L1413.6 518.2L1412.9 518.2L1412.3 515.1L1411.8 515.1L1411.3 512.1L1410.7 509L1410.1 509L1409.5 505.9L1408.9 502.9L1408.4 502.9L1407.9 499.8L1407.3 496.7L1406.5 496.7L1405.7 493.7L1404.8 493.7L1403.9 490.6L1403.2 487.5L1402.7 487.5L1402.1 484.5L1401.5 484.5L1400.9 481.4L1400.2 478.3L1399.4 478.3L1398.7 475.3L1398.1 475.3L1397.6 472.2L1397 469.1L1396.3 469.1L1395.5 466.1L1394.6 466.1L1393.8 463L1393 459.9L1392.3 459.9L1391.6 456.9L1390.9 453.8L1390.1 453.8L1389.4 450.7L1388.7 447.7L1388 447.7L1387.3 444.6L1386.5 444.6L1385.5 441.5L1384.5 438.5L1383.6 438.5L1382.7 435.4L1382 435.4L1381.3 432.3L1380.5 429.3L1379.7 429.3L1378.8 426.2L1377.9 426.2L1377.2 423.1L1376.4 420.1L1375.8 420.1L1375.1 417L1374.2 417L1373.3 413.9L1372.3 410.9L1371.4 410.9L1370.5 407.8L1369.6 407.8L1368.6 404.7L1367.6 401.7L1366.6 401.7L1365.5 398.6L1364.5 398.6L1363.5 395.5L1362.6 392.5L1361.5 392.5L1360.4 389.4L1359.3 389.4L1358.2 386.3L1357.3 386.3L1356.3 383.3L1355.3 380.2L1354.2 380.2L1353 377.1L1351.7 377.1L1350.5 374.1L1349.3 374.1L1348.1 371L1347 371L1345.7 367.9L1344.5 364.9L1343.2 364.9L1341.9 361.8L1340.6 361.8L1339.5 358.7L1338.4 358.7L1337.3 355.7L1336.1 355.7L1334.9 352.6L1333.7 352.6L1332.5 349.5L1331.3 349.5L1330.1 346.5L1328.8 346.5L1327.5 343.4L1326.1 343.4L1324.7 340.3L1323.3 340.3L1322 337.3L1320.6 337.3L1319.2 334.2L1317.7 334.2L1316.2 331.1L1314.8 331.1L1313.3 328.1L1310.5 328.1L1309 325L1307.4 325L1305.7 321.9L1304 321.9L1302.4 318.9L1300.9 318.9L1299.3 315.8L1296.1 315.8L1294.4 312.7L1291 312.7L1289.3 309.7L1287.6 309.7L1285.9 306.6L1282.3 306.6L1280.5 303.5L1275.2 303.5L1273.4 300.4L1268 300.4L1266.2 297.4L1260.7 297.4L1258.8 294.3L1251 294.3L1249 291.2L1243.1 291.2L1241.1 288.2L1233.4 288.2L1231.4 285.1L1221.8 285.1L1219.9 282L1212.1 282L1210.2 279L1200.5 279L1198.6 275.9L1188.7 275.9L1186.7 272.8L1174.8 272.8L1172.8 269.8L1154.8 269.8L1152.7 266.7L1130.3 266.7L1128.2 263.6L1103.6 263.6L1101.6 260.6L1083.7 260.6L1081.7 257.5L1067.9 257.5L1066 254.4L1050.2 254.4L1048.2 251.4L1030.1 251.4L1028 248.3L1002.5 248.3L1000.6 245.2L966.5 245.2L964.5 242.2L927.8 242.2L925.9 239.1L890.4 239.1L888.4 236L849.8 236L847.8 233L804.2 233L802.1 229.9L746.8 229.9L744.8 226.8L684 226.8L682 223.8L619.2 223.8L617.2 220.7L556.8 220.7L554.8 217.6L496.5 217.6L494.5 214.6L434.3 214.6L432.3 211.5L370 211.5L368 208.4L303.9 208.4L301.9 205.4L264 205.4L264 200.4ZM1479.2 856.7L1479.2 861.7L1479.2 864.8L1479.1 864.8L1474.1 864.8L1474.1 859.8L1474.2 859.8L1474.2 856.7ZM1479.1 859.8L1479.2 862.8L1479.5 865.9L1480 865.9L1480.4 869L1480.8 872L1481.1 872L1481.3 875.1L1481.6 878.2L1482 878.2L1482.4 881.2L1482.7 884.3L1482.9 884.3L1482.9 887.4L1482.9 892.4L1477.9 892.4L1477.9 889.3L1477.7 889.3L1477.4 886.2L1477 883.2L1476.6 883.2L1476.3 880.1L1476.1 877L1475.8 877L1475.4 874L1475 870.9L1474.5 870.9L1474.2 867.8L1474.1 864.8L1474.1 859.8ZM1482.9 887.4L1482.9 892.4L1482.8 895.4L1482.8 895.4L1477.8 895.4L1477.8 890.4L1477.8 890.4L1477.9 887.4ZM1482.8 890.4L1482.8 893.5L1482.9 896.6L1483.1 896.6L1483.3 899.6L1483.5 902.7L1483.7 902.7L1484 905.8L1484.4 908.8L1484.8 908.8L1485.1 911.9L1485.4 915L1485.6 915L1485.7 918.1L1485.9 918.1L1486.1 921.1L1486.4 924.2L1486.6 924.2L1486.6 927.3L1486.6 932.3L1481.6 932.3L1481.6 929.2L1481.4 929.2L1481.1 926.1L1480.9 923.1L1480.7 923.1L1480.6 920L1480.4 920L1480.1 916.9L1479.8 913.8L1479.4 913.8L1479 910.8L1478.7 907.7L1478.5 907.7L1478.3 904.6L1478.1 901.6L1477.9 901.6L1477.8 898.5L1477.8 895.4L1477.8 890.4ZM1486.6 927.3L1486.6 932.3L1486.6 935.3L1486.6 935.3L1481.6 935.3L1481.6 930.3L1481.6 930.3L1481.6 927.3ZM1486.6 930.3L1486.7 933.4L1486.9 936.5L1487.2 936.5L1487.5 939.5L1487.7 942.6L1487.9 942.6L1487.9 945.7L1488 948.7L1488.2 948.7L1488.4 951.8L1488.8 954.9L1489 954.9L1489.3 957.9L1489.4 961L1489.6 961L1489.8 964.1L1490 964.1L1490.3 967.1L1490.5 970.2L1490.6 970.2L1490.6 973.3L1490.7 976.3L1490.9 976.3L1491.1 979.4L1491.2 982.5L1491.4 982.5L1491.4 985.5L1491.5 988.6L1491.6 988.6L1491.8 991.7L1492.2 994.7L1492.6 994.7L1492.9 997.8L1493.1 1000.9L1493.2 1000.9L1493.2 1003.9L1493.4 1007L1493.6 1007L1494 1010.1L1494.3 1010.1L1494.5 1013.1L1494.5 1016.2L1494.6 1016.2L1494.6 1019.3L1494.8 1022.3L1495 1022.3L1495.2 1025.4L1495.3 1028.5L1495.5 1028.5L1495.6 1031.5L1495.7 1034.6L1496 1034.6L1496.3 1037.7L1496.5 1040.7L1496.8 1040.7L1497 1043.8L1497.2 1046.9L1497.5 1046.9L1497.8 1049.9L1498.2 1053L1498.5 1053L1498.6 1056.1L1498.6 1056.1L1498.6 1061.1L1493.6 1061.1L1493.6 1061.1L1493.5 1058L1493.2 1058L1492.8 1054.9L1492.5 1051.9L1492.2 1051.9L1492 1048.8L1491.8 1045.7L1491.5 1045.7L1491.3 1042.7L1491 1039.6L1490.7 1039.6L1490.6 1036.5L1490.5 1033.5L1490.3 1033.5L1490.2 1030.4L1490 1027.3L1489.8 1027.3L1489.6 1024.3L1489.6 1021.2L1489.5 1021.2L1489.5 1018.1L1489.3 1015.1L1489 1015.1L1488.6 1012L1488.4 1012L1488.2 1008.9L1488.2 1005.9L1488.1 1005.9L1487.9 1002.8L1487.6 999.7L1487.2 999.7L1486.8 996.7L1486.6 993.6L1486.5 993.6L1486.4 990.5L1486.4 987.5L1486.2 987.5L1486.1 984.4L1485.9 981.3L1485.7 981.3L1485.6 978.3L1485.6 975.2L1485.5 975.2L1485.3 972.1L1485 969.1L1484.8 969.1L1484.6 966L1484.4 966L1484.3 962.9L1484 959.9L1483.8 959.9L1483.4 956.8L1483.2 953.7L1483 953.7L1482.9 950.7L1482.9 947.6L1482.7 947.6L1482.5 944.5L1482.2 941.5L1481.9 941.5L1481.7 938.4L1481.6 935.3L1481.6 930.3ZM1498.6 1056.1L1498.6 1061.1L1498.6 1064.1L1493.6 1064.1L1493.6 1059.1L1493.6 1056.1ZM1498.6 1059.1L1498.6 1062.2L1498.8 1062.2L1499 1065.3L1499.3 1068.3L1499.5 1068.3L1499.6 1071.4L1499.7 1074.5L1499.9 1074.5L1500.2 1077.5L1500.5 1080.6L1500.9 1080.6L1501.3 1083.7L1501.5 1086.7L1501.6 1086.7L1501.8 1089.8L1501.9 1092.9L1502.1 1092.9L1502.3 1095.9L1502.5 1099L1502.6 1099L1502.8 1102.1L1503 1105.1L1503.3 1105.1L1503.6 1108.2L1503.9 1111.3L1504.1 1111.3L1504.2 1114.3L1504.3 1117.4L1504.4 1117.4L1504.6 1120.5L1504.9 1120.5L1505.2 1123.5L1505.3 1126.6L1505.4 1126.6L1505.5 1129.7L1505.6 1132.7L1505.9 1132.7L1506.4 1135.8L1506.8 1138.9L1507.3 1138.9L1507.6 1141.9L1507.7 1145L1507.8 1145L1507.9 1148.1L1508.1 1151.1L1508.2 1151.1L1508.3 1154.2L1508.4 1157.3L1508.4 1157.3L1508.5 1160.3L1508.6 1163.4L1508.9 1163.4L1509.2 1166.5L1509.6 1166.5L1509.9 1169.5L1510.2 1172.6L1510.5 1172.6L1510.8 1175.7L1511.2 1178.7L1511.5 1178.7L1511.7 1181.8L1511.8 1184.9L1511.8 1184.9L1511.8 1189.9L1506.8 1189.9L1506.8 1189.9L1506.7 1186.8L1506.5 1183.7L1506.2 1183.7L1505.8 1180.7L1505.5 1177.6L1505.2 1177.6L1504.9 1174.5L1504.6 1171.5L1504.2 1171.5L1503.9 1168.4L1503.6 1168.4L1503.5 1165.3L1503.4 1162.3L1503.4 1162.3L1503.3 1159.2L1503.2 1156.1L1503.1 1156.1L1502.9 1153.1L1502.8 1150L1502.7 1150L1502.6 1146.9L1502.3 1143.9L1501.8 1143.9L1501.4 1140.8L1500.9 1137.7L1500.6 1137.7L1500.5 1134.7L1500.4 1131.6L1500.3 1131.6L1500.2 1128.5L1499.9 1125.5L1499.6 1125.5L1499.4 1122.4L1499.3 1122.4L1499.2 1119.3L1499.1 1116.3L1498.9 1116.3L1498.6 1113.2L1498.3 1110.1L1498 1110.1L1497.8 1107.1L1497.6 1104L1497.5 1104L1497.3 1100.9L1497.1 1097.9L1496.9 1097.9L1496.8 1094.8L1496.6 1091.7L1496.5 1091.7L1496.3 1088.7L1495.9 1085.6L1495.5 1085.6L1495.2 1082.5L1494.9 1079.5L1494.7 1079.5L1494.6 1076.4L1494.5 1073.3L1494.3 1073.3L1494 1070.3L1493.8 1067.2L1493.6 1067.2L1493.6 1064.1L1493.6 1059.1ZM1511.8 1184.9L1511.8 1189.9L1511.7 1192.9L1506.7 1192.9L1506.7 1187.9L1506.8 1184.9ZM1511.7 1187.9L1511.8 1191L1511.9 1191L1512.2 1194.1L1512.5 1197.1L1512.8 1197.1L1512.9 1200.2L1513 1203.3L1513.3 1203.3L1513.6 1206.3L1514 1209.4L1514.3 1209.4L1514.6 1212.5L1514.7 1215.5L1514.8 1215.5L1514.9 1218.6L1515.1 1221.7L1515.3 1221.7L1515.5 1224.8L1515.7 1227.8L1515.9 1227.8L1516.1 1230.9L1516.4 1234L1516.7 1234L1517 1237L1517.2 1240.1L1517.3 1240.1L1517.4 1243.2L1517.5 1246.2L1517.7 1246.2L1517.9 1249.3L1518.2 1252.4L1518.5 1252.4L1518.6 1255.4L1518.7 1258.5L1518.8 1258.5L1519 1261.6L1519.4 1264.6L1519.8 1264.6L1520.2 1267.7L1520.4 1270.8L1520.5 1270.8L1520.6 1273.8L1520.7 1276.9L1520.9 1276.9L1521.1 1280L1521.4 1280L1521.6 1283L1521.7 1286.1L1521.9 1286.1L1522.1 1289.2L1522.3 1292.2L1522.6 1292.2L1522.9 1295.3L1523 1298.4L1523.2 1298.4L1523.4 1301.4L1523.6 1304.5L1523.9 1304.5L1524.2 1307.6L1524.5 1307.6L1524.7 1310.6L1524.8 1313.7L1524.9 1313.7L1525.1 1316.8L1525.4 1319.8L1525.8 1319.8L1526.2 1322.9L1526.5 1326L1526.6 1326L1526.7 1329L1526.8 1332.1L1527 1332.1L1527.4 1335.2L1527.7 1338.2L1528 1338.2L1528.2 1341.3L1528.3 1344.4L1528.5 1347.4L1528.7 1347.4L1529 1350.5L1529.3 1353.6L1529.6 1353.6L1529.8 1356.6L1530 1359.7L1530.3 1359.7L1530.6 1362.8L1531 1365.8L1531.3 1365.8L1531.5 1368.9L1531.7 1368.9L1532 1372L1532.3 1375L1532.6 1375L1533 1378.1L1533.3 1381.2L1533.4 1381.2L1533.5 1384.2L1533.5 1384.2L1533.6 1387.3L1533.8 1390.4L1534.2 1390.4L1534.6 1393.4L1535 1393.4L1535.4 1396.5L1535.8 1399.6L1536.2 1399.6L1536.7 1402.6L1537.3 1405.7L1537.9 1405.7L1538.5 1408.8L1539 1411.8L1539.4 1411.8L1539.6 1414.9L1539.9 1418L1540.2 1418L1540.6 1421L1540.9 1421L1541.2 1424.1L1541.5 1424.1L1542 1427.2L1542.6 1430.2L1543.3 1433.3L1544.2 1433.3L1545 1436.4L1546.1 1436.4L1547.1 1439.4L1547.1 1444.4L1542.1 1444.4L1541.1 1441.4L1540 1441.4L1539.2 1438.3L1538.3 1438.3L1537.6 1435.2L1537 1432.2L1536.5 1429.1L1536.2 1429.1L1535.9 1426L1535.6 1426L1535.2 1423L1534.9 1423L1534.6 1419.9L1534.4 1416.8L1534 1416.8L1533.5 1413.8L1532.9 1410.7L1532.3 1410.7L1531.7 1407.6L1531.2 1404.6L1530.8 1404.6L1530.4 1401.5L1530 1398.4L1529.6 1398.4L1529.2 1395.4L1528.8 1395.4L1528.6 1392.3L1528.5 1389.2L1528.5 1389.2L1528.4 1386.2L1528.3 1386.2L1528 1383.1L1527.6 1380L1527.3 1380L1527 1377L1526.7 1373.9L1526.5 1373.9L1526.3 1370.8L1526 1370.8L1525.6 1367.8L1525.3 1364.7L1525 1364.7L1524.8 1361.6L1524.6 1358.6L1524.3 1358.6L1524 1355.5L1523.7 1352.4L1523.5 1352.4L1523.3 1349.4L1523.2 1346.3L1523 1343.2L1522.7 1343.2L1522.4 1340.2L1522 1337.1L1521.8 1337.1L1521.7 1334L1521.6 1331L1521.5 1331L1521.2 1327.9L1520.8 1324.8L1520.4 1324.8L1520.1 1321.8L1519.9 1318.7L1519.8 1318.7L1519.7 1315.6L1519.5 1312.6L1519.2 1312.6L1518.9 1309.5L1518.6 1309.5L1518.4 1306.4L1518.2 1303.4L1518 1303.4L1517.9 1300.3L1517.6 1297.2L1517.3 1297.2L1517.1 1294.2L1516.9 1291.1L1516.7 1291.1L1516.6 1288L1516.4 1285L1516.1 1285L1515.9 1281.9L1515.7 1281.9L1515.6 1278.8L1515.5 1275.8L1515.4 1275.8L1515.2 1272.7L1514.8 1269.6L1514.4 1269.6L1514 1266.6L1513.8 1263.5L1513.7 1263.5L1513.6 1260.4L1513.5 1257.4L1513.2 1257.4L1512.9 1254.3L1512.7 1251.2L1512.5 1251.2L1512.4 1248.2L1512.3 1245.1L1512.2 1245.1L1512 1242L1511.7 1239L1511.4 1239L1511.1 1235.9L1510.9 1232.8L1510.7 1232.8L1510.5 1229.8L1510.3 1226.7L1510.1 1226.7L1509.9 1223.6L1509.8 1220.5L1509.7 1220.5L1509.6 1217.5L1509.3 1214.4L1509 1214.4L1508.6 1211.3L1508.3 1208.3L1508 1208.3L1507.9 1205.2L1507.8 1202.1L1507.5 1202.1L1507.2 1199.1L1506.9 1196L1506.8 1196L1506.7 1192.9L1506.7 1187.9ZM1542.1 1439.4L1543.7 1436.4L1545 1433.3L1545.9 1433.3L1546.6 1430.2L1547.2 1427.2L1547.7 1427.2L1547.9 1424.1L1548.2 1424.1L1548.5 1421L1549 1418L1549.6 1414.9L1550.2 1414.9L1550.7 1411.8L1551.1 1408.8L1551.4 1408.8L1551.9 1405.7L1552.3 1402.6L1552.6 1402.6L1553 1399.6L1553.2 1396.5L1553.5 1396.5L1553.8 1393.4L1554.1 1390.4L1554.6 1390.4L1555 1387.3L1555.3 1384.2L1555.5 1384.2L1555.8 1381.2L1556 1378.1L1556.4 1378.1L1556.7 1375L1556.9 1372L1556.9 1368.9L1556.9 1368.9L1556.9 1365.8L1557.1 1362.8L1557.5 1362.8L1558 1359.7L1558.5 1356.6L1558.9 1356.6L1559.2 1353.6L1559.5 1350.5L1559.8 1350.5L1560.2 1347.4L1560.7 1344.4L1561 1344.4L1561.2 1341.3L1561.3 1341.3L1561.3 1338.2L1561.4 1335.2L1561.5 1335.2L1561.7 1332.1L1561.9 1329L1562.1 1329L1562.3 1326L1562.6 1322.9L1562.9 1319.8L1563.4 1319.8L1563.8 1316.8L1564 1313.7L1564.1 1313.7L1564.2 1310.6L1564.3 1310.6L1564.5 1307.6L1564.7 1304.5L1564.9 1304.5L1565.1 1301.4L1565.2 1301.4L1570.2 1301.4L1570.2 1306.4L1570.1 1306.4L1569.9 1309.5L1569.7 1309.5L1569.5 1312.6L1569.3 1315.6L1569.2 1315.6L1569.1 1318.7L1569 1318.7L1568.8 1321.8L1568.4 1324.8L1567.9 1324.8L1567.6 1327.9L1567.3 1331L1567.1 1334L1566.9 1334L1566.7 1337.1L1566.5 1340.2L1566.4 1340.2L1566.3 1343.2L1566.3 1346.3L1566.2 1346.3L1566 1349.4L1565.7 1349.4L1565.2 1352.4L1564.8 1355.5L1564.5 1355.5L1564.2 1358.6L1563.9 1361.6L1563.5 1361.6L1563 1364.7L1562.5 1367.8L1562.1 1367.8L1561.9 1370.8L1561.9 1373.9L1561.9 1373.9L1561.9 1377L1561.7 1380L1561.4 1383.1L1561 1383.1L1560.8 1386.2L1560.5 1389.2L1560.3 1389.2L1560 1392.3L1559.6 1395.4L1559.1 1395.4L1558.8 1398.4L1558.5 1401.5L1558.2 1401.5L1558 1404.6L1557.6 1407.6L1557.3 1407.6L1556.9 1410.7L1556.4 1413.8L1556.1 1413.8L1555.7 1416.8L1555.2 1419.9L1554.6 1419.9L1554 1423L1553.5 1426L1553.2 1429.1L1552.9 1429.1L1552.7 1432.2L1552.2 1432.2L1551.6 1435.2L1550.9 1438.3L1550 1438.3L1548.7 1441.4L1547.1 1444.4L1542.1 1444.4ZM1570.2 1306.4L1565.2 1306.4L1565.2 1303.4L1565.1 1300.3L1565.1 1300.3L1565.1 1295.3L1570.1 1295.3L1570.1 1295.3L1570.2 1298.4L1570.2 1301.4ZM1565.1 1295.3L1565.3 1292.2L1565.5 1292.2L1565.8 1289.2L1566 1286.1L1566.1 1286.1L1566.2 1283L1566.2 1280L1566.2 1280L1566.4 1276.9L1566.6 1273.8L1566.8 1273.8L1566.9 1270.8L1567 1267.7L1567.1 1267.7L1567.2 1264.6L1567.4 1261.6L1567.6 1261.6L1567.7 1258.5L1567.8 1255.4L1567.8 1255.4L1567.9 1252.4L1568 1249.3L1568.2 1249.3L1568.4 1246.2L1568.6 1243.2L1568.6 1243.2L1573.6 1243.2L1573.6 1248.2L1573.6 1248.2L1573.4 1251.2L1573.2 1254.3L1573 1254.3L1572.9 1257.4L1572.8 1260.4L1572.8 1260.4L1572.7 1263.5L1572.6 1266.6L1572.4 1266.6L1572.2 1269.6L1572.1 1272.7L1572 1272.7L1571.9 1275.8L1571.8 1278.8L1571.6 1278.8L1571.4 1281.9L1571.2 1285L1571.2 1285L1571.2 1288L1571.1 1291.1L1571 1291.1L1570.8 1294.2L1570.5 1297.2L1570.3 1297.2L1570.1 1300.3L1565.1 1300.3ZM1573.6 1248.2L1568.6 1248.2L1568.5 1245.1L1568.5 1240.1L1573.5 1240.1L1573.6 1243.2ZM1568.5 1240.1L1568.5 1237L1568.7 1237L1568.9 1234L1569.2 1230.9L1569.3 1230.9L1569.4 1227.8L1574.4 1227.8L1574.4 1232.8L1574.3 1235.9L1574.2 1235.9L1573.9 1239L1573.7 1242L1573.5 1242L1573.5 1245.1L1568.5 1245.1ZM1574.4 1232.8L1569.4 1232.8L1569.3 1229.8L1569.3 1224.8L1574.3 1224.8L1574.4 1227.8ZM1569.3 1224.8L1569.3 1221.7L1569.5 1221.7L1569.8 1218.6L1570.1 1215.5L1570.3 1215.5L1570.4 1212.5L1570.5 1209.4L1570.6 1209.4L1570.8 1206.3L1570.9 1203.3L1571.1 1203.3L1571.1 1200.2L1571.1 1197.1L1571.1 1197.1L1571.2 1194.1L1571.4 1191L1571.6 1191L1571.7 1187.9L1571.8 1184.9L1571.9 1184.9L1572.1 1181.8L1572.4 1178.7L1572.8 1178.7L1573.1 1175.7L1573.4 1172.6L1573.6 1172.6L1573.6 1169.5L1578.6 1169.5L1578.6 1174.5L1578.6 1177.6L1578.4 1177.6L1578.1 1180.7L1577.8 1183.7L1577.4 1183.7L1577.1 1186.8L1576.9 1189.9L1576.8 1189.9L1576.7 1192.9L1576.6 1196L1576.4 1196L1576.2 1199.1L1576.1 1202.1L1576.1 1202.1L1576.1 1205.2L1576.1 1208.3L1575.9 1208.3L1575.8 1211.3L1575.6 1214.4L1575.5 1214.4L1575.4 1217.5L1575.3 1220.5L1575.1 1220.5L1574.8 1223.6L1574.5 1226.7L1574.3 1226.7L1574.3 1229.8L1569.3 1229.8ZM1578.6 1174.5L1573.6 1174.5L1573.5 1171.5L1573.6 1171.5L1573.6 1166.5L1578.6 1166.5L1578.5 1166.5L1578.6 1169.5ZM1573.6 1166.5L1573.7 1163.4L1573.9 1160.3L1574.2 1160.3L1574.3 1157.3L1574.4 1157.3L1574.5 1154.2L1574.6 1151.1L1574.8 1151.1L1575.1 1148.1L1575.5 1145L1575.7 1145L1575.9 1141.9L1576.1 1138.9L1576.2 1138.9L1576.3 1135.8L1576.5 1132.7L1576.7 1132.7L1576.8 1129.7L1576.9 1126.6L1577.1 1126.6L1577.3 1123.5L1577.6 1120.5L1578 1120.5L1578.3 1117.4L1578.6 1117.4L1578.7 1114.3L1578.8 1111.3L1578.8 1111.3L1579 1108.2L1579.2 1105.1L1579.5 1105.1L1579.6 1102.1L1579.6 1099L1579.6 1099L1579.7 1095.9L1579.9 1092.9L1580.3 1092.9L1580.7 1089.8L1581.1 1086.7L1581.5 1086.7L1581.7 1083.7L1581.8 1080.6L1582 1080.6L1582.2 1077.5L1582.4 1074.5L1582.5 1074.5L1582.6 1071.4L1582.6 1068.3L1582.6 1068.3L1582.7 1065.3L1582.9 1062.2L1583.2 1062.2L1583.4 1059.1L1583.6 1056.1L1583.8 1056.1L1584 1053L1584.3 1053L1584.7 1049.9L1585 1046.9L1585.2 1046.9L1585.2 1043.8L1590.2 1043.8L1590.2 1048.8L1590.2 1051.9L1590 1051.9L1589.7 1054.9L1589.3 1058L1589 1058L1588.8 1061.1L1588.6 1061.1L1588.4 1064.1L1588.2 1067.2L1587.9 1067.2L1587.7 1070.3L1587.6 1073.3L1587.6 1073.3L1587.6 1076.4L1587.5 1079.5L1587.4 1079.5L1587.2 1082.5L1587 1085.6L1586.8 1085.6L1586.7 1088.7L1586.5 1091.7L1586.1 1091.7L1585.7 1094.8L1585.3 1097.9L1584.9 1097.9L1584.7 1100.9L1584.6 1104L1584.6 1104L1584.6 1107.1L1584.5 1110.1L1584.2 1110.1L1584 1113.2L1583.8 1116.3L1583.8 1116.3L1583.7 1119.3L1583.6 1122.4L1583.3 1122.4L1583 1125.5L1582.6 1125.5L1582.3 1128.5L1582.1 1131.6L1581.9 1131.6L1581.8 1134.7L1581.7 1137.7L1581.5 1137.7L1581.3 1140.8L1581.2 1143.9L1581.1 1143.9L1580.9 1146.9L1580.7 1150L1580.5 1150L1580.1 1153.1L1579.8 1156.1L1579.6 1156.1L1579.5 1159.2L1579.4 1162.3L1579.3 1162.3L1579.2 1165.3L1578.9 1165.3L1578.7 1168.4L1578.6 1171.5L1573.6 1171.5ZM1590.2 1048.8L1585.2 1048.8L1585.2 1045.7L1585.1 1045.7L1585.1 1040.7L1590.1 1040.7L1590.2 1040.7L1590.2 1043.8ZM1585.1 1040.7L1585.2 1037.7L1585.4 1034.6L1585.7 1034.6L1586 1031.5L1586.2 1028.5L1586.4 1028.5L1586.4 1025.4L1586.6 1022.3L1586.8 1022.3L1587.1 1019.3L1587.3 1016.2L1587.5 1016.2L1587.5 1013.1L1592.5 1013.1L1592.5 1018.1L1592.5 1021.2L1592.3 1021.2L1592.1 1024.3L1591.8 1027.3L1591.6 1027.3L1591.4 1030.4L1591.4 1033.5L1591.2 1033.5L1591 1036.5L1590.7 1039.6L1590.4 1039.6L1590.2 1042.7L1590.1 1045.7L1585.1 1045.7ZM1592.5 1018.1L1587.5 1018.1L1587.5 1015.1L1587.5 1015.1L1587.5 1010.1L1592.5 1010.1L1592.5 1010.1L1592.5 1013.1ZM1587.5 1010.1L1587.6 1007L1587.7 1007L1587.9 1003.9L1588 1000.9L1588.2 1000.9L1588.3 997.8L1588.6 994.7L1588.9 994.7L1589.2 991.7L1589.5 988.6L1589.7 988.6L1589.7 985.5L1589.7 982.5L1589.8 982.5L1589.9 979.4L1590.1 976.3L1590.3 976.3L1590.4 973.3L1595.4 973.3L1595.4 978.3L1595.3 981.3L1595.1 981.3L1594.9 984.4L1594.8 987.5L1594.7 987.5L1594.7 990.5L1594.7 993.6L1594.5 993.6L1594.2 996.7L1593.9 999.7L1593.6 999.7L1593.3 1002.8L1593.2 1005.9L1593 1005.9L1592.9 1008.9L1592.7 1012L1592.6 1012L1592.5 1015.1L1587.5 1015.1ZM1595.4 978.3L1590.4 978.3L1590.3 975.2L1590.3 975.2L1590.2 972.1L1590.2 967.1L1595.2 967.1L1595.3 970.2L1595.3 970.2L1595.4 973.3ZM1590.2 967.1L1590.4 964.1L1590.6 964.1L1590.9 961L1591.2 961L1591.4 957.9L1591.5 954.9L1591.6 954.9L1591.8 951.8L1592 948.7L1592.3 948.7L1592.5 945.7L1592.7 942.6L1592.8 942.6L1592.9 939.5L1593 936.5L1593.1 936.5L1593.2 933.4L1593.3 930.3L1593.3 930.3L1598.3 930.3L1598.3 935.3L1598.3 935.3L1598.2 938.4L1598.1 941.5L1598 941.5L1597.9 944.5L1597.8 947.6L1597.7 947.6L1597.5 950.7L1597.3 953.7L1597 953.7L1596.8 956.8L1596.6 959.9L1596.5 959.9L1596.4 962.9L1596.2 966L1595.9 966L1595.6 969.1L1595.4 969.1L1595.2 972.1L1590.2 972.1ZM1598.3 935.3L1593.3 935.3L1593.3 932.3L1593.3 927.3L1598.3 927.3L1598.3 930.3ZM1593.3 927.3L1593.3 924.2L1593.4 924.2L1593.7 921.1L1594 918.1L1594.2 918.1L1594.4 915L1594.5 915L1594.6 911.9L1594.8 908.8L1595.2 908.8L1595.6 905.8L1595.9 902.7L1596 902.7L1596 899.6L1601 899.6L1601 904.6L1601 907.7L1600.9 907.7L1600.6 910.8L1600.2 913.8L1599.8 913.8L1599.6 916.9L1599.5 920L1599.4 920L1599.2 923.1L1599 923.1L1598.7 926.1L1598.4 929.2L1598.3 929.2L1598.3 932.3L1593.3 932.3ZM1601 904.6L1596 904.6L1596 901.6L1596 901.6L1596 896.6L1601 896.6L1601 896.6L1601 899.6ZM1596 896.6L1596.1 893.5L1596.3 890.4L1596.5 890.4L1596.7 887.4L1596.7 884.3L1596.8 884.3L1596.9 881.2L1597.1 878.2L1597.4 878.2L1597.7 875.1L1597.9 872L1598 872L1598.2 869L1598.4 865.9L1598.7 865.9L1599 862.8L1599.3 859.8L1599.4 859.8L1599.5 856.7L1599.7 853.6L1599.9 853.6L1600.2 850.6L1600.5 847.5L1600.6 847.5L1605.6 847.5L1605.6 852.5L1605.5 852.5L1605.2 855.6L1604.9 858.6L1604.7 858.6L1604.5 861.7L1604.4 864.8L1604.3 864.8L1604 867.8L1603.7 870.9L1603.4 870.9L1603.2 874L1603 877L1602.9 877L1602.7 880.1L1602.4 883.2L1602.1 883.2L1601.9 886.2L1601.8 889.3L1601.7 889.3L1601.7 892.4L1601.5 895.4L1601.3 895.4L1601.1 898.5L1601 901.6L1596 901.6ZM1605.6 852.5L1600.6 852.5L1600.6 849.4L1600.5 846.4L1600.5 843.3L1600.6 843.3L1600.6 838.3L1605.6 838.3L1605.5 838.3L1605.5 841.4L1605.6 844.4L1605.6 847.5ZM1600.6 838.3L1600.8 835.2L1601.2 832.2L1601.5 832.2L1601.7 829.1L1602 826L1602.2 826L1602.6 823L1603 819.9L1603.4 819.9L1603.7 816.8L1603.9 813.8L1603.9 810.7L1603.9 810.7L1604 807.6L1604.1 804.6L1604.1 804.6L1604.1 801.5L1604.2 798.4L1604.3 798.4L1604.6 795.4L1605.1 792.3L1605.5 792.3L1605.9 789.2L1606.2 786.2L1606.4 786.2L1606.6 783.1L1606.9 780L1607.2 780L1607.4 777L1607.6 773.9L1607.7 773.9L1612.7 773.9L1612.7 778.9L1612.6 778.9L1612.4 782L1612.2 785L1611.9 785L1611.6 788.1L1611.4 791.2L1611.2 791.2L1610.9 794.2L1610.5 797.3L1610.1 797.3L1609.6 800.4L1609.3 803.4L1609.2 803.4L1609.1 806.5L1609.1 809.6L1609.1 809.6L1609 812.6L1608.9 815.7L1608.9 815.7L1608.9 818.8L1608.7 821.8L1608.4 824.9L1608 824.9L1607.6 828L1607.2 831L1607 831L1606.7 834.1L1606.5 837.2L1606.2 837.2L1605.8 840.2L1605.6 843.3L1600.6 843.3ZM1612.7 778.9L1607.7 778.9L1607.7 775.8L1607.7 775.8L1607.7 770.8L1612.7 770.8L1612.7 770.8L1612.7 773.9ZM1607.7 770.8L1607.7 767.8L1607.9 764.7L1608.2 764.7L1608.6 761.6L1608.9 761.6L1609.2 758.6L1609.4 755.5L1609.6 755.5L1609.8 752.4L1610.1 752.4L1610.3 749.4L1610.5 746.3L1610.7 746.3L1610.8 743.2L1611 743.2L1611.1 740.2L1611.3 740.2L1611.6 737.1L1612 734L1612.3 734L1612.6 731L1612.9 727.9L1613.2 727.9L1613.6 724.8L1614 721.8L1614.4 721.8L1614.8 718.7L1614.9 718.7L1615 715.6L1615.1 712.6L1615.3 712.6L1615.6 709.5L1616 706.4L1616.5 706.4L1616.9 703.4L1617.2 700.3L1617.5 700.3L1617.8 697.2L1618.1 694.2L1618.5 694.2L1618.9 691.1L1619.3 691.1L1619.6 688L1619.8 685L1619.9 685L1620.1 681.9L1620.4 681.9L1620.7 678.8L1620.9 675.8L1621.2 675.8L1621.4 672.7L1621.7 669.6L1622 669.6L1622.4 666.6L1622.8 663.5L1623.2 663.5L1623.4 660.4L1623.5 657.4L1623.7 657.4L1624 654.3L1624.4 651.2L1624.9 651.2L1625.2 648.2L1625.5 645.1L1625.7 645.1L1625.9 642L1626.3 639L1626.8 639L1627.3 635.9L1627.7 632.8L1628.1 632.8L1628.3 629.8L1628.6 626.7L1628.9 626.7L1629.3 623.6L1629.7 620.6L1630.1 620.6L1630.4 617.5L1630.8 614.4L1631.2 614.4L1631.7 611.4L1632.2 608.3L1632.7 608.3L1633.2 605.2L1633.6 602.1L1634.1 602.1L1634.7 599.1L1635.4 596L1636.1 592.9L1636.7 592.9L1637.2 589.9L1637.6 586.8L1638 586.8L1638.6 583.7L1639.3 580.7L1639.9 580.7L1640.5 577.6L1640.9 574.5L1641.3 574.5L1641.8 571.5L1642.5 568.4L1643.3 568.4L1644.1 565.3L1644.8 562.3L1645.5 562.3L1646.2 559.2L1646.9 559.2L1647.7 556.1L1648.4 556.1L1649.1 553.1L1649.8 553.1L1650.4 550L1651 550L1651.6 546.9L1652.6 546.9L1653.7 543.9L1654.9 540.8L1656.2 540.8L1657.5 537.7L1658.7 537.7L1659.8 534.7L1660.9 534.7L1662.3 531.6L1663.7 528.5L1665.1 528.5L1666.3 525.5L1667.4 525.5L1668.5 522.4L1669.8 519.3L1672.5 519.3L1674.4 516.3L1678.4 516.3L1680.5 513.2L1686.5 513.2L1688.5 510.1L1694.5 510.1L1696.5 507.1L1708.5 507.1L1710.5 504L1730.5 504L1732.5 500.9L2112.5 500.9L2117.5 500.9L2117.5 505.9L1737.5 505.9L1735.5 509L1715.5 509L1713.5 512.1L1701.5 512.1L1699.5 515.1L1693.5 515.1L1691.5 518.2L1685.5 518.2L1683.4 521.3L1679.4 521.3L1677.5 524.3L1674.8 524.3L1673.5 527.4L1672.4 530.5L1671.3 530.5L1670.1 533.5L1668.7 533.5L1667.3 536.6L1665.9 539.7L1664.8 539.7L1663.7 542.7L1662.5 542.7L1661.2 545.8L1659.9 545.8L1658.7 548.9L1657.6 551.9L1656.6 551.9L1656 555L1655.4 555L1654.8 558.1L1654.1 558.1L1653.4 561.1L1652.7 561.1L1651.9 564.2L1651.2 564.2L1650.5 567.3L1649.8 567.3L1649.1 570.3L1648.3 573.4L1647.5 573.4L1646.8 576.5L1646.3 579.5L1645.9 579.5L1645.5 582.6L1644.9 585.7L1644.3 585.7L1643.6 588.7L1643 591.8L1642.6 591.8L1642.2 594.9L1641.7 597.9L1641.1 597.9L1640.4 601L1639.7 604.1L1639.1 607.1L1638.6 607.1L1638.2 610.2L1637.7 613.3L1637.2 613.3L1636.7 616.4L1636.2 619.4L1635.8 619.4L1635.4 622.5L1635.1 625.6L1634.7 625.6L1634.3 628.6L1633.9 631.7L1633.6 631.7L1633.3 634.8L1633.1 637.8L1632.7 637.8L1632.3 640.9L1631.8 644L1631.3 644L1630.9 647L1630.7 650.1L1630.5 650.1L1630.2 653.2L1629.9 656.2L1629.4 656.2L1629 659.3L1628.7 662.4L1628.5 662.4L1628.4 665.4L1628.2 668.5L1627.8 668.5L1627.4 671.6L1627 674.6L1626.7 674.6L1626.4 677.7L1626.2 680.8L1625.9 680.8L1625.7 683.8L1625.4 686.9L1625.1 686.9L1624.9 690L1624.8 690L1624.6 693L1624.3 696.1L1623.9 696.1L1623.5 699.2L1623.1 699.2L1622.8 702.2L1622.5 705.3L1622.2 705.3L1621.9 708.4L1621.5 711.4L1621 711.4L1620.6 714.5L1620.3 717.6L1620.1 717.6L1620 720.6L1619.9 723.7L1619.8 723.7L1619.4 726.8L1619 726.8L1618.6 729.8L1618.2 732.9L1617.9 732.9L1617.6 736L1617.3 739L1617 739L1616.6 742.1L1616.3 745.2L1616.1 745.2L1616 748.2L1615.8 748.2L1615.7 751.3L1615.5 751.3L1615.3 754.4L1615.1 757.4L1614.8 757.4L1614.6 760.5L1614.4 760.5L1614.2 763.6L1613.9 766.6L1613.6 766.6L1613.2 769.7L1612.9 769.7L1612.7 772.8L1612.7 775.8L1607.7 775.8ZM2117.5 500.9L2119.5 504L2255.5 504L2257.5 507.1L2397.5 507.1L2397 507.1L2397 512.1L2392 512.1L2392.5 512.1L2252.5 512.1L2250.5 509L2114.5 509L2112.5 505.9L2112.5 500.9Z"/>
<path d="M269 200.4L296.9 200.4L298.9 203.4L363 203.4L365 206.5L427.2 206.5L429.2 209.6L489.4 209.6L491.4 212.6L551.8 212.6L553.8 215.7L612.1 215.7L614.1 218.8L674.8 218.8L676.8 221.8L739.7 221.8L741.7 224.9L797.2 224.9L799.2 228L844.5 228L846.6 231L887.4 231L889.4 234.1L925 234.1L927 237.2L963.4 237.2L965.4 240.2L999.6 240.2L1001.6 243.3L1029.1 243.3L1031 246.4L1053.1 246.4L1055.1 249.4L1072.9 249.4L1074.8 252.5L1094.5 252.5L1096.5 255.6L1120.8 255.6L1122.8 258.6L1151.4 258.6L1153.4 261.7L1175.5 261.7L1177.5 264.8L1191.6 264.8L1193.6 267.8L1205.5 267.8L1207.5 270.9L1217.4 270.9L1219.3 274L1229 274L1231 277L1240.6 277L1242.5 280.1L1250.4 280.1L1252.4 283.2L1262.2 283.2L1264.1 286.2L1271.9 286.2L1273.8 289.3L1281.5 289.3L1283.4 292.4L1288.7 292.4L1290.5 295.4L1295.8 295.4L1297.5 298.5L1301 298.5L1302.7 301.6L1306.2 301.6L1307.9 304.7L1311.5 304.7L1313.2 307.7L1314.8 307.7L1316.4 310.8L1319.4 310.8L1321 313.9L1322.5 313.9L1324.2 316.9L1325.8 316.9L1327.4 320L1328.9 320L1330.4 323.1L1333.2 323.1L1334.6 326.1L1336 326.1L1337.5 329.2L1339.1 329.2L1340.7 332.3L1342.1 332.3L1343.5 335.3L1344.6 335.3L1345.8 338.4L1346.9 338.4L1348.1 341.5L1349.5 341.5L1351 344.5L1352.5 344.5L1353.9 347.6L1355.3 350.7L1356.5 350.7L1357.6 353.7L1358.6 353.7L1359.7 356.8L1360.9 356.8L1362.1 359.9L1363.3 359.9L1364.6 362.9L1365.9 362.9L1367.1 366L1368.2 369.1L1369.3 369.1L1370.4 372.1L1371.5 372.1L1372.7 375.2L1374 375.2L1375.2 378.3L1376.4 381.3L1377.5 381.3L1378.5 384.4L1379.5 384.4L1380.5 387.5L1381.4 387.5L1382.4 390.5L1383.4 393.6L1384.4 393.6L1385.4 396.7L1386.3 396.7L1387.2 399.7L1388 402.8L1388.8 402.8L1389.6 405.9L1390.4 405.9L1391.2 408.9L1392 412L1392.9 412L1393.9 415.1L1394.8 415.1L1395.6 418.1L1396.4 421.2L1397.1 421.2L1397.8 424.3L1398.5 424.3L1399.2 427.3L1400 430.4L1400.9 430.4L1401.8 433.5L1402.7 433.5L1403.5 436.5L1404.3 439.6L1405.1 439.6L1405.7 442.7L1406.3 445.7L1406.9 445.7L1407.6 448.8L1408.4 451.9L1409.3 451.9L1410.3 454.9L1411.2 454.9L1412.1 458L1412.9 461.1L1413.5 461.1L1414.1 464.1L1414.6 467.2L1415.1 467.2L1415.7 470.3L1416.3 470.3L1417 473.3L1417.7 476.4L1418.3 476.4L1419 479.5L1419.6 479.5L1420.2 482.5L1420.8 485.6L1421.4 485.6L1422 488.7L1422.7 491.7L1423.4 491.7L1424.1 494.8L1424.8 497.9L1425.4 497.9L1426 500.9L1426.6 500.9L1427 504L1427.5 507.1L1428 507.1L1428.5 510.1L1429.1 513.2L1429.7 513.2L1430.4 516.3L1431.2 519.3L1431.8 519.3L1432.5 522.4L1433 525.5L1433.6 525.5L1434.1 528.5L1434.6 528.5L1435.2 531.6L1435.8 534.7L1436.4 534.7L1436.9 537.7L1437.4 540.8L1437.7 540.8L1438 543.9L1438.3 546.9L1438.7 546.9L1439.3 550L1440.1 553.1L1441 553.1L1441.8 556.1L1442.6 556.1L1443.1 559.2L1443.4 562.3L1443.6 562.3L1443.8 565.3L1444.1 568.4L1444.5 568.4L1445.1 571.5L1445.9 574.5L1446.6 574.5L1447.2 577.6L1447.6 580.7L1447.9 580.7L1448.1 583.7L1448.4 586.8L1448.8 586.8L1449.4 589.9L1450.1 589.9L1450.9 592.9L1451.6 596L1452.1 596L1452.5 599.1L1452.6 602.1L1452.7 602.1L1452.8 605.2L1453.1 608.3L1453.5 608.3L1454.1 611.4L1454.8 614.4L1455.3 614.4L1455.8 617.5L1456.1 620.6L1456.3 620.6L1456.6 623.6L1457 626.7L1457.4 626.7L1457.9 629.8L1458.4 632.8L1458.8 632.8L1459 635.9L1459.2 639L1459.3 639L1459.4 642L1459.6 645.1L1460 645.1L1460.4 648.2L1461 651.2L1461.5 651.2L1461.9 654.3L1462.2 657.4L1462.5 657.4L1462.6 660.4L1462.8 663.5L1463.1 663.5L1463.4 666.6L1463.7 669.6L1464 669.6L1464.4 672.7L1464.7 675.8L1465 675.8L1465.2 678.8L1465.5 681.9L1465.8 681.9L1466 685L1466.3 685L1466.6 688L1466.8 691.1L1467.1 691.1L1467.5 694.2L1467.8 694.2L1468.2 697.2L1468.6 700.3L1469 700.3L1469.3 703.4L1469.5 706.4L1469.7 706.4L1469.9 709.5L1470.1 712.6L1470.4 712.6L1470.9 715.6L1471.3 718.7L1471.8 718.7L1472.3 721.8L1472.6 721.8L1472.9 724.8L1473 727.9L1473.1 727.9L1473.3 731L1473.5 734L1473.9 734L1474.4 737.1L1474.8 740.2L1475.1 740.2L1475.4 743.2L1475.6 743.2L1475.8 746.3L1475.9 746.3L1476 749.4L1476.2 752.4L1476.4 752.4L1476.6 755.5L1476.9 755.5L1477.2 758.6L1477.5 761.6L1477.7 761.6L1477.8 764.7L1477.9 764.7L1478 767.8L1478.2 770.8L1478.4 770.8L1478.8 773.9L1479.2 773.9L1479.6 777L1479.9 780L1480.1 780L1480.3 783.1L1480.3 786.2L1480.3 786.2L1480.4 789.2L1480.5 792.3L1480.8 792.3L1481.1 795.4L1481.4 798.4L1481.8 798.4L1482 801.5L1482.2 804.6L1482.3 804.6L1482.4 807.6L1482.6 810.7L1482.8 810.7L1483.1 813.8L1483.5 816.8L1483.9 819.9L1484.2 819.9L1484.4 823L1484.5 826L1484.5 826L1484.5 831L1479.5 831L1479.5 831L1479.4 828L1479.2 824.9L1478.9 824.9L1478.5 821.8L1478.1 818.8L1477.8 815.7L1477.6 815.7L1477.4 812.6L1477.3 809.6L1477.2 809.6L1477 806.5L1476.8 803.4L1476.4 803.4L1476.1 800.4L1475.8 797.3L1475.5 797.3L1475.4 794.2L1475.3 791.2L1475.3 791.2L1475.3 788.1L1475.1 785L1474.9 785L1474.6 782L1474.2 778.9L1473.8 778.9L1473.4 775.8L1473.2 775.8L1473 772.8L1472.9 769.7L1472.8 769.7L1472.7 766.6L1472.5 766.6L1472.2 763.6L1471.9 760.5L1471.6 760.5L1471.4 757.4L1471.2 757.4L1471 754.4L1470.9 751.3L1470.8 751.3L1470.6 748.2L1470.4 748.2L1470.1 745.2L1469.8 745.2L1469.4 742.1L1468.9 739L1468.5 739L1468.3 736L1468.1 732.9L1468 732.9L1467.9 729.8L1467.6 726.8L1467.3 726.8L1466.8 723.7L1466.3 723.7L1465.9 720.6L1465.4 717.6L1465.1 717.6L1464.9 714.5L1464.7 711.4L1464.5 711.4L1464.3 708.4L1464 705.3L1463.6 705.3L1463.2 702.2L1462.8 699.2L1462.5 699.2L1462.1 696.1L1461.8 696.1L1461.6 693L1461.3 690L1461 690L1460.8 686.9L1460.5 686.9L1460.2 683.8L1460 680.8L1459.7 680.8L1459.4 677.7L1459 674.6L1458.7 674.6L1458.4 671.6L1458.1 668.5L1457.8 668.5L1457.6 665.4L1457.5 662.4L1457.2 662.4L1456.9 659.3L1456.5 656.2L1456 656.2L1455.4 653.2L1455 650.1L1454.6 650.1L1454.4 647L1454.3 644L1454.2 644L1454 640.9L1453.8 637.8L1453.4 637.8L1452.9 634.8L1452.4 631.7L1452 631.7L1451.6 628.6L1451.3 625.6L1451.1 625.6L1450.8 622.5L1450.3 619.4L1449.8 619.4L1449.1 616.4L1448.5 613.3L1448.1 613.3L1447.8 610.2L1447.7 607.1L1447.6 607.1L1447.5 604.1L1447.1 601L1446.6 601L1445.9 597.9L1445.1 594.9L1444.4 594.9L1443.8 591.8L1443.4 591.8L1443.1 588.7L1442.9 585.7L1442.6 585.7L1442.2 582.6L1441.6 579.5L1440.9 579.5L1440.1 576.5L1439.5 573.4L1439.1 573.4L1438.8 570.3L1438.6 567.3L1438.4 567.3L1438.1 564.2L1437.6 561.1L1436.8 561.1L1436 558.1L1435.1 558.1L1434.3 555L1433.7 551.9L1433.3 551.9L1433 548.9L1432.7 545.8L1432.4 545.8L1431.9 542.7L1431.4 539.7L1430.8 539.7L1430.2 536.6L1429.6 533.5L1429.1 533.5L1428.6 530.5L1428 530.5L1427.5 527.4L1426.8 524.3L1426.2 524.3L1425.4 521.3L1424.7 518.2L1424.1 518.2L1423.5 515.1L1423 512.1L1422.5 512.1L1422 509L1421.6 505.9L1421 505.9L1420.4 502.9L1419.8 502.9L1419.1 499.8L1418.4 496.7L1417.7 496.7L1417 493.7L1416.4 490.6L1415.8 490.6L1415.2 487.5L1414.6 484.5L1414 484.5L1413.3 481.4L1412.7 481.4L1412 478.3L1411.3 475.3L1410.7 475.3L1410.1 472.2L1409.6 472.2L1409.1 469.1L1408.5 466.1L1407.9 466.1L1407.1 463L1406.2 459.9L1405.3 459.9L1404.3 456.9L1403.4 456.9L1402.6 453.8L1401.9 450.7L1401.3 450.7L1400.7 447.7L1400.1 444.6L1399.3 444.6L1398.5 441.5L1397.7 438.5L1396.8 438.5L1395.9 435.4L1395 435.4L1394.2 432.3L1393.5 429.3L1392.8 429.3L1392.1 426.2L1391.4 426.2L1390.6 423.1L1389.8 420.1L1388.9 420.1L1387.9 417L1387 417L1386.2 413.9L1385.4 410.9L1384.6 410.9L1383.8 407.8L1383 407.8L1382.2 404.7L1381.3 401.7L1380.4 401.7L1379.4 398.6L1378.4 398.6L1377.4 395.5L1376.4 392.5L1375.5 392.5L1374.5 389.4L1373.5 389.4L1372.5 386.3L1371.4 386.3L1370.2 383.3L1369 380.2L1367.7 380.2L1366.5 377.1L1365.4 377.1L1364.3 374.1L1363.2 374.1L1362.1 371L1360.9 367.9L1359.6 367.9L1358.3 364.9L1357.1 364.9L1355.9 361.8L1354.7 361.8L1353.6 358.7L1352.6 358.7L1351.5 355.7L1350.3 355.7L1348.9 352.6L1347.5 349.5L1346 349.5L1344.5 346.5L1343.1 346.5L1341.9 343.4L1340.8 343.4L1339.6 340.3L1338.5 340.3L1337.1 337.3L1335.7 337.3L1334.1 334.2L1332.5 334.2L1331 331.1L1329.6 331.1L1328.2 328.1L1325.4 328.1L1323.9 325L1322.4 325L1320.8 321.9L1319.2 321.9L1317.5 318.9L1316 318.9L1314.4 315.8L1311.4 315.8L1309.8 312.7L1308.2 312.7L1306.5 309.7L1302.9 309.7L1301.2 306.6L1297.7 306.6L1296 303.5L1292.5 303.5L1290.8 300.4L1285.5 300.4L1283.7 297.4L1278.4 297.4L1276.5 294.3L1268.8 294.3L1266.9 291.2L1259.1 291.2L1257.2 288.2L1247.4 288.2L1245.4 285.1L1237.5 285.1L1235.6 282L1226 282L1224 279L1214.3 279L1212.4 275.9L1202.5 275.9L1200.5 272.8L1188.6 272.8L1186.6 269.8L1172.5 269.8L1170.5 266.7L1148.4 266.7L1146.4 263.6L1117.8 263.6L1115.8 260.6L1091.5 260.6L1089.5 257.5L1069.8 257.5L1067.9 254.4L1050.1 254.4L1048.1 251.4L1026 251.4L1024.1 248.3L996.6 248.3L994.6 245.2L960.4 245.2L958.4 242.2L922 242.2L920 239.1L884.4 239.1L882.4 236L841.6 236L839.5 233L794.2 233L792.2 229.9L736.7 229.9L734.7 226.8L671.8 226.8L669.8 223.8L609.1 223.8L607.1 220.7L548.8 220.7L546.8 217.6L486.4 217.6L484.4 214.6L424.2 214.6L422.2 211.5L360 211.5L358 208.4L293.9 208.4L291.9 205.4L264 205.4L264 200.4ZM1484.5 826L1484.5 831L1484.4 834.1L1479.4 834.1L1479.4 829.1L1479.5 826ZM1484.4 829.1L1484.4 832.2L1484.5 832.2L1484.8 835.2L1485.2 838.3L1485.7 838.3L1486.1 841.4L1486.5 844.4L1486.7 847.5L1486.9 847.5L1486.9 850.6L1487 853.6L1487.2 853.6L1487.4 856.7L1487.6 859.8L1487.8 859.8L1488 862.8L1488.1 865.9L1488.2 865.9L1488.3 869L1488.5 872L1488.8 872L1489.2 875.1L1489.6 878.2L1490 878.2L1490.3 881.2L1490.5 884.3L1490.5 884.3L1490.6 887.4L1490.6 890.4L1490.8 890.4L1491 893.5L1491.2 896.6L1491.5 896.6L1491.7 899.6L1491.9 902.7L1492 902.7L1492.1 905.8L1492.2 908.8L1492.4 908.8L1492.8 911.9L1493.2 915L1493.6 915L1494 918.1L1494.2 918.1L1494.4 921.1L1494.4 924.2L1494.4 924.2L1494.4 929.2L1489.4 929.2L1489.4 929.2L1489.4 926.1L1489.2 923.1L1489 923.1L1488.6 920L1488.2 920L1487.8 916.9L1487.4 913.8L1487.2 913.8L1487.1 910.8L1487 907.7L1486.9 907.7L1486.7 904.6L1486.5 901.6L1486.2 901.6L1486 898.5L1485.8 895.4L1485.6 895.4L1485.6 892.4L1485.5 889.3L1485.5 889.3L1485.3 886.2L1485 883.2L1484.6 883.2L1484.2 880.1L1483.8 877L1483.5 877L1483.3 874L1483.2 870.9L1483.1 870.9L1483 867.8L1482.8 864.8L1482.6 864.8L1482.4 861.7L1482.2 858.6L1482 858.6L1481.9 855.6L1481.9 852.5L1481.7 852.5L1481.5 849.4L1481.1 846.4L1480.7 843.3L1480.2 843.3L1479.8 840.2L1479.5 837.2L1479.4 837.2L1479.4 834.1L1479.4 829.1ZM1494.4 924.2L1494.4 929.2L1494.4 932.3L1489.4 932.3L1489.4 927.3L1489.4 924.2ZM1494.4 927.3L1494.4 930.3L1494.6 930.3L1494.8 933.4L1495.1 936.5L1495.4 936.5L1495.7 939.5L1495.9 942.6L1496.1 942.6L1496.4 945.7L1496.6 948.7L1496.9 948.7L1497.1 951.8L1497.4 954.9L1497.5 954.9L1497.6 957.9L1497.7 961L1497.7 961L1497.8 964.1L1498 964.1L1498.3 967.1L1498.6 970.2L1498.9 970.2L1499.2 973.3L1499.4 976.3L1499.5 976.3L1499.6 979.4L1499.7 982.5L1499.9 982.5L1500.2 985.5L1500.5 988.6L1500.9 988.6L1501.1 991.7L1501.3 994.7L1501.4 994.7L1501.4 997.8L1501.5 1000.9L1501.6 1000.9L1501.8 1003.9L1502.1 1007L1502.4 1007L1502.7 1010.1L1503 1010.1L1503.1 1013.1L1503.3 1016.2L1503.4 1016.2L1503.6 1019.3L1503.8 1022.3L1504.1 1022.3L1504.4 1025.4L1504.6 1028.5L1504.8 1028.5L1504.9 1031.5L1504.9 1034.6L1505.1 1034.6L1505.3 1037.7L1505.6 1040.7L1506 1040.7L1506.3 1043.8L1506.7 1046.9L1506.9 1046.9L1506.9 1049.9L1507 1053L1507 1053L1507.1 1056.1L1507.3 1056.1L1507.6 1059.1L1508.1 1062.2L1508.5 1062.2L1508.9 1065.3L1509.1 1068.3L1509.3 1068.3L1509.3 1071.4L1509.4 1074.5L1509.5 1074.5L1509.8 1077.5L1510.1 1080.6L1510.4 1080.6L1510.7 1083.7L1510.9 1086.7L1511.1 1086.7L1511.2 1089.8L1511.3 1092.9L1511.5 1092.9L1511.8 1095.9L1512.2 1099L1512.6 1099L1512.9 1102.1L1513.2 1105.1L1513.4 1105.1L1513.6 1108.2L1513.7 1111.3L1513.8 1111.3L1514 1114.3L1514.2 1117.4L1514.5 1117.4L1514.8 1120.5L1515.1 1120.5L1515.2 1123.5L1515.4 1126.6L1515.5 1126.6L1515.6 1129.7L1515.8 1132.7L1516.2 1132.7L1516.6 1135.8L1517 1138.9L1517.4 1138.9L1517.7 1141.9L1517.9 1145L1518 1145L1518 1150L1513 1150L1512.9 1150L1512.7 1146.9L1512.4 1143.9L1512 1143.9L1511.6 1140.8L1511.2 1137.7L1510.8 1137.7L1510.6 1134.7L1510.5 1131.6L1510.4 1131.6L1510.2 1128.5L1510.1 1125.5L1509.8 1125.5L1509.5 1122.4L1509.2 1122.4L1509 1119.3L1508.8 1116.3L1508.7 1116.3L1508.6 1113.2L1508.4 1110.1L1508.2 1110.1L1507.9 1107.1L1507.6 1104L1507.2 1104L1506.8 1100.9L1506.5 1097.9L1506.3 1097.9L1506.2 1094.8L1506.1 1091.7L1505.9 1091.7L1505.7 1088.7L1505.4 1085.6L1505.1 1085.6L1504.8 1082.5L1504.5 1079.5L1504.4 1079.5L1504.3 1076.4L1504.3 1073.3L1504.1 1073.3L1503.9 1070.3L1503.5 1067.2L1503.1 1067.2L1502.6 1064.1L1502.3 1061.1L1502.1 1061.1L1502 1058L1502 1058L1501.9 1054.9L1501.9 1051.9L1501.7 1051.9L1501.3 1048.8L1501 1045.7L1500.6 1045.7L1500.3 1042.7L1500.1 1039.6L1499.9 1039.6L1499.9 1036.5L1499.8 1033.5L1499.6 1033.5L1499.4 1030.4L1499.1 1027.3L1498.8 1027.3L1498.6 1024.3L1498.4 1021.2L1498.3 1021.2L1498.1 1018.1L1498 1015.1L1497.7 1015.1L1497.4 1012L1497.1 1012L1496.8 1008.9L1496.6 1005.9L1496.5 1005.9L1496.4 1002.8L1496.4 999.7L1496.3 999.7L1496.1 996.7L1495.9 993.6L1495.5 993.6L1495.2 990.5L1494.9 987.5L1494.7 987.5L1494.6 984.4L1494.5 981.3L1494.4 981.3L1494.2 978.3L1493.9 975.2L1493.6 975.2L1493.3 972.1L1493 969.1L1492.8 969.1L1492.7 966L1492.7 966L1492.6 962.9L1492.5 959.9L1492.4 959.9L1492.1 956.8L1491.9 953.7L1491.6 953.7L1491.4 950.7L1491.1 947.6L1490.9 947.6L1490.7 944.5L1490.4 941.5L1490.1 941.5L1489.8 938.4L1489.6 935.3L1489.4 935.3L1489.4 932.3L1489.4 927.3ZM1518 1145L1518 1150L1518 1153.1L1518 1156.1L1517.9 1156.1L1512.9 1156.1L1512.9 1151.1L1513 1151.1L1513 1148.1L1513 1145ZM1517.9 1151.1L1518 1154.2L1518.2 1157.3L1518.5 1157.3L1518.9 1160.3L1519.3 1160.3L1519.6 1163.4L1519.9 1166.5L1520.2 1166.5L1520.3 1169.5L1520.4 1172.6L1520.5 1172.6L1520.7 1175.7L1520.9 1178.7L1521.1 1178.7L1521.3 1181.8L1521.5 1184.9L1521.6 1184.9L1521.7 1187.9L1521.7 1191L1521.8 1191L1521.9 1194.1L1522 1197.1L1522.3 1197.1L1522.6 1200.2L1523 1203.3L1523.3 1203.3L1523.5 1206.3L1523.7 1209.4L1523.8 1209.4L1523.8 1212.5L1523.8 1215.5L1523.9 1215.5L1524 1218.6L1524.2 1221.7L1524.4 1221.7L1524.5 1224.8L1524.5 1224.8L1524.6 1227.8L1524.7 1230.9L1524.8 1230.9L1525 1234L1525.3 1237L1525.7 1237L1526 1240.1L1526.3 1243.2L1526.4 1243.2L1526.4 1246.2L1526.4 1251.2L1521.4 1251.2L1521.4 1248.2L1521.3 1248.2L1521 1245.1L1520.7 1242L1520.3 1242L1520 1239L1519.8 1235.9L1519.7 1235.9L1519.6 1232.8L1519.5 1229.8L1519.5 1229.8L1519.4 1226.7L1519.2 1226.7L1519 1223.6L1518.9 1220.5L1518.8 1220.5L1518.8 1217.5L1518.8 1214.4L1518.7 1214.4L1518.5 1211.3L1518.3 1208.3L1518 1208.3L1517.6 1205.2L1517.3 1202.1L1517 1202.1L1516.9 1199.1L1516.8 1196L1516.7 1196L1516.7 1192.9L1516.6 1189.9L1516.5 1189.9L1516.3 1186.8L1516.1 1183.7L1515.9 1183.7L1515.7 1180.7L1515.5 1177.6L1515.4 1177.6L1515.3 1174.5L1515.2 1171.5L1514.9 1171.5L1514.6 1168.4L1514.3 1165.3L1513.9 1165.3L1513.5 1162.3L1513.2 1162.3L1513 1159.2L1512.9 1156.1L1512.9 1151.1ZM1526.4 1246.2L1526.4 1251.2L1526.4 1254.3L1526.3 1254.3L1526.2 1257.4L1521.2 1257.4L1521.2 1252.4L1521.3 1249.3L1521.4 1249.3L1521.4 1246.2ZM1526.2 1252.4L1526.2 1255.4L1526.4 1255.4L1526.6 1258.5L1526.8 1261.6L1527.1 1261.6L1527.3 1264.6L1527.5 1267.7L1527.6 1267.7L1527.8 1270.8L1527.9 1273.8L1528 1273.8L1528.1 1276.9L1528.2 1280L1528.4 1280L1528.5 1283L1528.6 1283L1528.8 1286.1L1528.9 1289.2L1529.1 1289.2L1529.2 1292.2L1529.3 1295.3L1529.3 1295.3L1529.4 1298.4L1529.5 1301.4L1529.6 1301.4L1529.9 1304.5L1530.2 1307.6L1530.5 1307.6L1530.8 1310.6L1531 1313.7L1531.1 1313.7L1531.1 1318.7L1526.1 1318.7L1526 1318.7L1525.8 1315.6L1525.5 1312.6L1525.2 1312.6L1524.9 1309.5L1524.6 1306.4L1524.5 1306.4L1524.4 1303.4L1524.3 1300.3L1524.3 1300.3L1524.2 1297.2L1524.1 1294.2L1523.9 1294.2L1523.8 1291.1L1523.6 1288L1523.5 1288L1523.4 1285L1523.2 1285L1523.1 1281.9L1523 1278.8L1522.9 1278.8L1522.8 1275.8L1522.6 1272.7L1522.5 1272.7L1522.3 1269.6L1522.1 1266.6L1521.8 1266.6L1521.6 1263.5L1521.4 1260.4L1521.2 1260.4L1521.2 1257.4L1521.2 1252.4ZM1531.1 1313.7L1531.1 1318.7L1531.1 1321.8L1531.1 1324.8L1531 1324.8L1526 1324.8L1526 1319.8L1526.1 1319.8L1526.1 1316.8L1526.1 1313.7ZM1531 1319.8L1531.1 1322.9L1531.3 1326L1531.6 1326L1531.9 1329L1532.3 1332.1L1532.5 1332.1L1532.6 1335.2L1532.6 1340.2L1527.6 1340.2L1527.5 1337.1L1527.3 1337.1L1526.9 1334L1526.6 1331L1526.3 1331L1526.1 1327.9L1526 1324.8L1526 1319.8ZM1532.6 1335.2L1532.6 1340.2L1532.6 1343.2L1532.5 1343.2L1527.5 1343.2L1527.5 1338.2L1527.6 1338.2L1527.6 1335.2ZM1532.5 1338.2L1532.6 1341.3L1532.7 1344.4L1533 1344.4L1533.4 1347.4L1533.7 1350.5L1533.9 1350.5L1534 1353.6L1534 1358.6L1529 1358.6L1528.9 1355.5L1528.7 1355.5L1528.4 1352.4L1528 1349.4L1527.7 1349.4L1527.6 1346.3L1527.5 1343.2L1527.5 1338.2ZM1534 1353.6L1534 1358.6L1533.9 1361.6L1533.9 1361.6L1528.9 1361.6L1528.9 1356.6L1528.9 1356.6L1529 1353.6ZM1533.9 1356.6L1533.9 1359.7L1534.1 1362.8L1534.5 1362.8L1534.9 1365.8L1535.3 1368.9L1535.5 1368.9L1535.6 1372L1535.6 1377L1530.6 1377L1530.5 1373.9L1530.3 1373.9L1529.9 1370.8L1529.5 1367.8L1529.1 1367.8L1528.9 1364.7L1528.9 1361.6L1528.9 1356.6ZM1535.6 1372L1535.6 1377L1535.5 1380L1535.3 1380L1535.2 1383.1L1530.2 1383.1L1530.2 1378.1L1530.3 1375L1530.5 1375L1530.6 1372ZM1535.2 1378.1L1535.3 1381.2L1535.6 1381.2L1536 1384.2L1536.6 1387.3L1537 1387.3L1537.3 1390.4L1537.4 1393.4L1537.3 1393.4L1537.3 1398.4L1532.3 1398.4L1532.4 1398.4L1532.3 1395.4L1532 1392.3L1531.6 1392.3L1531 1389.2L1530.6 1386.2L1530.3 1386.2L1530.2 1383.1L1530.2 1378.1ZM1537.3 1393.4L1537.3 1398.4L1537.2 1401.5L1537.1 1404.6L1537.2 1404.6L1532.2 1404.6L1532.2 1399.6L1532.1 1399.6L1532.2 1396.5L1532.3 1393.4ZM1537.2 1399.6L1537.5 1402.6L1537.9 1405.7L1538.3 1405.7L1538.7 1408.8L1538.9 1411.8L1539 1411.8L1539 1416.8L1534 1416.8L1533.9 1416.8L1533.7 1413.8L1533.3 1410.7L1532.9 1410.7L1532.5 1407.6L1532.2 1404.6L1532.2 1399.6ZM1539 1411.8L1539 1416.8L1539 1419.9L1539 1419.9L1534 1419.9L1534 1414.9L1534 1414.9L1534 1411.8ZM1539 1414.9L1539 1418L1539.1 1421L1539.3 1421L1539.7 1424.1L1540.1 1424.1L1540.5 1427.2L1540.9 1430.2L1541.2 1430.2L1541.4 1433.3L1541.6 1433.3L1541.7 1436.4L1541.8 1439.4L1542.1 1442.5L1542.4 1442.5L1542.7 1445.6L1543.1 1448.6L1543.5 1448.6L1543.9 1451.7L1544.3 1454.8L1544.7 1454.8L1545.1 1457.8L1545.6 1460.9L1546 1460.9L1546.5 1464L1546.9 1467L1547.3 1467L1547.6 1470.1L1547.9 1473.2L1548.2 1473.2L1548.4 1476.2L1548.7 1476.2L1549 1479.3L1549.4 1482.4L1549.9 1485.4L1550.4 1485.4L1551 1488.5L1551.6 1491.6L1552.1 1491.6L1552.6 1494.6L1553 1497.7L1553.4 1497.7L1553.8 1500.8L1554.4 1503.8L1555.1 1503.8L1556 1506.9L1557 1506.9L1558.1 1510L1558.1 1515L1553.1 1515L1552 1511.9L1551 1511.9L1550.1 1508.8L1549.4 1508.8L1548.8 1505.8L1548.4 1502.7L1548 1502.7L1547.6 1499.6L1547.1 1496.6L1546.6 1496.6L1546 1493.5L1545.4 1490.4L1544.9 1490.4L1544.4 1487.4L1544 1484.3L1543.7 1481.2L1543.4 1481.2L1543.2 1478.2L1542.9 1478.2L1542.6 1475.1L1542.3 1472L1541.9 1472L1541.5 1469L1541 1465.9L1540.6 1465.9L1540.1 1462.8L1539.7 1459.8L1539.3 1459.8L1538.9 1456.7L1538.5 1453.6L1538.1 1453.6L1537.7 1450.6L1537.4 1447.5L1537.1 1447.5L1536.8 1444.4L1536.7 1441.4L1536.6 1438.3L1536.4 1438.3L1536.2 1435.2L1535.9 1435.2L1535.5 1432.2L1535.1 1429.1L1534.7 1429.1L1534.3 1426L1534.1 1426L1534 1423L1534 1419.9L1534 1414.9ZM1553.1 1510L1554.6 1506.9L1556 1506.9L1557.1 1503.8L1558 1503.8L1559 1500.8L1559.8 1497.7L1560.4 1497.7L1561.1 1494.6L1561.8 1494.6L1562.6 1491.6L1563.3 1491.6L1563.9 1488.5L1564.3 1485.4L1564.6 1482.4L1564.7 1482.4L1564.9 1479.3L1565.1 1476.2L1565.4 1476.2L1565.7 1473.2L1566.2 1473.2L1566.7 1470.1L1567.2 1467L1567.7 1467L1568 1464L1568.3 1460.9L1568.5 1460.9L1568.8 1457.8L1569 1454.8L1569.3 1454.8L1569.6 1451.7L1569.9 1448.6L1570.2 1445.6L1570.5 1445.6L1570.7 1442.5L1570.8 1439.4L1570.9 1439.4L1571.1 1436.4L1571.4 1433.3L1571.7 1433.3L1572.1 1430.2L1572.5 1427.2L1572.9 1427.2L1573.1 1424.1L1573.3 1421L1573.4 1421L1573.4 1418L1573.5 1414.9L1573.7 1414.9L1574 1411.8L1574.3 1408.8L1574.6 1408.8L1574.8 1405.7L1575 1402.6L1575 1402.6L1575 1399.6L1575.1 1396.5L1575.3 1396.5L1575.6 1393.4L1576 1390.4L1576.5 1390.4L1576.9 1387.3L1577.1 1384.2L1577.1 1384.2L1582.1 1384.2L1582.1 1389.2L1582.1 1389.2L1581.9 1392.3L1581.5 1395.4L1581 1395.4L1580.6 1398.4L1580.3 1401.5L1580.1 1401.5L1580 1404.6L1580 1407.6L1580 1407.6L1579.8 1410.7L1579.6 1413.8L1579.3 1413.8L1579 1416.8L1578.7 1419.9L1578.5 1419.9L1578.4 1423L1578.4 1426L1578.3 1426L1578.1 1429.1L1577.9 1432.2L1577.5 1432.2L1577.1 1435.2L1576.7 1438.3L1576.4 1438.3L1576.1 1441.4L1575.9 1444.4L1575.8 1444.4L1575.7 1447.5L1575.5 1450.6L1575.2 1450.6L1574.9 1453.6L1574.6 1456.7L1574.3 1459.8L1574 1459.8L1573.8 1462.8L1573.5 1465.9L1573.3 1465.9L1573 1469L1572.7 1472L1572.2 1472L1571.7 1475.1L1571.2 1478.2L1570.7 1478.2L1570.4 1481.2L1570.1 1481.2L1569.9 1484.3L1569.7 1487.4L1569.6 1487.4L1569.3 1490.4L1568.9 1493.5L1568.3 1496.6L1567.6 1496.6L1566.8 1499.6L1566.1 1499.6L1565.4 1502.7L1564.8 1502.7L1564 1505.8L1563 1508.8L1562.1 1508.8L1561 1511.9L1559.6 1511.9L1558.1 1515L1553.1 1515ZM1582.1 1389.2L1577.1 1389.2L1577 1386.2L1576.9 1383.1L1576.9 1383.1L1576.9 1378.1L1581.9 1378.1L1581.9 1378.1L1582 1381.2L1582.1 1384.2ZM1576.9 1378.1L1577 1375L1577.3 1372L1577.7 1372L1578.1 1368.9L1578.6 1368.9L1578.8 1365.8L1578.9 1362.8L1578.9 1362.8L1583.9 1362.8L1583.9 1367.8L1583.9 1367.8L1583.8 1370.8L1583.6 1373.9L1583.1 1373.9L1582.7 1377L1582.3 1377L1582 1380L1581.9 1383.1L1576.9 1383.1ZM1583.9 1367.8L1578.9 1367.8L1578.8 1364.7L1578.8 1361.6L1578.9 1361.6L1578.9 1356.6L1583.9 1356.6L1583.8 1356.6L1583.8 1359.7L1583.9 1362.8ZM1578.9 1356.6L1579.1 1353.6L1579.4 1350.5L1579.8 1350.5L1580.2 1347.4L1580.4 1344.4L1580.5 1344.4L1580.5 1341.3L1580.6 1338.2L1580.6 1338.2L1580.8 1335.2L1581.1 1332.1L1581.4 1329L1581.7 1329L1581.8 1326L1581.8 1322.9L1581.8 1322.9L1581.8 1319.8L1581.9 1316.8L1582.1 1316.8L1582.3 1313.7L1582.6 1313.7L1582.8 1310.6L1583 1307.6L1583.1 1307.6L1583.2 1304.5L1583.2 1304.5L1583.3 1301.4L1583.4 1298.4L1583.5 1298.4L1583.7 1295.3L1583.9 1292.2L1584.1 1292.2L1584.1 1289.2L1584.2 1289.2L1589.2 1289.2L1589.2 1294.2L1589.1 1294.2L1589.1 1297.2L1588.9 1297.2L1588.7 1300.3L1588.5 1303.4L1588.4 1303.4L1588.3 1306.4L1588.2 1309.5L1588.2 1309.5L1588.1 1312.6L1588 1312.6L1587.8 1315.6L1587.6 1318.7L1587.3 1318.7L1587.1 1321.8L1586.9 1321.8L1586.8 1324.8L1586.8 1327.9L1586.8 1327.9L1586.8 1331L1586.7 1334L1586.4 1334L1586.1 1337.1L1585.8 1340.2L1585.6 1343.2L1585.6 1343.2L1585.5 1346.3L1585.5 1349.4L1585.4 1349.4L1585.2 1352.4L1584.8 1355.5L1584.4 1355.5L1584.1 1358.6L1583.9 1361.6L1578.9 1361.6ZM1589.2 1294.2L1584.2 1294.2L1584.1 1291.1L1584.1 1288L1584.2 1288L1584.2 1283L1589.2 1283L1589.1 1283L1589.1 1286.1L1589.2 1289.2ZM1584.2 1283L1584.3 1280L1584.5 1276.9L1584.7 1276.9L1585 1273.8L1585.2 1270.8L1585.4 1270.8L1585.5 1267.7L1585.6 1264.6L1585.7 1264.6L1585.8 1261.6L1585.8 1258.5L1585.9 1258.5L1585.9 1255.4L1590.9 1255.4L1590.9 1260.4L1590.9 1263.5L1590.8 1263.5L1590.8 1266.6L1590.7 1269.6L1590.6 1269.6L1590.5 1272.7L1590.4 1275.8L1590.2 1275.8L1590 1278.8L1589.7 1281.9L1589.5 1281.9L1589.3 1285L1589.2 1288L1584.2 1288ZM1590.9 1260.4L1585.9 1260.4L1585.9 1257.4L1585.9 1257.4L1585.9 1252.4L1590.9 1252.4L1590.9 1252.4L1590.9 1255.4ZM1585.9 1252.4L1585.9 1249.3L1586 1246.2L1586.3 1246.2L1586.6 1243.2L1586.9 1240.1L1587.2 1240.1L1587.4 1237L1587.5 1234L1587.5 1234L1592.5 1234L1592.5 1239L1592.5 1239L1592.4 1242L1592.2 1245.1L1591.9 1245.1L1591.6 1248.2L1591.3 1251.2L1591 1251.2L1590.9 1254.3L1590.9 1257.4L1585.9 1257.4ZM1592.5 1239L1587.5 1239L1587.4 1235.9L1587.4 1232.8L1587.5 1232.8L1587.5 1227.8L1592.5 1227.8L1592.4 1227.8L1592.4 1230.9L1592.5 1234ZM1587.5 1227.8L1587.6 1224.8L1587.8 1221.7L1588 1221.7L1588.1 1218.6L1588.2 1215.5L1588.2 1215.5L1593.2 1215.5L1593.2 1220.5L1593.2 1220.5L1593.1 1223.6L1593 1226.7L1592.8 1226.7L1592.6 1229.8L1592.5 1232.8L1587.5 1232.8ZM1593.2 1220.5L1588.2 1220.5L1588.2 1217.5L1588.2 1212.5L1593.2 1212.5L1593.2 1215.5ZM1588.2 1212.5L1588.2 1209.4L1588.4 1209.4L1588.7 1206.3L1589 1203.3L1589.3 1203.3L1589.6 1200.2L1589.8 1197.1L1589.8 1197.1L1594.8 1197.1L1594.8 1202.1L1594.8 1202.1L1594.6 1205.2L1594.3 1208.3L1594 1208.3L1593.7 1211.3L1593.4 1214.4L1593.2 1214.4L1593.2 1217.5L1588.2 1217.5ZM1594.8 1202.1L1589.8 1202.1L1589.8 1199.1L1589.8 1196L1589.8 1196L1589.8 1191L1594.8 1191L1594.8 1191L1594.8 1194.1L1594.8 1197.1ZM1589.8 1191L1589.8 1187.9L1589.9 1184.9L1590.1 1184.9L1590.2 1181.8L1590.4 1178.7L1590.5 1178.7L1590.6 1175.7L1590.8 1172.6L1591 1172.6L1591.3 1169.5L1591.6 1166.5L1591.9 1166.5L1592.1 1163.4L1592.2 1160.3L1592.2 1160.3L1597.2 1160.3L1597.2 1165.3L1597.2 1165.3L1597.1 1168.4L1596.9 1171.5L1596.6 1171.5L1596.3 1174.5L1596 1177.6L1595.8 1177.6L1595.6 1180.7L1595.5 1183.7L1595.4 1183.7L1595.2 1186.8L1595.1 1189.9L1594.9 1189.9L1594.8 1192.9L1594.8 1196L1589.8 1196ZM1597.2 1165.3L1592.2 1165.3L1592.2 1162.3L1592.1 1159.2L1592.1 1159.2L1592.1 1154.2L1597.1 1154.2L1597.1 1154.2L1597.2 1157.3L1597.2 1160.3ZM1592.1 1154.2L1592.1 1151.1L1592.3 1151.1L1592.5 1148.1L1592.8 1145L1593.1 1145L1593.4 1141.9L1593.6 1138.9L1593.7 1138.9L1593.8 1135.8L1593.9 1132.7L1594 1132.7L1594.2 1129.7L1594.4 1126.6L1594.6 1126.6L1594.8 1123.5L1595 1120.5L1595.1 1120.5L1595.1 1117.4L1595.2 1114.3L1595.2 1114.3L1595.3 1111.3L1595.5 1108.2L1595.7 1108.2L1596 1105.1L1596.3 1105.1L1596.5 1102.1L1596.8 1099L1596.9 1099L1597.1 1095.9L1597.1 1092.9L1597.2 1092.9L1597.3 1089.8L1597.5 1086.7L1597.6 1086.7L1597.8 1083.7L1598 1080.6L1598.1 1080.6L1598.2 1077.5L1598.4 1074.5L1598.5 1074.5L1598.7 1071.4L1599 1068.3L1599.2 1068.3L1599.5 1065.3L1599.8 1062.2L1599.9 1062.2L1600 1059.1L1600 1056.1L1600 1056.1L1600.1 1053L1600.2 1053L1600.5 1049.9L1600.8 1046.9L1601.2 1046.9L1601.5 1043.8L1601.7 1040.7L1601.8 1040.7L1606.8 1040.7L1606.8 1045.7L1606.7 1045.7L1606.5 1048.8L1606.2 1051.9L1605.8 1051.9L1605.5 1054.9L1605.2 1058L1605.1 1058L1605 1061.1L1605 1061.1L1605 1064.1L1604.9 1067.2L1604.8 1067.2L1604.5 1070.3L1604.2 1073.3L1604 1073.3L1603.7 1076.4L1603.5 1079.5L1603.4 1079.5L1603.2 1082.5L1603.1 1085.6L1603 1085.6L1602.8 1088.7L1602.6 1091.7L1602.5 1091.7L1602.3 1094.8L1602.2 1097.9L1602.1 1097.9L1602.1 1100.9L1601.9 1104L1601.8 1104L1601.5 1107.1L1601.3 1110.1L1601 1110.1L1600.7 1113.2L1600.5 1113.2L1600.3 1116.3L1600.2 1119.3L1600.2 1119.3L1600.1 1122.4L1600.1 1125.5L1600 1125.5L1599.8 1128.5L1599.6 1131.6L1599.4 1131.6L1599.2 1134.7L1599 1137.7L1598.9 1137.7L1598.8 1140.8L1598.7 1143.9L1598.6 1143.9L1598.4 1146.9L1598.1 1150L1597.8 1150L1597.5 1153.1L1597.3 1156.1L1597.1 1156.1L1597.1 1159.2L1592.1 1159.2ZM1606.8 1045.7L1601.8 1045.7L1601.7 1042.7L1601.7 1039.6L1601.7 1039.6L1601.7 1034.6L1606.7 1034.6L1606.7 1034.6L1606.7 1037.7L1606.8 1040.7ZM1601.7 1034.6L1601.9 1031.5L1602.1 1028.5L1602.5 1028.5L1602.8 1025.4L1603.2 1022.3L1603.4 1022.3L1603.5 1019.3L1603.5 1016.2L1603.5 1016.2L1603.6 1013.1L1603.8 1010.1L1604.1 1010.1L1604.4 1007L1604.7 1007L1605 1003.9L1605.1 1000.9L1605.2 1000.9L1605.3 997.8L1605.3 994.7L1605.5 994.7L1605.7 991.7L1606 988.6L1606.3 988.6L1606.5 985.5L1606.8 982.5L1606.9 982.5L1607.1 979.4L1607.3 976.3L1607.5 976.3L1607.7 973.3L1608 970.2L1608.2 970.2L1608.4 967.1L1608.5 964.1L1608.6 964.1L1608.6 961L1608.7 961L1608.8 957.9L1609.1 954.9L1609.4 954.9L1609.7 951.8L1610.1 948.7L1610.4 948.7L1610.6 945.7L1610.8 942.6L1611 942.6L1611.2 939.5L1611.3 936.5L1611.5 936.5L1611.6 933.4L1611.7 930.3L1611.7 930.3L1611.8 927.3L1612 924.2L1612.2 924.2L1612.5 921.1L1612.8 918.1L1613.2 918.1L1613.5 915L1613.7 915L1613.8 911.9L1613.9 908.8L1614 908.8L1614.1 905.8L1614.3 902.7L1614.6 902.7L1614.9 899.6L1615.2 896.6L1615.3 896.6L1615.4 893.5L1620.4 893.5L1620.4 898.5L1620.3 901.6L1620.2 901.6L1619.9 904.6L1619.6 907.7L1619.3 907.7L1619.1 910.8L1619 913.8L1618.9 913.8L1618.8 916.9L1618.7 920L1618.5 920L1618.2 923.1L1617.8 923.1L1617.5 926.1L1617.2 929.2L1617 929.2L1616.8 932.3L1616.7 935.3L1616.7 935.3L1616.6 938.4L1616.5 941.5L1616.3 941.5L1616.2 944.5L1616 947.6L1615.8 947.6L1615.6 950.7L1615.4 953.7L1615.1 953.7L1614.7 956.8L1614.4 959.9L1614.1 959.9L1613.8 962.9L1613.7 966L1613.6 966L1613.6 969.1L1613.5 969.1L1613.4 972.1L1613.2 975.2L1613 975.2L1612.7 978.3L1612.5 981.3L1612.3 981.3L1612.1 984.4L1611.9 987.5L1611.8 987.5L1611.5 990.5L1611.3 993.6L1611 993.6L1610.7 996.7L1610.5 999.7L1610.3 999.7L1610.3 1002.8L1610.2 1005.9L1610.1 1005.9L1610 1008.9L1609.7 1012L1609.4 1012L1609.1 1015.1L1608.8 1015.1L1608.6 1018.1L1608.5 1021.2L1608.5 1021.2L1608.5 1024.3L1608.4 1027.3L1608.2 1027.3L1607.8 1030.4L1607.5 1033.5L1607.1 1033.5L1606.9 1036.5L1606.7 1039.6L1601.7 1039.6ZM1620.4 898.5L1615.4 898.5L1615.3 895.4L1615.2 895.4L1615.2 890.4L1620.2 890.4L1620.3 890.4L1620.4 893.5ZM1615.2 890.4L1615.2 887.4L1615.4 884.3L1615.7 884.3L1616.2 881.2L1616.7 878.2L1617.2 878.2L1617.5 875.1L1617.6 872L1617.5 872L1622.5 872L1622.5 877L1622.6 877L1622.5 880.1L1622.2 883.2L1621.7 883.2L1621.2 886.2L1620.7 889.3L1620.4 889.3L1620.2 892.4L1620.2 895.4L1615.2 895.4ZM1622.5 877L1617.5 877L1617.3 874L1617.3 870.9L1617.3 870.9L1617.3 865.9L1622.3 865.9L1622.3 865.9L1622.3 869L1622.5 872ZM1617.3 865.9L1617.5 862.8L1617.8 859.8L1618.1 859.8L1618.3 856.7L1618.4 853.6L1618.5 853.6L1618.5 850.6L1618.6 847.5L1618.8 847.5L1619.2 844.4L1619.6 841.4L1619.9 838.3L1620.2 838.3L1620.2 835.2L1625.2 835.2L1625.2 840.2L1625.2 843.3L1624.9 843.3L1624.6 846.4L1624.2 849.4L1623.8 852.5L1623.6 852.5L1623.5 855.6L1623.5 858.6L1623.4 858.6L1623.3 861.7L1623.1 864.8L1622.8 864.8L1622.5 867.8L1622.3 870.9L1617.3 870.9ZM1625.2 840.2L1620.2 840.2L1620.1 837.2L1620 837.2L1619.9 834.1L1619.9 829.1L1624.9 829.1L1625 832.2L1625.1 832.2L1625.2 835.2ZM1619.9 829.1L1619.9 826L1620.1 826L1620.5 823L1620.8 819.9L1621.1 819.9L1621.3 816.8L1621.4 813.8L1621.4 810.7L1621.4 810.7L1621.5 807.6L1621.7 804.6L1622 804.6L1622.4 801.5L1622.7 798.4L1622.9 798.4L1622.9 795.4L1627.9 795.4L1627.9 800.4L1627.9 803.4L1627.7 803.4L1627.4 806.5L1627 809.6L1626.7 809.6L1626.5 812.6L1626.4 815.7L1626.4 815.7L1626.4 818.8L1626.3 821.8L1626.1 824.9L1625.8 824.9L1625.5 828L1625.1 831L1624.9 831L1624.9 834.1L1619.9 834.1ZM1627.9 800.4L1622.9 800.4L1622.9 797.3L1622.8 797.3L1622.7 794.2L1622.7 789.2L1627.7 789.2L1627.8 792.3L1627.9 792.3L1627.9 795.4ZM1622.7 789.2L1622.8 786.2L1622.9 786.2L1623.2 783.1L1623.6 780L1624 780L1624.3 777L1624.6 773.9L1624.8 773.9L1624.8 770.8L1624.8 770.8L1629.8 770.8L1629.8 775.8L1629.8 775.8L1629.8 778.9L1629.6 778.9L1629.3 782L1629 785L1628.6 785L1628.2 788.1L1627.9 791.2L1627.8 791.2L1627.7 794.2L1622.7 794.2ZM1629.8 775.8L1624.8 775.8L1624.8 772.8L1624.8 767.8L1629.8 767.8L1629.8 770.8ZM1624.8 767.8L1624.8 764.7L1625 764.7L1625.1 761.6L1625.4 761.6L1625.7 758.6L1626 755.5L1626.2 755.5L1626.4 752.4L1626.6 752.4L1626.7 749.4L1626.8 746.3L1626.9 746.3L1627.1 743.2L1627.3 743.2L1627.5 740.2L1627.8 740.2L1628.1 737.1L1628.4 734L1628.7 734L1629 731L1629.2 727.9L1629.5 727.9L1629.8 724.8L1630.1 721.8L1630.6 721.8L1631 718.7L1631.4 718.7L1631.8 715.6L1632.2 712.6L1632.5 712.6L1632.7 709.5L1633 706.4L1633.3 706.4L1633.7 703.4L1634.1 700.3L1634.5 700.3L1635 697.2L1635.3 694.2L1635.6 694.2L1635.8 691.1L1636 691.1L1636.2 688L1636.4 685L1636.7 685L1637 681.9L1637.3 681.9L1637.6 678.8L1637.9 675.8L1638.1 675.8L1638.4 672.7L1638.5 669.6L1638.7 669.6L1638.8 666.6L1639 663.5L1639.2 663.5L1639.5 660.4L1639.8 657.4L1640.3 657.4L1640.7 654.3L1641.1 651.2L1641.5 651.2L1641.7 648.2L1641.8 645.1L1641.8 645.1L1641.8 642L1641.9 639L1642.2 639L1642.6 635.9L1643.1 632.8L1643.6 632.8L1644.1 629.8L1644.4 626.7L1644.7 626.7L1644.9 623.6L1645.1 620.6L1645.4 620.6L1645.8 617.5L1646.3 614.4L1646.9 614.4L1647.5 611.4L1647.9 608.3L1648.2 608.3L1648.3 605.2L1648.5 602.1L1648.8 602.1L1649.3 599.1L1650 596L1650.8 592.9L1651.6 592.9L1652.2 589.9L1652.7 586.8L1653.1 586.8L1653.4 583.7L1653.9 580.7L1654.5 577.6L1655.2 577.6L1656 574.5L1656.6 571.5L1657.1 571.5L1657.5 568.4L1657.8 568.4L1658.3 565.3L1658.9 562.3L1659.6 562.3L1660.5 559.2L1661.5 559.2L1662.5 556.1L1663.4 553.1L1664.1 553.1L1664.7 550L1665.8 550L1666.3 546.9L1667.4 546.9L1668.8 543.9L1670.4 543.9L1672.1 540.8L1673.8 537.7L1675.3 537.7L1676.3 534.7L1677.2 534.7L1678.1 531.6L1678.9 531.6L1679.9 528.5L1680.9 525.5L1681.9 525.5L1683 522.4L1684 519.3L1686.1 519.3L1687.8 516.3L1691.9 516.3L1694 513.2L1702 513.2L1704 510.1L1712 510.1L1714 507.1L1730 507.1L1732 504L1768 504L1770 500.9L2016 500.9L2021 500.9L2021 505.9L1775 505.9L1773 509L1737 509L1735 512.1L1719 512.1L1717 515.1L1709 515.1L1707 518.2L1699 518.2L1696.9 521.3L1692.8 521.3L1691.1 524.3L1689 524.3L1688 527.4L1686.9 530.5L1685.9 530.5L1684.9 533.5L1683.9 536.6L1683.1 536.6L1682.2 539.7L1681.3 539.7L1680.3 542.7L1678.8 542.7L1677.1 545.8L1675.4 548.9L1673.8 548.9L1672.4 551.9L1671.3 551.9L1670.8 555L1669.7 555L1669.1 558.1L1668.4 558.1L1667.5 561.1L1666.5 564.2L1665.5 564.2L1664.6 567.3L1663.9 567.3L1663.3 570.3L1662.8 573.4L1662.5 573.4L1662.1 576.5L1661.6 576.5L1661 579.5L1660.2 582.6L1659.5 582.6L1658.9 585.7L1658.4 588.7L1658.1 591.8L1657.7 591.8L1657.2 594.9L1656.6 597.9L1655.8 597.9L1655 601L1654.3 604.1L1653.8 607.1L1653.5 607.1L1653.3 610.2L1653.2 613.3L1652.9 613.3L1652.5 616.4L1651.9 619.4L1651.3 619.4L1650.8 622.5L1650.4 625.6L1650.1 625.6L1649.9 628.6L1649.7 631.7L1649.4 631.7L1649.1 634.8L1648.6 637.8L1648.1 637.8L1647.6 640.9L1647.2 644L1646.9 644L1646.8 647L1646.8 650.1L1646.8 650.1L1646.7 653.2L1646.5 656.2L1646.1 656.2L1645.7 659.3L1645.3 662.4L1644.8 662.4L1644.5 665.4L1644.2 668.5L1644 668.5L1643.8 671.6L1643.7 674.6L1643.5 674.6L1643.4 677.7L1643.1 680.8L1642.9 680.8L1642.6 683.8L1642.3 686.9L1642 686.9L1641.7 690L1641.4 690L1641.2 693L1641 696.1L1640.8 696.1L1640.6 699.2L1640.3 699.2L1640 702.2L1639.5 705.3L1639.1 705.3L1638.7 708.4L1638.3 711.4L1638 711.4L1637.7 714.5L1637.5 717.6L1637.2 717.6L1636.8 720.6L1636.4 723.7L1636 723.7L1635.6 726.8L1635.1 726.8L1634.8 729.8L1634.5 732.9L1634.2 732.9L1634 736L1633.7 739L1633.4 739L1633.1 742.1L1632.8 745.2L1632.5 745.2L1632.3 748.2L1632.1 748.2L1631.9 751.3L1631.8 751.3L1631.7 754.4L1631.6 757.4L1631.4 757.4L1631.2 760.5L1631 760.5L1630.7 763.6L1630.4 766.6L1630.1 766.6L1630 769.7L1629.8 769.7L1629.8 772.8L1624.8 772.8ZM2021 500.9L2023 504L2187 504L2189 507.1L2341 507.1L2343 510.1L2397 510.1L2397 515.1L2392 515.1L2338 515.1L2336 512.1L2184 512.1L2182 509L2018 509L2016 505.9L2016 500.9Z"/>
</g>
<path class="ax" shape-rendering="crispEdges" d="M242 52.5H2397M266.5 50V1588.5M2394.5 50V1610M243 1586H2397M242 359.2H266.5M242 665.9H266.5M242 972.6H266.5M242 1279.3H266.5M570.6 1586V1610M1178.5 1586V1610M1786.5 1586V1610"/>
<g class="ar" shape-rendering="crispEdges"><path d="M924 577V1418"/><path d="M896.3 1316.5L923.8 1421.5L951 1316.5"/></g>
<g filter="url(#bw)">
<text x="139.5" y="74.6" font-size="59.5" text-anchor="start" >-0.1</text>
<text x="125.3" y="376.6" font-size="59.5" text-anchor="start" >-0.2</text>
<text x="130.5" y="678.4" font-size="59.5" text-anchor="start" >-0.3</text>
<text x="139.5" y="998.5" font-size="59.5" text-anchor="start" >-0.4</text>
<text x="139.5" y="1304.3" font-size="59.5" text-anchor="start" >-0.5</text>
<text x="138.5" y="1588.6" font-size="59.5" text-anchor="start" >-0.6</text>
<text x="570.6" y="1690" font-size="59.5" text-anchor="middle" >80</text>
<text x="1178.5" y="1690" font-size="59.5" text-anchor="middle" >100</text>
<text x="1786.5" y="1690" font-size="59.5" text-anchor="middle" >120</text>
<text x="2394.5" y="1690" font-size="59.5" text-anchor="middle" >140</text>
<text x="1112.8" y="574.5" font-size="59.5" text-anchor="start" >0 min</text>
<text x="1163.5" y="750.8" font-size="59.5" text-anchor="start" >30 min</text>
<text x="1257.5" y="881.5" font-size="59.5" text-anchor="start" >1 h</text>
<text x="1266.2" y="1012" font-size="59.5" text-anchor="start" >2 h</text>
<text x="1306.2" y="1160.4" font-size="59.5" text-anchor="start" >4 h</text>
<text x="1343.6" y="1281.8" font-size="59.5" text-anchor="start" >8 h</text>
<text x="1352.1" y="1412.7" font-size="59.5" text-anchor="start" >16 h</text>
<text x="1401.4" y="1530.6" font-size="59.5" text-anchor="start" >32 h</text>
<text x="351.5" y="1504.3" font-size="59.5" text-anchor="start" >exo up</text>
<text transform="translate(897.4 503.2) scale(1 1.13)" font-size="59.5" font-style="italic">t</text>
<text transform="translate(913.2 520.6) scale(0.9 1)" font-size="39.5">a</text>
<text x="1893.5" y="158.2" font-size="83.8" text-anchor="middle" font-weight="bold">Indapamide</text>
<text x="1894.3" y="258.5" font-size="83.8" text-anchor="middle">isothermal aging at 85<tspan font-size="55" dy="-42.5">o</tspan><tspan dy="42.5">C</tspan></text>
<text x="1330.2" y="1832" font-size="72.5" text-anchor="middle">Temperature, <tspan font-size="48.5" dy="-36.3">o</tspan><tspan dy="36.3">C</tspan></text>
<text transform="translate(96.2 1114.3) rotate(-90)" font-size="72.5">Heat flow, W<tspan font-size="30" dy="-4.5" dx="2.5">*</tspan><tspan dy="4.5">g</tspan><tspan font-size="50" dy="-37">-1</tspan></text>
</g>
</svg></body></html>
